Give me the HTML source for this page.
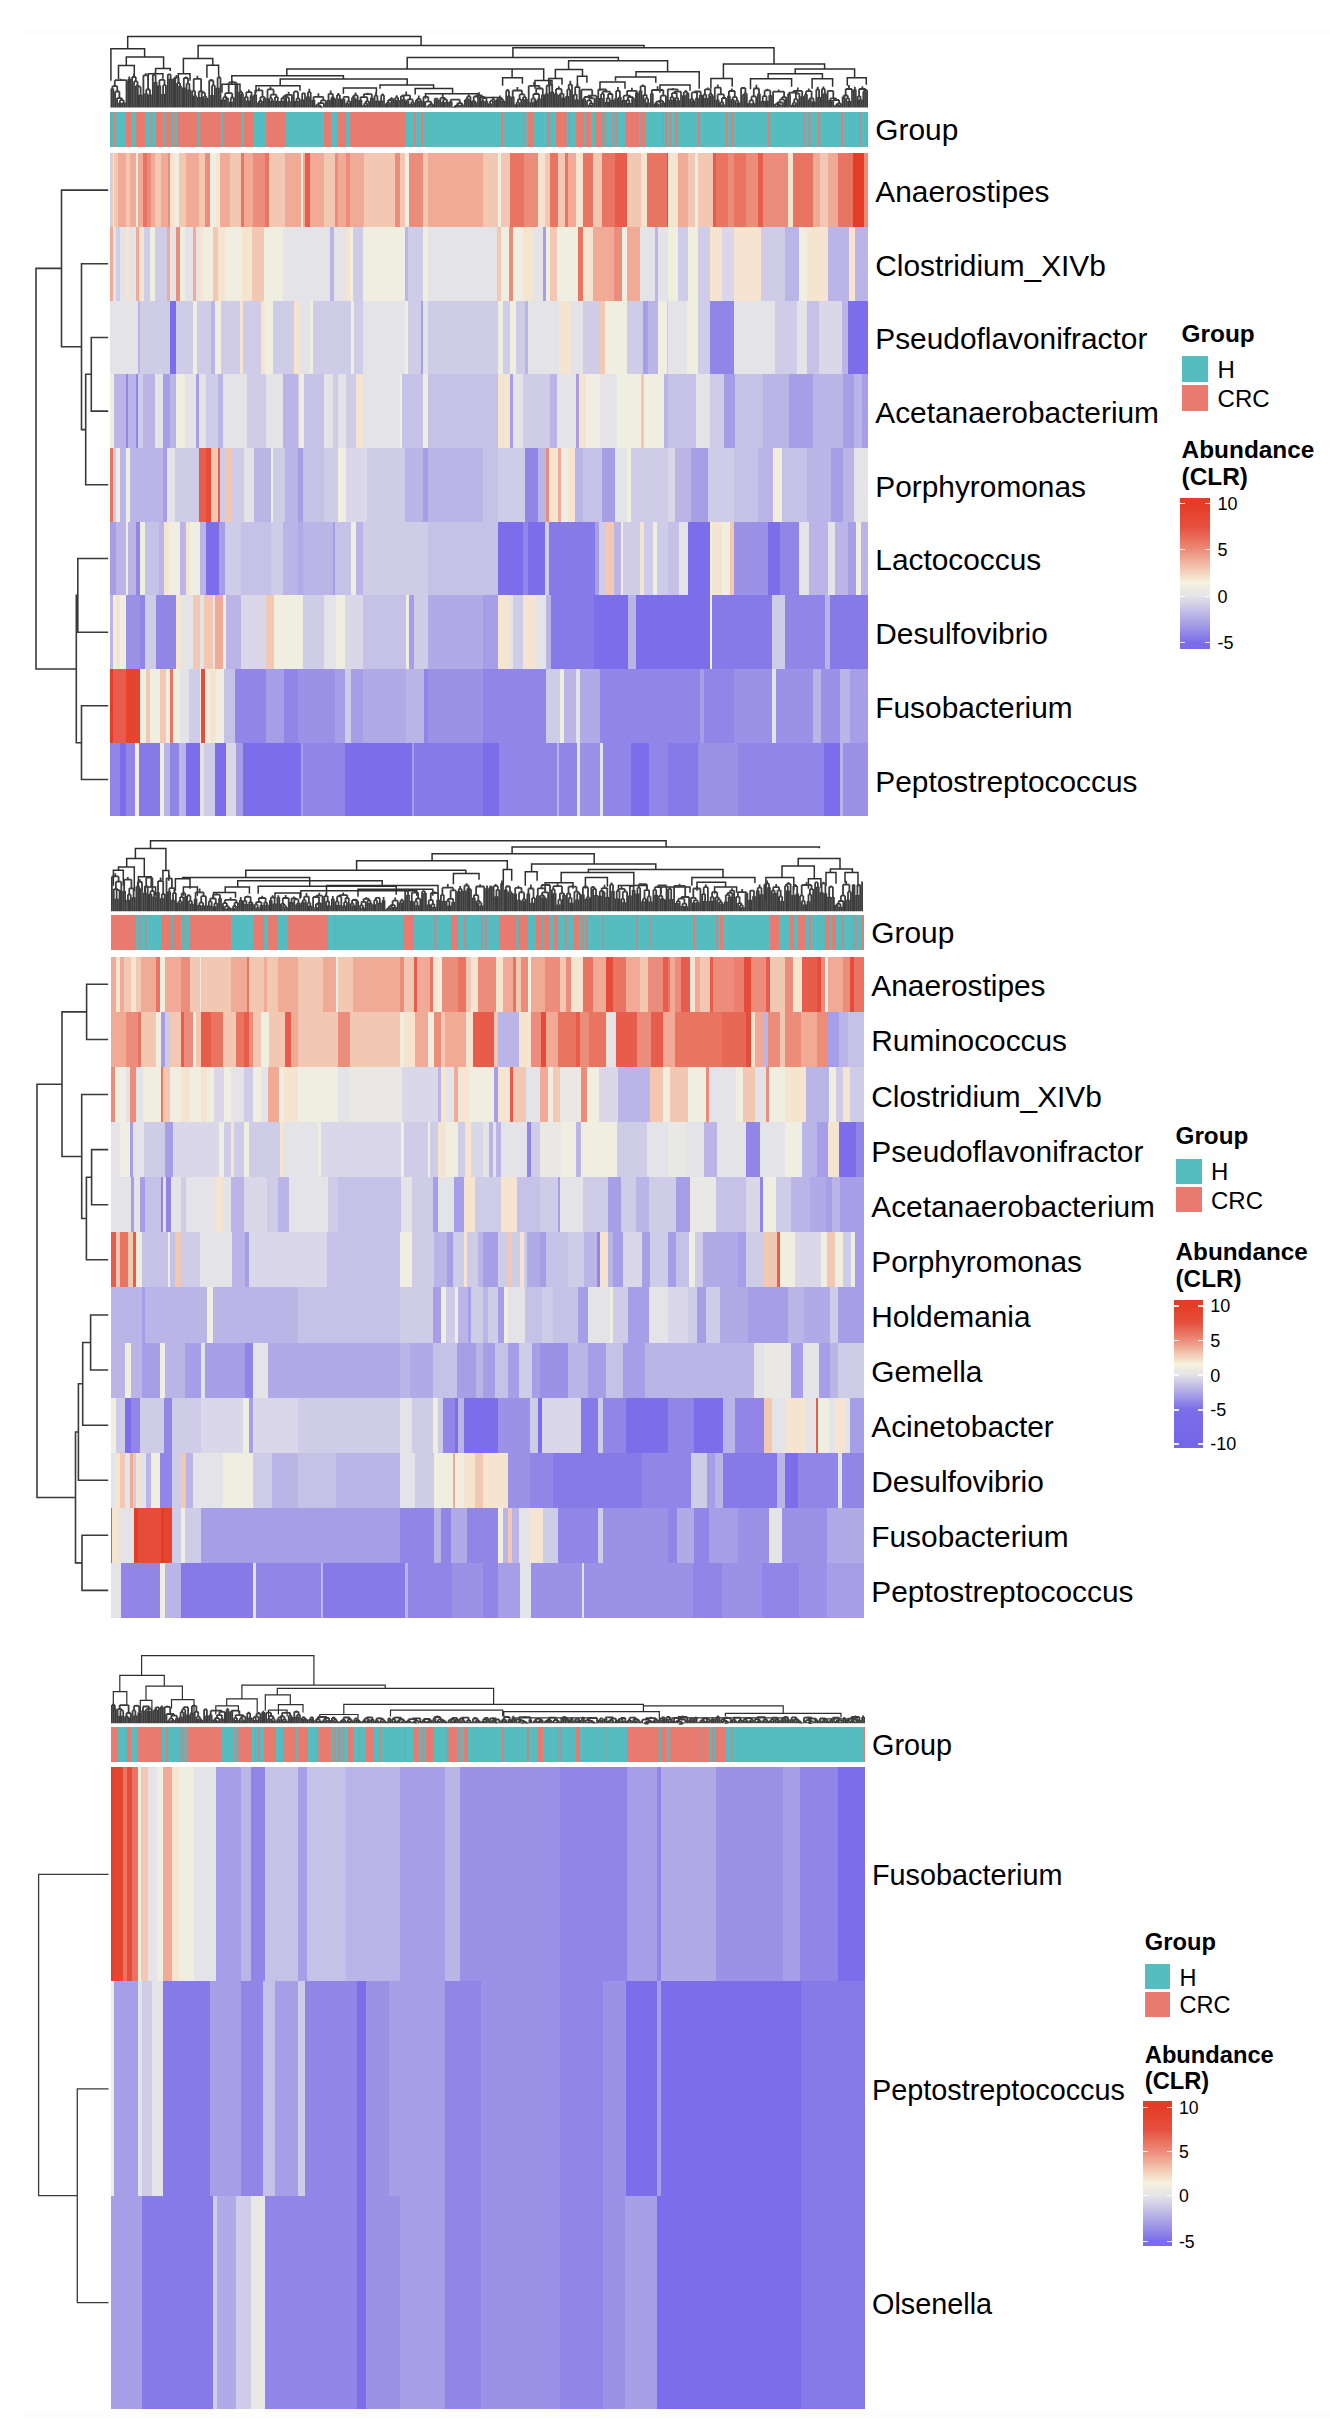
<!DOCTYPE html>
<html><head><meta charset="utf-8"><style>
html,body{margin:0;padding:0;background:#fff;width:1330px;height:2431px;overflow:hidden}
svg{display:block}
rect{shape-rendering:crispEdges}
text{font-family:"Liberation Sans",sans-serif}
</style></head><body>
<svg width="1330" height="2431" viewBox="0 0 1330 2431">
<defs><pattern id="mix" patternUnits="userSpaceOnUse" width="4.2" height="40"><rect x="0" y="0" width="1.6" height="40" fill="#55bcc0"/><rect x="1.6" y="0" width="0.6" height="40" fill="#9a9a9a"/><rect x="2.2" y="0" width="1.5" height="40" fill="#e87a70"/><rect x="3.7" y="0" width="0.5" height="40" fill="#9a9a9a"/></pattern></defs>
<rect x="23" y="28.5" width="1307" height="2390" fill="#fdfdfd"/>
<rect x="23" y="36" width="1307" height="2375" fill="#ffffff"/>
<rect x="110.00" y="112.00" width="2.06" height="35.00" fill="url(#mix)"/><rect x="111.71" y="112.00" width="2.92" height="35.00" fill="#55bcc0"/><rect x="114.29" y="112.00" width="1.55" height="35.00" fill="#e87a70"/><rect x="115.49" y="112.00" width="11.15" height="35.00" fill="#55bcc0"/><rect x="126.29" y="112.00" width="4.64" height="35.00" fill="#e87a70"/><rect x="130.58" y="112.00" width="5.49" height="35.00" fill="#55bcc0"/><rect x="135.72" y="112.00" width="9.78" height="35.00" fill="#e87a70"/><rect x="145.15" y="112.00" width="5.49" height="35.00" fill="#55bcc0"/><rect x="150.30" y="112.00" width="1.55" height="35.00" fill="url(#mix)"/><rect x="151.50" y="112.00" width="4.81" height="35.00" fill="#55bcc0"/><rect x="155.96" y="112.00" width="7.55" height="35.00" fill="#e87a70"/><rect x="163.16" y="112.00" width="2.92" height="35.00" fill="url(#mix)"/><rect x="165.73" y="112.00" width="4.64" height="35.00" fill="#e87a70"/><rect x="170.02" y="112.00" width="2.92" height="35.00" fill="url(#mix)"/><rect x="172.59" y="112.00" width="2.92" height="35.00" fill="#e87a70"/><rect x="175.16" y="112.00" width="2.41" height="35.00" fill="#55bcc0"/><rect x="177.22" y="112.00" width="20.93" height="35.00" fill="#e87a70"/><rect x="197.80" y="112.00" width="2.58" height="35.00" fill="#55bcc0"/><rect x="200.03" y="112.00" width="20.93" height="35.00" fill="#e87a70"/><rect x="220.60" y="112.00" width="2.92" height="35.00" fill="#55bcc0"/><rect x="223.18" y="112.00" width="18.36" height="35.00" fill="#e87a70"/><rect x="241.18" y="112.00" width="2.92" height="35.00" fill="#55bcc0"/><rect x="243.75" y="112.00" width="9.78" height="35.00" fill="#e87a70"/><rect x="253.19" y="112.00" width="13.21" height="35.00" fill="#55bcc0"/><rect x="266.05" y="112.00" width="19.21" height="35.00" fill="#e87a70"/><rect x="284.91" y="112.00" width="39.93" height="35.00" fill="#55bcc0"/><rect x="324.49" y="112.00" width="6.52" height="35.00" fill="#e87a70"/><rect x="330.67" y="112.00" width="7.90" height="35.00" fill="#55bcc0"/><rect x="338.21" y="112.00" width="8.24" height="35.00" fill="#e87a70"/><rect x="346.10" y="112.00" width="4.12" height="35.00" fill="#55bcc0"/><rect x="349.87" y="112.00" width="55.22" height="35.00" fill="#e87a70"/><rect x="404.75" y="112.00" width="8.92" height="35.00" fill="#55bcc0"/><rect x="413.32" y="112.00" width="2.92" height="35.00" fill="url(#mix)"/><rect x="415.89" y="112.00" width="4.98" height="35.00" fill="#55bcc0"/><rect x="420.52" y="112.00" width="3.09" height="35.00" fill="#e87a70"/><rect x="423.27" y="112.00" width="77.66" height="35.00" fill="#55bcc0"/><rect x="500.58" y="112.00" width="2.92" height="35.00" fill="#e87a70"/><rect x="503.15" y="112.00" width="20.93" height="35.00" fill="#55bcc0"/><rect x="523.73" y="112.00" width="2.58" height="35.00" fill="url(#mix)"/><rect x="525.96" y="112.00" width="2.41" height="35.00" fill="#55bcc0"/><rect x="528.01" y="112.00" width="5.49" height="35.00" fill="#e87a70"/><rect x="533.16" y="112.00" width="14.07" height="35.00" fill="#55bcc0"/><rect x="546.88" y="112.00" width="3.78" height="35.00" fill="#e87a70"/><rect x="550.31" y="112.00" width="6.35" height="35.00" fill="#55bcc0"/><rect x="556.31" y="112.00" width="8.92" height="35.00" fill="#e87a70"/><rect x="564.88" y="112.00" width="5.49" height="35.00" fill="url(#mix)"/><rect x="570.03" y="112.00" width="6.35" height="35.00" fill="#55bcc0"/><rect x="576.03" y="112.00" width="8.07" height="35.00" fill="#e87a70"/><rect x="583.75" y="112.00" width="2.92" height="35.00" fill="url(#mix)"/><rect x="586.32" y="112.00" width="4.64" height="35.00" fill="#e87a70"/><rect x="590.60" y="112.00" width="4.64" height="35.00" fill="#55bcc0"/><rect x="594.89" y="112.00" width="6.35" height="35.00" fill="#e87a70"/><rect x="600.89" y="112.00" width="6.35" height="35.00" fill="url(#mix)"/><rect x="606.90" y="112.00" width="5.49" height="35.00" fill="#55bcc0"/><rect x="612.04" y="112.00" width="5.49" height="35.00" fill="url(#mix)"/><rect x="617.18" y="112.00" width="8.07" height="35.00" fill="#55bcc0"/><rect x="624.90" y="112.00" width="14.07" height="35.00" fill="#e87a70"/><rect x="638.62" y="112.00" width="2.92" height="35.00" fill="url(#mix)"/><rect x="641.19" y="112.00" width="4.64" height="35.00" fill="#e87a70"/><rect x="645.48" y="112.00" width="18.36" height="35.00" fill="#55bcc0"/><rect x="663.48" y="112.00" width="4.37" height="35.00" fill="url(#mix)"/><rect x="667.50" y="112.00" width="1.28" height="35.00" fill="#55bcc0"/><rect x="668.43" y="112.00" width="2.92" height="35.00" fill="url(#mix)"/><rect x="671.00" y="112.00" width="4.64" height="35.00" fill="#55bcc0"/><rect x="675.29" y="112.00" width="2.92" height="35.00" fill="#e87a70"/><rect x="677.87" y="112.00" width="19.22" height="35.00" fill="#55bcc0"/><rect x="696.74" y="112.00" width="3.78" height="35.00" fill="#e87a70"/><rect x="700.17" y="112.00" width="26.09" height="35.00" fill="#55bcc0"/><rect x="725.91" y="112.00" width="2.07" height="35.00" fill="#e87a70"/><rect x="727.62" y="112.00" width="3.78" height="35.00" fill="#55bcc0"/><rect x="731.05" y="112.00" width="2.07" height="35.00" fill="#e87a70"/><rect x="732.77" y="112.00" width="35.52" height="35.00" fill="#55bcc0"/><rect x="767.94" y="112.00" width="2.07" height="35.00" fill="#e87a70"/><rect x="769.66" y="112.00" width="32.95" height="35.00" fill="#55bcc0"/><rect x="802.25" y="112.00" width="2.92" height="35.00" fill="url(#mix)"/><rect x="804.83" y="112.00" width="3.78" height="35.00" fill="#55bcc0"/><rect x="808.26" y="112.00" width="2.92" height="35.00" fill="url(#mix)"/><rect x="810.83" y="112.00" width="7.21" height="35.00" fill="#55bcc0"/><rect x="817.70" y="112.00" width="2.92" height="35.00" fill="#e87a70"/><rect x="820.27" y="112.00" width="20.94" height="35.00" fill="#55bcc0"/><rect x="840.86" y="112.00" width="2.41" height="35.00" fill="#e87a70"/><rect x="842.92" y="112.00" width="16.31" height="35.00" fill="#55bcc0"/><rect x="858.87" y="112.00" width="2.92" height="35.00" fill="url(#mix)"/><rect x="861.45" y="112.00" width="5.50" height="35.00" fill="#55bcc0"/><rect x="866.59" y="112.00" width="1.41" height="35.00" fill="#e87a70"/>
<rect x="110.00" y="153.30" width="1.72" height="73.67" fill="#cfcce7"/><rect x="111.37" y="153.30" width="2.06" height="73.67" fill="#f3c8b2"/><rect x="113.09" y="153.30" width="1.55" height="73.67" fill="#f0ede1"/><rect x="114.29" y="153.30" width="3.78" height="73.67" fill="#f3c8b2"/><rect x="117.72" y="153.30" width="8.92" height="73.67" fill="#f0aa96"/><rect x="126.29" y="153.30" width="3.78" height="73.67" fill="#f3c8b2"/><rect x="129.72" y="153.30" width="6.35" height="73.67" fill="#f0aa96"/><rect x="135.72" y="153.30" width="2.58" height="73.67" fill="#f0ede1"/><rect x="137.95" y="153.30" width="4.98" height="73.67" fill="#f0aa96"/><rect x="142.58" y="153.30" width="4.64" height="73.67" fill="#ea7462"/><rect x="146.87" y="153.30" width="4.64" height="73.67" fill="#ec8c7a"/><rect x="151.16" y="153.30" width="4.64" height="73.67" fill="#f0aa96"/><rect x="155.44" y="153.30" width="6.35" height="73.67" fill="#f3c8b2"/><rect x="161.44" y="153.30" width="7.21" height="73.67" fill="#f0aa96"/><rect x="168.30" y="153.30" width="2.06" height="73.67" fill="#ec8c7a"/><rect x="170.02" y="153.30" width="5.49" height="73.67" fill="#f5e4cf"/><rect x="175.16" y="153.30" width="3.78" height="73.67" fill="#f0ede1"/><rect x="178.59" y="153.30" width="8.07" height="73.67" fill="#f3c8b2"/><rect x="186.31" y="153.30" width="13.21" height="73.67" fill="#f0aa96"/><rect x="199.17" y="153.30" width="6.35" height="73.67" fill="#f3c8b2"/><rect x="205.17" y="153.30" width="5.49" height="73.67" fill="#ec8c7a"/><rect x="210.32" y="153.30" width="6.35" height="73.67" fill="#f0ede1"/><rect x="216.32" y="153.30" width="3.78" height="73.67" fill="#f5e4cf"/><rect x="219.75" y="153.30" width="10.64" height="73.67" fill="#f0aa96"/><rect x="230.04" y="153.30" width="11.50" height="73.67" fill="#f3c8b2"/><rect x="241.18" y="153.30" width="2.92" height="73.67" fill="#ea7462"/><rect x="243.75" y="153.30" width="9.78" height="73.67" fill="#f0aa96"/><rect x="253.19" y="153.30" width="12.35" height="73.67" fill="#ec8c7a"/><rect x="265.19" y="153.30" width="3.78" height="73.67" fill="#ea7462"/><rect x="268.62" y="153.30" width="16.64" height="73.67" fill="#f3c8b2"/><rect x="284.91" y="153.30" width="12.94" height="73.67" fill="#f0aa96"/><rect x="297.50" y="153.30" width="0.94" height="73.67" fill="#f3c8b2"/><rect x="298.09" y="153.30" width="3.27" height="73.67" fill="#f0aa96"/><rect x="301.00" y="153.30" width="2.58" height="73.67" fill="#f0ede1"/><rect x="303.23" y="153.30" width="2.41" height="73.67" fill="#f0aa96"/><rect x="305.29" y="153.30" width="4.64" height="73.67" fill="#e75c4a"/><rect x="309.58" y="153.30" width="14.93" height="73.67" fill="#f0aa96"/><rect x="324.15" y="153.30" width="11.50" height="73.67" fill="#f3c8b2"/><rect x="335.30" y="153.30" width="2.92" height="73.67" fill="#ec8c7a"/><rect x="337.87" y="153.30" width="8.92" height="73.67" fill="#f0aa96"/><rect x="346.44" y="153.30" width="3.78" height="73.67" fill="#ec8c7a"/><rect x="349.87" y="153.30" width="14.07" height="73.67" fill="#f0aa96"/><rect x="363.59" y="153.30" width="32.07" height="73.67" fill="#f3c8b2"/><rect x="395.32" y="153.30" width="4.64" height="73.67" fill="#ec8c7a"/><rect x="399.60" y="153.30" width="5.49" height="73.67" fill="#f3c8b2"/><rect x="404.75" y="153.30" width="4.64" height="73.67" fill="#f0ede1"/><rect x="409.03" y="153.30" width="14.07" height="73.67" fill="#ec8c7a"/><rect x="422.75" y="153.30" width="5.49" height="73.67" fill="#f3c8b2"/><rect x="427.90" y="153.30" width="54.95" height="73.67" fill="#f0aa96"/><rect x="482.50" y="153.30" width="15.86" height="73.67" fill="#f3c8b2"/><rect x="498.01" y="153.30" width="2.92" height="73.67" fill="#f0ede1"/><rect x="500.58" y="153.30" width="9.78" height="73.67" fill="#f3c8b2"/><rect x="510.01" y="153.30" width="14.07" height="73.67" fill="#ea7462"/><rect x="523.73" y="153.30" width="14.93" height="73.67" fill="#ec8c7a"/><rect x="538.30" y="153.30" width="7.21" height="73.67" fill="#f5e4cf"/><rect x="545.16" y="153.30" width="5.49" height="73.67" fill="#f3c8b2"/><rect x="550.31" y="153.30" width="8.07" height="73.67" fill="#ea7462"/><rect x="558.02" y="153.30" width="7.21" height="73.67" fill="#f3c8b2"/><rect x="564.88" y="153.30" width="3.78" height="73.67" fill="#ea7462"/><rect x="568.31" y="153.30" width="8.07" height="73.67" fill="#f0aa96"/><rect x="576.03" y="153.30" width="7.21" height="73.67" fill="#f5e4cf"/><rect x="582.89" y="153.30" width="10.64" height="73.67" fill="#ea7462"/><rect x="593.18" y="153.30" width="8.92" height="73.67" fill="#f3c8b2"/><rect x="601.75" y="153.30" width="14.07" height="73.67" fill="#ea7462"/><rect x="615.47" y="153.30" width="12.35" height="73.67" fill="#e75c4a"/><rect x="627.47" y="153.30" width="14.07" height="73.67" fill="#f3c8b2"/><rect x="641.19" y="153.30" width="6.35" height="73.67" fill="#f5e4cf"/><rect x="647.19" y="153.30" width="20.07" height="73.67" fill="#ea7462"/><rect x="666.91" y="153.30" width="0.94" height="73.67" fill="#e64c39"/><rect x="667.50" y="153.30" width="1.28" height="73.67" fill="#e75c4a"/><rect x="668.43" y="153.30" width="9.79" height="73.67" fill="#f5e4cf"/><rect x="677.87" y="153.30" width="10.64" height="73.67" fill="#f0aa96"/><rect x="688.16" y="153.30" width="7.21" height="73.67" fill="#f3c8b2"/><rect x="695.02" y="153.30" width="2.92" height="73.67" fill="#f0ede1"/><rect x="697.60" y="153.30" width="15.79" height="73.67" fill="#f3c8b2"/><rect x="713.04" y="153.30" width="3.78" height="73.67" fill="#e75c4a"/><rect x="716.47" y="153.30" width="11.50" height="73.67" fill="#ea7462"/><rect x="727.62" y="153.30" width="7.21" height="73.67" fill="#ec8c7a"/><rect x="734.49" y="153.30" width="11.50" height="73.67" fill="#ea7462"/><rect x="745.64" y="153.30" width="12.36" height="73.67" fill="#ec8c7a"/><rect x="757.65" y="153.30" width="5.50" height="73.67" fill="#e75c4a"/><rect x="762.79" y="153.30" width="25.23" height="73.67" fill="#ec8c7a"/><rect x="787.67" y="153.30" width="5.50" height="73.67" fill="#f5e4cf"/><rect x="792.82" y="153.30" width="20.08" height="73.67" fill="#ea7462"/><rect x="812.55" y="153.30" width="8.07" height="73.67" fill="#f0aa96"/><rect x="820.27" y="153.30" width="8.07" height="73.67" fill="#f3c8b2"/><rect x="827.99" y="153.30" width="10.64" height="73.67" fill="#f0aa96"/><rect x="838.28" y="153.30" width="14.93" height="73.67" fill="#ea7462"/><rect x="852.87" y="153.30" width="11.50" height="73.67" fill="#e53c25"/><rect x="864.02" y="153.30" width="3.98" height="73.67" fill="#ec8c7a"/>
<rect x="110.00" y="226.97" width="2.92" height="73.67" fill="#f0aa96"/><rect x="112.57" y="226.97" width="3.78" height="73.67" fill="#e4e3e8"/><rect x="116.00" y="226.97" width="4.64" height="73.67" fill="#cfcce7"/><rect x="120.29" y="226.97" width="6.35" height="73.67" fill="#e4e3e8"/><rect x="126.29" y="226.97" width="2.92" height="73.67" fill="#f5e4cf"/><rect x="128.86" y="226.97" width="7.21" height="73.67" fill="#e4e3e8"/><rect x="135.72" y="226.97" width="3.78" height="73.67" fill="#f0aa96"/><rect x="139.15" y="226.97" width="5.49" height="73.67" fill="#f5e4cf"/><rect x="144.30" y="226.97" width="6.35" height="73.67" fill="#cfcce7"/><rect x="150.30" y="226.97" width="4.64" height="73.67" fill="#f0ede1"/><rect x="154.58" y="226.97" width="12.35" height="73.67" fill="#cfcce7"/><rect x="166.59" y="226.97" width="3.78" height="73.67" fill="#f0aa96"/><rect x="170.02" y="226.97" width="6.35" height="73.67" fill="#e4e3e8"/><rect x="176.02" y="226.97" width="4.64" height="73.67" fill="#ec8c7a"/><rect x="180.31" y="226.97" width="5.49" height="73.67" fill="#f0ede1"/><rect x="185.45" y="226.97" width="8.07" height="73.67" fill="#e4e3e8"/><rect x="193.17" y="226.97" width="2.92" height="73.67" fill="#f0aa96"/><rect x="195.74" y="226.97" width="3.78" height="73.67" fill="#e4e3e8"/><rect x="199.17" y="226.97" width="4.64" height="73.67" fill="#f5e4cf"/><rect x="203.46" y="226.97" width="9.78" height="73.67" fill="#f0ede1"/><rect x="212.89" y="226.97" width="5.49" height="73.67" fill="#f3c8b2"/><rect x="218.03" y="226.97" width="7.21" height="73.67" fill="#f5e4cf"/><rect x="224.89" y="226.97" width="17.50" height="73.67" fill="#f0ede1"/><rect x="242.04" y="226.97" width="10.64" height="73.67" fill="#f5e4cf"/><rect x="252.33" y="226.97" width="12.35" height="73.67" fill="#f3c8b2"/><rect x="264.33" y="226.97" width="19.21" height="73.67" fill="#f0ede1"/><rect x="283.19" y="226.97" width="47.31" height="73.67" fill="#e4e3e8"/><rect x="330.15" y="226.97" width="3.78" height="73.67" fill="#bab5e6"/><rect x="333.58" y="226.97" width="12.35" height="73.67" fill="#e4e3e8"/><rect x="345.59" y="226.97" width="4.64" height="73.67" fill="#f5e4cf"/><rect x="349.87" y="226.97" width="3.78" height="73.67" fill="#f0ede1"/><rect x="353.30" y="226.97" width="9.78" height="73.67" fill="#cfcce7"/><rect x="362.73" y="226.97" width="42.36" height="73.67" fill="#f0ede1"/><rect x="404.75" y="226.97" width="3.78" height="73.67" fill="#bab5e6"/><rect x="408.18" y="226.97" width="14.93" height="73.67" fill="#cfcce7"/><rect x="422.75" y="226.97" width="5.49" height="73.67" fill="#f0ede1"/><rect x="427.90" y="226.97" width="69.60" height="73.67" fill="#e4e3e8"/><rect x="497.15" y="226.97" width="3.78" height="73.67" fill="#f3c8b2"/><rect x="500.58" y="226.97" width="8.92" height="73.67" fill="#f0ede1"/><rect x="509.15" y="226.97" width="3.78" height="73.67" fill="#ec8c7a"/><rect x="512.58" y="226.97" width="10.64" height="73.67" fill="#f0ede1"/><rect x="522.87" y="226.97" width="10.64" height="73.67" fill="#f5e4cf"/><rect x="533.16" y="226.97" width="9.78" height="73.67" fill="#e4e3e8"/><rect x="542.59" y="226.97" width="3.78" height="73.67" fill="#a69ee7"/><rect x="546.02" y="226.97" width="4.64" height="73.67" fill="#f0ede1"/><rect x="550.31" y="226.97" width="7.21" height="73.67" fill="#f3c8b2"/><rect x="557.17" y="226.97" width="20.93" height="73.67" fill="#f0ede1"/><rect x="577.74" y="226.97" width="5.49" height="73.67" fill="#ea7462"/><rect x="582.89" y="226.97" width="10.64" height="73.67" fill="#f5e4cf"/><rect x="593.18" y="226.97" width="20.93" height="73.67" fill="#f0aa96"/><rect x="613.75" y="226.97" width="8.92" height="73.67" fill="#ec8c7a"/><rect x="622.33" y="226.97" width="5.49" height="73.67" fill="#f0ede1"/><rect x="627.47" y="226.97" width="13.21" height="73.67" fill="#f0aa96"/><rect x="640.33" y="226.97" width="14.93" height="73.67" fill="#e4e3e8"/><rect x="654.91" y="226.97" width="3.78" height="73.67" fill="#bab5e6"/><rect x="658.34" y="226.97" width="9.51" height="73.67" fill="#e4e3e8"/><rect x="667.50" y="226.97" width="10.72" height="73.67" fill="#f0ede1"/><rect x="677.87" y="226.97" width="10.64" height="73.67" fill="#cfcce7"/><rect x="688.16" y="226.97" width="9.79" height="73.67" fill="#f0ede1"/><rect x="697.60" y="226.97" width="12.36" height="73.67" fill="#cfcce7"/><rect x="709.61" y="226.97" width="12.36" height="73.67" fill="#f5e4cf"/><rect x="721.62" y="226.97" width="13.22" height="73.67" fill="#dad8e8"/><rect x="734.49" y="226.97" width="26.94" height="73.67" fill="#f5e4cf"/><rect x="761.08" y="226.97" width="24.37" height="73.67" fill="#cfcce7"/><rect x="785.10" y="226.97" width="14.08" height="73.67" fill="#bab5e6"/><rect x="798.82" y="226.97" width="8.93" height="73.67" fill="#f0ede1"/><rect x="807.40" y="226.97" width="20.94" height="73.67" fill="#f5e4cf"/><rect x="827.99" y="226.97" width="20.94" height="73.67" fill="#bab5e6"/><rect x="848.58" y="226.97" width="7.21" height="73.67" fill="#f5e4cf"/><rect x="855.44" y="226.97" width="12.56" height="73.67" fill="#bab5e6"/>
<rect x="110.00" y="300.64" width="28.64" height="73.67" fill="#e4e3e8"/><rect x="138.29" y="300.64" width="2.06" height="73.67" fill="#bab5e6"/><rect x="140.01" y="300.64" width="30.36" height="73.67" fill="#cfcce7"/><rect x="170.02" y="300.64" width="6.35" height="73.67" fill="#7c6eea"/><rect x="176.02" y="300.64" width="17.50" height="73.67" fill="#cfcce7"/><rect x="193.17" y="300.64" width="3.78" height="73.67" fill="#f0ede1"/><rect x="196.60" y="300.64" width="14.93" height="73.67" fill="#cfcce7"/><rect x="211.17" y="300.64" width="4.64" height="73.67" fill="#bab5e6"/><rect x="215.46" y="300.64" width="6.35" height="73.67" fill="#f0ede1"/><rect x="221.46" y="300.64" width="19.21" height="73.67" fill="#cfcce7"/><rect x="240.32" y="300.64" width="2.92" height="73.67" fill="#f5e4cf"/><rect x="242.90" y="300.64" width="18.36" height="73.67" fill="#cfcce7"/><rect x="260.90" y="300.64" width="4.64" height="73.67" fill="#f5e4cf"/><rect x="265.19" y="300.64" width="8.07" height="73.67" fill="#f0ede1"/><rect x="272.91" y="300.64" width="21.79" height="73.67" fill="#cfcce7"/><rect x="294.34" y="300.64" width="6.15" height="73.67" fill="#f5e4cf"/><rect x="300.14" y="300.64" width="9.78" height="73.67" fill="#e4e3e8"/><rect x="309.58" y="300.64" width="3.78" height="73.67" fill="#f0ede1"/><rect x="313.01" y="300.64" width="38.08" height="73.67" fill="#cfcce7"/><rect x="350.73" y="300.64" width="3.78" height="73.67" fill="#f0ede1"/><rect x="354.16" y="300.64" width="8.92" height="73.67" fill="#cfcce7"/><rect x="362.73" y="300.64" width="42.36" height="73.67" fill="#e4e3e8"/><rect x="404.75" y="300.64" width="3.78" height="73.67" fill="#f0ede1"/><rect x="408.18" y="300.64" width="13.21" height="73.67" fill="#cfcce7"/><rect x="421.04" y="300.64" width="2.06" height="73.67" fill="#a69ee7"/><rect x="422.75" y="300.64" width="5.49" height="73.67" fill="#e4e3e8"/><rect x="427.90" y="300.64" width="70.46" height="73.67" fill="#cfcce7"/><rect x="498.01" y="300.64" width="5.49" height="73.67" fill="#f0ede1"/><rect x="503.15" y="300.64" width="7.21" height="73.67" fill="#cfcce7"/><rect x="510.01" y="300.64" width="6.35" height="73.67" fill="#f0ede1"/><rect x="516.01" y="300.64" width="8.92" height="73.67" fill="#cfcce7"/><rect x="524.58" y="300.64" width="3.78" height="73.67" fill="#bab5e6"/><rect x="528.01" y="300.64" width="31.22" height="73.67" fill="#e4e3e8"/><rect x="558.88" y="300.64" width="12.35" height="73.67" fill="#f5e4cf"/><rect x="570.88" y="300.64" width="12.35" height="73.67" fill="#e4e3e8"/><rect x="582.89" y="300.64" width="17.50" height="73.67" fill="#cfcce7"/><rect x="600.04" y="300.64" width="5.49" height="73.67" fill="#f3c8b2"/><rect x="605.18" y="300.64" width="22.64" height="73.67" fill="#f0ede1"/><rect x="627.47" y="300.64" width="15.78" height="73.67" fill="#cfcce7"/><rect x="642.91" y="300.64" width="5.49" height="73.67" fill="#a69ee7"/><rect x="648.05" y="300.64" width="10.64" height="73.67" fill="#bab5e6"/><rect x="658.34" y="300.64" width="8.92" height="73.67" fill="#f0ede1"/><rect x="666.91" y="300.64" width="0.94" height="73.67" fill="#cfcce7"/><rect x="667.50" y="300.64" width="20.15" height="73.67" fill="#e4e3e8"/><rect x="687.30" y="300.64" width="11.50" height="73.67" fill="#f0ede1"/><rect x="698.46" y="300.64" width="11.50" height="73.67" fill="#cfcce7"/><rect x="709.61" y="300.64" width="25.23" height="73.67" fill="#9186e8"/><rect x="734.49" y="300.64" width="40.67" height="73.67" fill="#e4e3e8"/><rect x="774.80" y="300.64" width="22.65" height="73.67" fill="#cfcce7"/><rect x="797.11" y="300.64" width="10.64" height="73.67" fill="#e4e3e8"/><rect x="807.40" y="300.64" width="12.36" height="73.67" fill="#c5c1e7"/><rect x="819.41" y="300.64" width="22.65" height="73.67" fill="#dad8e8"/><rect x="841.72" y="300.64" width="6.35" height="73.67" fill="#bab5e6"/><rect x="847.72" y="300.64" width="20.28" height="73.67" fill="#7c6eea"/>
<rect x="110.00" y="374.31" width="4.64" height="73.67" fill="#f0ede1"/><rect x="114.29" y="374.31" width="12.35" height="73.67" fill="#bab5e6"/><rect x="126.29" y="374.31" width="2.06" height="73.67" fill="#9186e8"/><rect x="128.01" y="374.31" width="8.07" height="73.67" fill="#bab5e6"/><rect x="135.72" y="374.31" width="2.92" height="73.67" fill="#9186e8"/><rect x="138.29" y="374.31" width="4.64" height="73.67" fill="#cfcce7"/><rect x="142.58" y="374.31" width="13.21" height="73.67" fill="#bab5e6"/><rect x="155.44" y="374.31" width="8.07" height="73.67" fill="#e4e3e8"/><rect x="163.16" y="374.31" width="7.21" height="73.67" fill="#a69ee7"/><rect x="170.02" y="374.31" width="6.35" height="73.67" fill="#bab5e6"/><rect x="176.02" y="374.31" width="9.78" height="73.67" fill="#f0ede1"/><rect x="185.45" y="374.31" width="10.64" height="73.67" fill="#e4e3e8"/><rect x="195.74" y="374.31" width="3.78" height="73.67" fill="#a69ee7"/><rect x="199.17" y="374.31" width="7.21" height="73.67" fill="#e4e3e8"/><rect x="206.03" y="374.31" width="12.35" height="73.67" fill="#cfcce7"/><rect x="218.03" y="374.31" width="5.49" height="73.67" fill="#bab5e6"/><rect x="223.18" y="374.31" width="24.36" height="73.67" fill="#e4e3e8"/><rect x="247.18" y="374.31" width="19.21" height="73.67" fill="#cfcce7"/><rect x="266.05" y="374.31" width="17.50" height="73.67" fill="#e4e3e8"/><rect x="283.19" y="374.31" width="14.66" height="73.67" fill="#bab5e6"/><rect x="297.50" y="374.31" width="2.14" height="73.67" fill="#cfcce7"/><rect x="299.29" y="374.31" width="4.64" height="73.67" fill="#f0ede1"/><rect x="303.57" y="374.31" width="20.93" height="73.67" fill="#c5c1e7"/><rect x="324.15" y="374.31" width="8.92" height="73.67" fill="#e4e3e8"/><rect x="332.73" y="374.31" width="5.49" height="73.67" fill="#cfcce7"/><rect x="337.87" y="374.31" width="8.92" height="73.67" fill="#e4e3e8"/><rect x="346.44" y="374.31" width="9.78" height="73.67" fill="#cfcce7"/><rect x="355.88" y="374.31" width="7.21" height="73.67" fill="#f5e4cf"/><rect x="362.73" y="374.31" width="37.22" height="73.67" fill="#e4e3e8"/><rect x="399.60" y="374.31" width="2.92" height="73.67" fill="#f0ede1"/><rect x="402.18" y="374.31" width="20.93" height="73.67" fill="#c5c1e7"/><rect x="422.75" y="374.31" width="5.49" height="73.67" fill="#f0ede1"/><rect x="427.90" y="374.31" width="70.46" height="73.67" fill="#c5c1e7"/><rect x="498.01" y="374.31" width="12.35" height="73.67" fill="#f5e4cf"/><rect x="510.01" y="374.31" width="2.92" height="73.67" fill="#a69ee7"/><rect x="512.58" y="374.31" width="10.64" height="73.67" fill="#e4e3e8"/><rect x="522.87" y="374.31" width="27.79" height="73.67" fill="#cfcce7"/><rect x="550.31" y="374.31" width="7.21" height="73.67" fill="#bab5e6"/><rect x="557.17" y="374.31" width="19.21" height="73.67" fill="#e4e3e8"/><rect x="576.03" y="374.31" width="3.78" height="73.67" fill="#a69ee7"/><rect x="579.46" y="374.31" width="7.21" height="73.67" fill="#f5e4cf"/><rect x="586.32" y="374.31" width="14.07" height="73.67" fill="#f0ede1"/><rect x="600.04" y="374.31" width="17.50" height="73.67" fill="#e4e3e8"/><rect x="617.18" y="374.31" width="24.36" height="73.67" fill="#f0ede1"/><rect x="641.19" y="374.31" width="2.92" height="73.67" fill="#f3c8b2"/><rect x="643.76" y="374.31" width="20.93" height="73.67" fill="#f0ede1"/><rect x="664.34" y="374.31" width="3.51" height="73.67" fill="#bab5e6"/><rect x="667.50" y="374.31" width="28.73" height="73.67" fill="#c5c1e7"/><rect x="695.88" y="374.31" width="14.08" height="73.67" fill="#e4e3e8"/><rect x="709.61" y="374.31" width="14.93" height="73.67" fill="#cfcce7"/><rect x="724.19" y="374.31" width="11.50" height="73.67" fill="#a69ee7"/><rect x="735.34" y="374.31" width="27.80" height="73.67" fill="#c5c1e7"/><rect x="762.79" y="374.31" width="26.09" height="73.67" fill="#bab5e6"/><rect x="788.53" y="374.31" width="24.37" height="73.67" fill="#a69ee7"/><rect x="812.55" y="374.31" width="31.23" height="73.67" fill="#bab5e6"/><rect x="843.43" y="374.31" width="10.64" height="73.67" fill="#a69ee7"/><rect x="853.73" y="374.31" width="8.93" height="73.67" fill="#bab5e6"/><rect x="862.30" y="374.31" width="5.70" height="73.67" fill="#a69ee7"/>
<rect x="110.00" y="447.98" width="2.92" height="73.67" fill="#ea7462"/><rect x="112.57" y="447.98" width="3.78" height="73.67" fill="#cfcce7"/><rect x="116.00" y="447.98" width="4.64" height="73.67" fill="#f0ede1"/><rect x="120.29" y="447.98" width="6.35" height="73.67" fill="#bab5e6"/><rect x="126.29" y="447.98" width="3.78" height="73.67" fill="#f0ede1"/><rect x="129.72" y="447.98" width="33.79" height="73.67" fill="#bab5e6"/><rect x="163.16" y="447.98" width="3.78" height="73.67" fill="#a69ee7"/><rect x="166.59" y="447.98" width="8.92" height="73.67" fill="#e4e3e8"/><rect x="175.16" y="447.98" width="24.36" height="73.67" fill="#cfcce7"/><rect x="199.17" y="447.98" width="7.21" height="73.67" fill="#e75c4a"/><rect x="206.03" y="447.98" width="5.49" height="73.67" fill="#e64c39"/><rect x="211.17" y="447.98" width="7.21" height="73.67" fill="#f3c8b2"/><rect x="218.03" y="447.98" width="2.06" height="73.67" fill="#e75c4a"/><rect x="219.75" y="447.98" width="5.49" height="73.67" fill="#cfcce7"/><rect x="224.89" y="447.98" width="7.21" height="73.67" fill="#f3c8b2"/><rect x="231.75" y="447.98" width="12.35" height="73.67" fill="#cfcce7"/><rect x="243.75" y="447.98" width="10.64" height="73.67" fill="#e4e3e8"/><rect x="254.04" y="447.98" width="17.50" height="73.67" fill="#bab5e6"/><rect x="271.19" y="447.98" width="2.06" height="73.67" fill="#f0ede1"/><rect x="272.91" y="447.98" width="12.35" height="73.67" fill="#cfcce7"/><rect x="284.91" y="447.98" width="13.87" height="73.67" fill="#bab5e6"/><rect x="298.43" y="447.98" width="4.64" height="73.67" fill="#a69ee7"/><rect x="302.72" y="447.98" width="21.79" height="73.67" fill="#c5c1e7"/><rect x="324.15" y="447.98" width="14.07" height="73.67" fill="#cfcce7"/><rect x="337.87" y="447.98" width="8.92" height="73.67" fill="#f0ede1"/><rect x="346.44" y="447.98" width="20.93" height="73.67" fill="#dad8e8"/><rect x="367.02" y="447.98" width="38.08" height="73.67" fill="#cfcce7"/><rect x="404.75" y="447.98" width="18.36" height="73.67" fill="#bab5e6"/><rect x="422.75" y="447.98" width="5.49" height="73.67" fill="#a69ee7"/><rect x="427.90" y="447.98" width="54.95" height="73.67" fill="#bab5e6"/><rect x="482.50" y="447.98" width="15.86" height="73.67" fill="#c5c1e7"/><rect x="498.01" y="447.98" width="26.93" height="73.67" fill="#cfcce7"/><rect x="524.58" y="447.98" width="14.07" height="73.67" fill="#9186e8"/><rect x="538.30" y="447.98" width="8.07" height="73.67" fill="#bab5e6"/><rect x="546.02" y="447.98" width="3.78" height="73.67" fill="#ec8c7a"/><rect x="549.45" y="447.98" width="8.92" height="73.67" fill="#f5e4cf"/><rect x="558.02" y="447.98" width="3.78" height="73.67" fill="#f0aa96"/><rect x="561.45" y="447.98" width="7.21" height="73.67" fill="#f0ede1"/><rect x="568.31" y="447.98" width="7.21" height="73.67" fill="#f5e4cf"/><rect x="575.17" y="447.98" width="8.07" height="73.67" fill="#bab5e6"/><rect x="582.89" y="447.98" width="19.21" height="73.67" fill="#c5c1e7"/><rect x="601.75" y="447.98" width="14.07" height="73.67" fill="#a69ee7"/><rect x="615.47" y="447.98" width="12.35" height="73.67" fill="#e4e3e8"/><rect x="627.47" y="447.98" width="3.78" height="73.67" fill="#f0ede1"/><rect x="630.90" y="447.98" width="36.95" height="73.67" fill="#cfcce7"/><rect x="667.50" y="447.98" width="8.14" height="73.67" fill="#dad8e8"/><rect x="675.29" y="447.98" width="15.79" height="73.67" fill="#bab5e6"/><rect x="690.74" y="447.98" width="17.51" height="73.67" fill="#a69ee7"/><rect x="707.89" y="447.98" width="26.09" height="73.67" fill="#cfcce7"/><rect x="733.63" y="447.98" width="24.37" height="73.67" fill="#c5c1e7"/><rect x="757.65" y="447.98" width="15.79" height="73.67" fill="#bab5e6"/><rect x="773.09" y="447.98" width="8.93" height="73.67" fill="#f0ede1"/><rect x="781.67" y="447.98" width="26.09" height="73.67" fill="#c5c1e7"/><rect x="807.40" y="447.98" width="24.37" height="73.67" fill="#bab5e6"/><rect x="831.42" y="447.98" width="12.36" height="73.67" fill="#a69ee7"/><rect x="843.43" y="447.98" width="10.64" height="73.67" fill="#bab5e6"/><rect x="853.73" y="447.98" width="14.27" height="73.67" fill="#e4e3e8"/>
<rect x="110.00" y="521.65" width="6.06" height="73.67" fill="#a69ee7"/><rect x="115.71" y="521.65" width="10.35" height="73.67" fill="#bab5e6"/><rect x="125.71" y="521.65" width="2.49" height="73.67" fill="#f0ede1"/><rect x="127.86" y="521.65" width="8.21" height="73.67" fill="#bab5e6"/><rect x="135.71" y="521.65" width="4.64" height="73.67" fill="#9186e8"/><rect x="140.00" y="521.65" width="5.35" height="73.67" fill="#f0ede1"/><rect x="145.00" y="521.65" width="13.92" height="73.67" fill="#c5c1e7"/><rect x="158.57" y="521.65" width="6.06" height="73.67" fill="#bab5e6"/><rect x="164.29" y="521.65" width="4.64" height="73.67" fill="#f5e4cf"/><rect x="168.57" y="521.65" width="11.78" height="73.67" fill="#f0ede1"/><rect x="180.00" y="521.65" width="6.06" height="73.67" fill="#bab5e6"/><rect x="185.71" y="521.65" width="4.64" height="73.67" fill="#f5e4cf"/><rect x="190.00" y="521.65" width="10.35" height="73.67" fill="#f0ede1"/><rect x="200.00" y="521.65" width="6.06" height="73.67" fill="#bab5e6"/><rect x="205.71" y="521.65" width="13.21" height="73.67" fill="#7c6eea"/><rect x="218.57" y="521.65" width="6.78" height="73.67" fill="#a69ee7"/><rect x="225.00" y="521.65" width="16.78" height="73.67" fill="#cfcce7"/><rect x="241.43" y="521.65" width="30.35" height="73.67" fill="#c5c1e7"/><rect x="271.43" y="521.65" width="11.78" height="73.67" fill="#cfcce7"/><rect x="282.86" y="521.65" width="14.99" height="73.67" fill="#bab5e6"/><rect x="297.50" y="521.65" width="5.71" height="73.67" fill="#b0aae6"/><rect x="302.86" y="521.65" width="30.35" height="73.67" fill="#bab5e6"/><rect x="332.86" y="521.65" width="2.49" height="73.67" fill="#a69ee7"/><rect x="335.00" y="521.65" width="16.06" height="73.67" fill="#c5c1e7"/><rect x="350.71" y="521.65" width="5.35" height="73.67" fill="#f0ede1"/><rect x="355.71" y="521.65" width="7.49" height="73.67" fill="#bab5e6"/><rect x="362.86" y="521.65" width="65.35" height="73.67" fill="#cfcce7"/><rect x="427.86" y="521.65" width="70.35" height="73.67" fill="#c5c1e7"/><rect x="497.86" y="521.65" width="25.35" height="73.67" fill="#7c6eea"/><rect x="522.86" y="521.65" width="5.35" height="73.67" fill="#9186e8"/><rect x="527.86" y="521.65" width="17.49" height="73.67" fill="#7c6eea"/><rect x="545.00" y="521.65" width="4.64" height="73.67" fill="#cfcce7"/><rect x="549.29" y="521.65" width="46.06" height="73.67" fill="#867ae9"/><rect x="595.00" y="521.65" width="4.64" height="73.67" fill="#a69ee7"/><rect x="599.29" y="521.65" width="6.78" height="73.67" fill="#cfcce7"/><rect x="605.71" y="521.65" width="8.92" height="73.67" fill="#f3c8b2"/><rect x="614.29" y="521.65" width="6.78" height="73.67" fill="#bab5e6"/><rect x="620.71" y="521.65" width="2.49" height="73.67" fill="#f0ede1"/><rect x="622.86" y="521.65" width="17.49" height="73.67" fill="#cfcce7"/><rect x="640.00" y="521.65" width="3.92" height="73.67" fill="#f5e4cf"/><rect x="643.57" y="521.65" width="9.64" height="73.67" fill="#cfcce7"/><rect x="652.86" y="521.65" width="4.64" height="73.67" fill="#f0ede1"/><rect x="657.14" y="521.65" width="10.71" height="73.67" fill="#cfcce7"/><rect x="667.50" y="521.65" width="12.06" height="73.67" fill="#c5c1e7"/><rect x="679.21" y="521.65" width="9.03" height="73.67" fill="#e4e3e8"/><rect x="687.89" y="521.65" width="22.46" height="73.67" fill="#7c6eea"/><rect x="710.00" y="521.65" width="2.72" height="73.67" fill="#f0ede1"/><rect x="712.37" y="521.65" width="9.82" height="73.67" fill="#f5e4cf"/><rect x="721.84" y="521.65" width="8.24" height="73.67" fill="#f0ede1"/><rect x="729.74" y="521.65" width="5.09" height="73.67" fill="#f3c8b2"/><rect x="734.47" y="521.65" width="33.51" height="73.67" fill="#9b92e8"/><rect x="767.63" y="521.65" width="12.98" height="73.67" fill="#7c6eea"/><rect x="780.26" y="521.65" width="19.30" height="73.67" fill="#9186e8"/><rect x="799.21" y="521.65" width="10.61" height="73.67" fill="#e4e3e8"/><rect x="809.47" y="521.65" width="18.51" height="73.67" fill="#bab5e6"/><rect x="827.63" y="521.65" width="7.46" height="73.67" fill="#e4e3e8"/><rect x="834.74" y="521.65" width="13.77" height="73.67" fill="#bab5e6"/><rect x="848.16" y="521.65" width="8.24" height="73.67" fill="#a69ee7"/><rect x="856.05" y="521.65" width="5.09" height="73.67" fill="#f0ede1"/><rect x="860.79" y="521.65" width="7.21" height="73.67" fill="#bab5e6"/>
<rect x="110.00" y="595.32" width="3.21" height="73.67" fill="#bab5e6"/><rect x="112.86" y="595.32" width="3.21" height="73.67" fill="#f0ede1"/><rect x="115.71" y="595.32" width="4.64" height="73.67" fill="#f5e4cf"/><rect x="120.00" y="595.32" width="6.06" height="73.67" fill="#f0ede1"/><rect x="125.71" y="595.32" width="14.64" height="73.67" fill="#9b92e8"/><rect x="140.00" y="595.32" width="5.35" height="73.67" fill="#9186e8"/><rect x="145.00" y="595.32" width="11.06" height="73.67" fill="#cfcce7"/><rect x="155.71" y="595.32" width="20.35" height="73.67" fill="#9186e8"/><rect x="175.71" y="595.32" width="6.06" height="73.67" fill="#f5e4cf"/><rect x="181.43" y="595.32" width="11.78" height="73.67" fill="#e4e3e8"/><rect x="192.86" y="595.32" width="7.49" height="73.67" fill="#f3c8b2"/><rect x="200.00" y="595.32" width="4.64" height="73.67" fill="#e4e3e8"/><rect x="204.29" y="595.32" width="8.92" height="73.67" fill="#f3c8b2"/><rect x="212.86" y="595.32" width="2.49" height="73.67" fill="#e4e3e8"/><rect x="215.00" y="595.32" width="8.21" height="73.67" fill="#f0aa96"/><rect x="222.86" y="595.32" width="3.21" height="73.67" fill="#f0ede1"/><rect x="225.71" y="595.32" width="15.35" height="73.67" fill="#bab5e6"/><rect x="240.71" y="595.32" width="25.35" height="73.67" fill="#dad8e8"/><rect x="265.71" y="595.32" width="8.92" height="73.67" fill="#f3c8b2"/><rect x="274.29" y="595.32" width="28.92" height="73.67" fill="#f0ede1"/><rect x="302.86" y="595.32" width="21.78" height="73.67" fill="#cfcce7"/><rect x="324.29" y="595.32" width="12.49" height="73.67" fill="#e4e3e8"/><rect x="336.43" y="595.32" width="8.92" height="73.67" fill="#f0ede1"/><rect x="345.00" y="595.32" width="18.21" height="73.67" fill="#dad8e8"/><rect x="362.86" y="595.32" width="43.21" height="73.67" fill="#c5c1e7"/><rect x="405.71" y="595.32" width="3.92" height="73.67" fill="#f0ede1"/><rect x="409.29" y="595.32" width="4.64" height="73.67" fill="#a69ee7"/><rect x="413.57" y="595.32" width="14.64" height="73.67" fill="#cfcce7"/><rect x="427.86" y="595.32" width="54.99" height="73.67" fill="#b0aae6"/><rect x="482.50" y="595.32" width="15.71" height="73.67" fill="#a69ee7"/><rect x="497.86" y="595.32" width="11.06" height="73.67" fill="#f5e4cf"/><rect x="508.57" y="595.32" width="4.64" height="73.67" fill="#e4e3e8"/><rect x="512.86" y="595.32" width="10.35" height="73.67" fill="#cfcce7"/><rect x="522.86" y="595.32" width="13.21" height="73.67" fill="#f5e4cf"/><rect x="535.71" y="595.32" width="10.35" height="73.67" fill="#e4e3e8"/><rect x="545.71" y="595.32" width="5.35" height="73.67" fill="#bab5e6"/><rect x="550.71" y="595.32" width="43.92" height="73.67" fill="#867ae9"/><rect x="594.29" y="595.32" width="33.92" height="73.67" fill="#7c6eea"/><rect x="627.86" y="595.32" width="8.21" height="73.67" fill="#bab5e6"/><rect x="635.71" y="595.32" width="74.64" height="73.67" fill="#7c6eea"/><rect x="710.00" y="595.32" width="2.72" height="73.67" fill="#f0ede1"/><rect x="712.37" y="595.32" width="60.35" height="73.67" fill="#867ae9"/><rect x="772.37" y="595.32" width="12.98" height="73.67" fill="#cfcce7"/><rect x="785.00" y="595.32" width="40.61" height="73.67" fill="#9186e8"/><rect x="825.26" y="595.32" width="5.09" height="73.67" fill="#bab5e6"/><rect x="830.00" y="595.32" width="38.00" height="73.67" fill="#867ae9"/>
<rect x="110.00" y="668.99" width="3.21" height="73.67" fill="#e53c25"/><rect x="112.86" y="668.99" width="13.21" height="73.67" fill="#e75c4a"/><rect x="125.71" y="668.99" width="14.64" height="73.67" fill="#e5442f"/><rect x="140.00" y="668.99" width="6.06" height="73.67" fill="#f0ede1"/><rect x="145.71" y="668.99" width="4.64" height="73.67" fill="#f3c8b2"/><rect x="150.00" y="668.99" width="10.35" height="73.67" fill="#f0ede1"/><rect x="160.00" y="668.99" width="6.06" height="73.67" fill="#f3c8b2"/><rect x="165.71" y="668.99" width="4.64" height="73.67" fill="#f0ede1"/><rect x="170.00" y="668.99" width="3.21" height="73.67" fill="#ea7462"/><rect x="172.86" y="668.99" width="7.49" height="73.67" fill="#f0ede1"/><rect x="180.00" y="668.99" width="8.92" height="73.67" fill="#e4e3e8"/><rect x="188.57" y="668.99" width="11.78" height="73.67" fill="#cfcce7"/><rect x="200.00" y="668.99" width="1.78" height="73.67" fill="#f0ede1"/><rect x="201.43" y="668.99" width="3.92" height="73.67" fill="#e64c39"/><rect x="205.00" y="668.99" width="5.35" height="73.67" fill="#f0ede1"/><rect x="210.00" y="668.99" width="6.06" height="73.67" fill="#f5e4cf"/><rect x="215.71" y="668.99" width="8.92" height="73.67" fill="#f0ede1"/><rect x="224.29" y="668.99" width="11.06" height="73.67" fill="#c5c1e7"/><rect x="235.00" y="668.99" width="31.06" height="73.67" fill="#9186e8"/><rect x="265.71" y="668.99" width="18.21" height="73.67" fill="#a69ee7"/><rect x="283.57" y="668.99" width="14.28" height="73.67" fill="#9186e8"/><rect x="297.50" y="668.99" width="37.85" height="73.67" fill="#9b92e8"/><rect x="335.00" y="668.99" width="10.35" height="73.67" fill="#a69ee7"/><rect x="345.00" y="668.99" width="6.06" height="73.67" fill="#cfcce7"/><rect x="350.71" y="668.99" width="12.49" height="73.67" fill="#a69ee7"/><rect x="362.86" y="668.99" width="43.92" height="73.67" fill="#b0aae6"/><rect x="406.43" y="668.99" width="17.49" height="73.67" fill="#bab5e6"/><rect x="423.57" y="668.99" width="4.64" height="73.67" fill="#9186e8"/><rect x="427.86" y="668.99" width="54.99" height="73.67" fill="#9b92e8"/><rect x="482.50" y="668.99" width="63.56" height="73.67" fill="#9186e8"/><rect x="545.71" y="668.99" width="14.64" height="73.67" fill="#cfcce7"/><rect x="560.00" y="668.99" width="4.64" height="73.67" fill="#f0ede1"/><rect x="564.29" y="668.99" width="11.78" height="73.67" fill="#bab5e6"/><rect x="575.71" y="668.99" width="4.64" height="73.67" fill="#e4e3e8"/><rect x="580.00" y="668.99" width="20.35" height="73.67" fill="#b0aae6"/><rect x="600.00" y="668.99" width="100.09" height="73.67" fill="#9186e8"/><rect x="699.74" y="668.99" width="5.09" height="73.67" fill="#a69ee7"/><rect x="704.47" y="668.99" width="30.35" height="73.67" fill="#9186e8"/><rect x="734.47" y="668.99" width="38.24" height="73.67" fill="#9b92e8"/><rect x="772.37" y="668.99" width="3.51" height="73.67" fill="#e4e3e8"/><rect x="775.53" y="668.99" width="38.24" height="73.67" fill="#9b92e8"/><rect x="813.42" y="668.99" width="7.46" height="73.67" fill="#bab5e6"/><rect x="820.53" y="668.99" width="20.09" height="73.67" fill="#9b92e8"/><rect x="840.26" y="668.99" width="9.82" height="73.67" fill="#bab5e6"/><rect x="849.74" y="668.99" width="18.26" height="73.67" fill="#a69ee7"/>
<rect x="110.00" y="742.66" width="10.35" height="73.67" fill="#9186e8"/><rect x="120.00" y="742.66" width="6.06" height="73.67" fill="#7c6eea"/><rect x="125.71" y="742.66" width="9.64" height="73.67" fill="#9186e8"/><rect x="135.00" y="742.66" width="3.92" height="73.67" fill="#f0ede1"/><rect x="138.57" y="742.66" width="21.78" height="73.67" fill="#867ae9"/><rect x="160.00" y="742.66" width="3.92" height="73.67" fill="#f0ede1"/><rect x="163.57" y="742.66" width="6.78" height="73.67" fill="#bab5e6"/><rect x="170.00" y="742.66" width="8.92" height="73.67" fill="#9186e8"/><rect x="178.57" y="742.66" width="7.49" height="73.67" fill="#bab5e6"/><rect x="185.71" y="742.66" width="14.64" height="73.67" fill="#7c6eea"/><rect x="200.00" y="742.66" width="4.64" height="73.67" fill="#e4e3e8"/><rect x="204.29" y="742.66" width="11.06" height="73.67" fill="#cfcce7"/><rect x="215.00" y="742.66" width="11.06" height="73.67" fill="#7c6eea"/><rect x="225.71" y="742.66" width="10.35" height="73.67" fill="#dad8e8"/><rect x="235.71" y="742.66" width="7.49" height="73.67" fill="#a69ee7"/><rect x="242.86" y="742.66" width="58.21" height="73.67" fill="#7c6eea"/><rect x="300.71" y="742.66" width="2.49" height="73.67" fill="#a69ee7"/><rect x="302.86" y="742.66" width="42.49" height="73.67" fill="#9186e8"/><rect x="345.00" y="742.66" width="67.49" height="73.67" fill="#7c6eea"/><rect x="412.14" y="742.66" width="1.78" height="73.67" fill="#a69ee7"/><rect x="413.57" y="742.66" width="69.28" height="73.67" fill="#867ae9"/><rect x="482.50" y="742.66" width="16.42" height="73.67" fill="#7c6eea"/><rect x="498.57" y="742.66" width="58.92" height="73.67" fill="#9186e8"/><rect x="557.14" y="742.66" width="2.49" height="73.67" fill="#bab5e6"/><rect x="559.29" y="742.66" width="18.21" height="73.67" fill="#9186e8"/><rect x="577.14" y="742.66" width="3.21" height="73.67" fill="#e4e3e8"/><rect x="580.00" y="742.66" width="20.35" height="73.67" fill="#9b92e8"/><rect x="600.00" y="742.66" width="3.21" height="73.67" fill="#e4e3e8"/><rect x="602.86" y="742.66" width="28.92" height="73.67" fill="#9186e8"/><rect x="631.43" y="742.66" width="17.49" height="73.67" fill="#7c6eea"/><rect x="648.57" y="742.66" width="19.28" height="73.67" fill="#9186e8"/><rect x="667.50" y="742.66" width="31.01" height="73.67" fill="#867ae9"/><rect x="698.16" y="742.66" width="39.82" height="73.67" fill="#9b92e8"/><rect x="737.63" y="742.66" width="87.19" height="73.67" fill="#9186e8"/><rect x="824.47" y="742.66" width="16.14" height="73.67" fill="#7c6eea"/><rect x="840.26" y="742.66" width="3.51" height="73.67" fill="#bab5e6"/><rect x="843.42" y="742.66" width="24.58" height="73.67" fill="#9b92e8"/>
<text x="875.30" y="139.70" font-size="29.85" fill="#000">Group</text>
<text x="875.30" y="202.14" font-size="29.85" fill="#000">Anaerostipes</text>
<text x="875.30" y="275.81" font-size="29.85" fill="#000">Clostridium_XIVb</text>
<text x="875.30" y="349.48" font-size="29.85" fill="#000">Pseudoflavonifractor</text>
<text x="875.30" y="423.14" font-size="29.85" fill="#000">Acetanaerobacterium</text>
<text x="875.30" y="496.82" font-size="29.85" fill="#000">Porphyromonas</text>
<text x="875.30" y="570.49" font-size="29.85" fill="#000">Lactococcus</text>
<text x="875.30" y="644.15" font-size="29.85" fill="#000">Desulfovibrio</text>
<text x="875.30" y="717.83" font-size="29.85" fill="#000">Fusobacterium</text>
<text x="875.30" y="791.50" font-size="29.85" fill="#000">Peptostreptococcus</text>
<path d="M107.4 337.5H91.3V411.1H107.4M91.3 374.3H85.7V484.8H107.4M107.4 263.8H81.5V429.6H85.7M107.4 190.1H61.5V346.7H81.5M107.4 558.5H77.8V632.2H107.4M107.4 705.8H81.5V779.5H107.4M77.8 595.3H76.3V742.7H81.5M61.5 268.4H36.0V669.0H76.3" stroke="#3a3a3a" stroke-width="1.60" fill="none" stroke-linecap="square"/>
<path d="M127.7 36.6L421.1 36.6M127.7 36.6L127.7 48.8M421.1 36.6L421.1 45.4M198.1 45.5L644.1 45.5M198.1 45.5L198.1 58.6M644.1 45.5L644.1 47.8M512.9 47.8L774.0 47.8M512.9 47.8L512.9 57.5M774.0 47.8L774.0 64.0M407.2 57.5L618.4 57.5M407.2 57.5L407.2 68.9M618.4 57.5L618.4 60.8M568.6 60.8L667.6 60.8M568.6 60.8L568.6 69.6M667.6 60.8L667.6 71.8M286.8 68.9L543.7 68.9M286.8 68.9L286.8 75.7M543.7 68.9L543.7 80.6M512.1 68.9L512.1 77.7M231.8 75.7L343.4 75.7M231.8 75.7L231.8 84.3M343.4 75.7L343.4 79.1M280.2 79.1L407.2 79.1M280.2 79.1L280.2 85.7M407.2 79.1L407.2 85.0M380.0 85.0L433.6 85.0M380.0 85.0L380.0 87.9M433.6 85.0L433.6 88.6M343.4 87.9L376.4 87.9M343.4 87.9L343.4 93.0M376.4 87.9L376.4 93.0M415.2 88.6L452.6 88.6M415.2 88.6L415.2 93.8M452.6 88.6L452.6 93.8M425.5 93.8L478.3 93.8M425.5 93.8L425.5 98.0M478.3 93.8L478.3 97.4M480.5 97.4L500.0 97.4M480.5 97.4L480.5 100.0M500.0 97.4L500.0 100.0M206.9 65.2L218.6 65.2M206.9 65.2L206.9 77.0M218.6 65.2L218.6 75.0M183.4 58.6L212.8 58.6M183.4 58.6L183.4 73.7M212.8 58.6L212.8 65.2M178.3 73.7L190.0 73.7M178.3 73.7L178.3 82.0M190.0 73.7L190.0 80.0M110.9 48.8L144.6 48.8M110.9 48.8L110.9 80.0M144.6 48.8L144.6 57.1M126.3 57.1L163.6 57.1M126.3 57.1L126.3 65.5M163.6 57.1L163.6 68.4M118.5 65.5L134.3 65.5M118.5 65.5L118.5 78.4M134.3 65.5L134.3 75.5M155.6 68.4L170.2 68.4M155.6 68.4L155.6 73.7M170.2 68.4L170.2 70.3M148.3 73.7L162.9 73.7M148.3 73.7L148.3 80.0M162.9 73.7L162.9 78.0M555.4 69.6L582.5 69.6M555.4 69.6L555.4 78.4M582.5 69.6L582.5 76.2M502.6 77.7L522.4 77.7M502.6 77.7L502.6 85.0M522.4 77.7L522.4 83.0M548.8 78.4L562.0 78.4M548.8 78.4L548.8 86.0M562.0 78.4L562.0 84.0M577.4 76.2L586.9 76.2M577.4 76.2L577.4 85.0M586.9 76.2L586.9 82.0M636.0 71.8L699.2 71.8M636.0 71.8L636.0 76.9M699.2 71.8L699.2 87.9M615.5 76.9L655.8 76.9M615.5 76.9L615.5 80.0M655.8 76.9L655.8 82.0M723.4 64.0L824.6 64.0M723.4 64.0L723.4 78.4M824.6 64.0L824.6 68.9M710.9 78.4L732.2 78.4M710.9 78.4L710.9 88.0M732.2 78.4L732.2 86.0M795.2 68.9L854.6 68.9M795.2 68.9L795.2 73.7M854.6 68.9L854.6 77.7M768.1 73.7L822.4 73.7M768.1 73.7L768.1 78.7M822.4 73.7L822.4 78.7M750.5 78.7L791.6 78.7M750.5 78.7L750.5 88.6M791.6 78.7L791.6 86.0M812.1 78.7L832.6 78.7M812.1 78.7L812.1 88.0M832.6 78.7L832.6 86.0M847.3 77.7L866.3 77.7M847.3 77.7L847.3 85.0M866.3 77.7L866.3 84.0M222.0 84.3L240.0 84.3M222.0 84.3L222.0 92.0M240.0 84.3L240.0 92.0M256.0 85.7L300.0 85.7M256.0 85.7L256.0 92.0M300.0 85.7L300.0 90.0M535.0 80.6L552.0 80.6M535.0 80.6L535.0 88.0M552.0 80.6L552.0 86.0M600.0 82.0L625.0 82.0M600.0 82.0L600.0 90.0M625.0 82.0L625.0 88.0M660.0 85.0L690.0 85.0M660.0 85.0L660.0 92.0M690.0 85.0L690.0 90.0" stroke="#2e2e2e" stroke-width="1.50" fill="none" stroke-linecap="square"/>
<path d="M111.4 90.2L111.4 107.6M113.3 91.8L113.3 107.6M111.4 88.6L113.3 88.6M111.4 88.6L111.4 90.2M113.3 88.6L113.3 91.8M115.2 95.8L115.2 107.6M117.1 100.9L117.1 107.6M119.0 104.4L119.0 107.6M120.8 104.7L120.8 107.6M119.0 102.7L120.8 102.7M119.0 102.7L119.0 104.4M120.8 102.7L120.8 104.7M122.7 103.5L122.7 107.6M124.6 103.7L124.6 107.6M122.7 102.6L124.6 102.6M122.7 102.6L122.7 103.5M124.6 102.6L124.6 103.7M119.9 100.2L123.7 100.2M119.9 100.2L119.9 102.7M123.7 100.2L123.7 102.6M117.1 98.1L121.8 98.1M117.1 98.1L117.1 100.9M121.8 98.1L121.8 100.2M115.2 91.5L119.4 91.5M115.2 91.5L115.2 95.8M119.4 91.5L119.4 98.1M112.4 86.2L117.3 86.2M112.4 86.2L112.4 88.6M117.3 86.2L117.3 91.5M126.5 90.9L126.5 107.6M114.8 80.2L126.5 80.2M114.8 80.2L114.8 86.2M126.5 80.2L126.5 90.9M120.7 78.8L120.7 80.2M128.4 84.9L128.4 107.6M130.2 89.8L130.2 107.6M128.4 78.7L130.2 78.7M128.4 78.7L128.4 84.9M130.2 78.7L130.2 89.8M129.3 76.4L129.3 78.7M132.1 83.7L132.1 107.6M134.0 90.0L134.0 107.6M135.9 91.1L135.9 107.6M137.8 91.0L137.8 107.6M139.6 95.9L139.6 107.6M141.5 95.7L141.5 107.6M139.6 94.8L141.5 94.8M139.6 94.8L139.6 95.9M141.5 94.8L141.5 95.7M137.8 86.7L140.6 86.7M137.8 86.7L137.8 91.0M140.6 86.7L140.6 94.8M135.9 85.7L139.2 85.7M135.9 85.7L135.9 91.1M139.2 85.7L139.2 86.7M134.0 81.4L137.5 81.4M134.0 81.4L134.0 90.0M137.5 81.4L137.5 85.7M132.1 77.0L135.8 77.0M132.1 77.0L132.1 83.7M135.8 77.0L135.8 81.4M133.9 74.1L133.9 77.0M143.4 82.5L143.4 107.6M145.3 98.6L145.3 107.6M147.2 95.7L147.2 107.6M145.3 93.4L147.2 93.4M145.3 93.4L145.3 98.6M147.2 93.4L147.2 95.7M149.0 96.9L149.0 107.6M150.9 95.4L150.9 107.6M149.0 94.5L150.9 94.5M149.0 94.5L149.0 96.9M150.9 94.5L150.9 95.4M146.2 89.5L150.0 89.5M146.2 89.5L146.2 93.4M150.0 89.5L150.0 94.5M143.4 75.3L148.1 75.3M143.4 75.3L143.4 82.5M148.1 75.3L148.1 89.5M145.7 73.3L145.7 75.3M152.8 75.8L152.8 107.6M154.7 84.8L154.7 107.6M156.6 88.9L156.6 107.6M154.7 82.1L156.6 82.1M154.7 82.1L154.7 84.8M156.6 82.1L156.6 88.9M152.8 74.8L155.6 74.8M152.8 74.8L152.8 75.8M155.6 74.8L155.6 82.1M154.2 72.7L154.2 74.8M158.4 90.2L158.4 107.6M160.3 88.3L160.3 107.6M158.4 85.6L160.3 85.6M158.4 85.6L158.4 90.2M160.3 85.6L160.3 88.3M162.2 100.1L162.2 107.6M164.1 94.9L164.1 107.6M162.2 94.0L164.1 94.0M162.2 94.0L162.2 100.1M164.1 94.0L164.1 94.9M165.9 95.0L165.9 107.6M163.1 85.2L165.9 85.2M163.1 85.2L163.1 94.0M165.9 85.2L165.9 95.0M159.4 79.9L164.5 79.9M159.4 79.9L159.4 85.6M164.5 79.9L164.5 85.2M162.0 78.8L162.0 79.9M167.8 78.1L167.8 107.6M169.7 89.6L169.7 107.6M171.6 84.2L171.6 107.6M169.7 78.7L171.6 78.7M169.7 78.7L169.7 89.6M171.6 78.7L171.6 84.2M167.8 74.3L170.6 74.3M167.8 74.3L167.8 78.1M170.6 74.3L170.6 78.7M169.2 73.5L169.2 74.3M173.5 80.9L173.5 107.6M175.3 86.5L175.3 107.6M173.5 78.5L175.3 78.5M173.5 78.5L173.5 80.9M175.3 78.5L175.3 86.5M177.2 92.7L177.2 107.6M179.1 89.3L179.1 107.6M181.0 88.5L181.0 107.6M179.1 85.7L181.0 85.7M179.1 85.7L179.1 89.3M181.0 85.7L181.0 88.5M177.2 83.0L180.0 83.0M177.2 83.0L177.2 92.7M180.0 83.0L180.0 85.7M174.4 77.5L178.6 77.5M174.4 77.5L174.4 78.5M178.6 77.5L178.6 83.0M176.5 74.9L176.5 77.5M182.9 93.2L182.9 107.6M184.7 91.7L184.7 107.6M182.9 87.4L184.7 87.4M182.9 87.4L182.9 93.2M184.7 87.4L184.7 91.7M186.6 85.5L186.6 107.6M188.5 92.1L188.5 107.6M190.4 95.5L190.4 107.6M188.5 89.5L190.4 89.5M188.5 89.5L188.5 92.1M190.4 89.5L190.4 95.5M186.6 83.6L189.4 83.6M186.6 83.6L186.6 85.5M189.4 83.6L189.4 89.5M183.8 78.0L188.0 78.0M183.8 78.0L183.8 87.4M188.0 78.0L188.0 83.6M185.9 76.6L185.9 78.0M192.3 93.2L192.3 107.6M194.1 97.5L194.1 107.6M196.0 100.5L196.0 107.6M194.1 95.4L196.0 95.4M194.1 95.4L194.1 97.5M196.0 95.4L196.0 100.5M192.3 90.9L195.1 90.9M192.3 90.9L192.3 93.2M195.1 90.9L195.1 95.4M197.9 99.7L197.9 107.6M199.8 98.1L199.8 107.6M197.9 97.1L199.8 97.1M197.9 97.1L197.9 99.7M199.8 97.1L199.8 98.1M201.7 95.2L201.7 107.6M203.5 97.8L203.5 107.6M205.4 102.3L205.4 107.6M207.3 101.1L207.3 107.6M205.4 98.0L207.3 98.0M205.4 98.0L205.4 102.3M207.3 98.0L207.3 101.1M203.5 96.6L206.4 96.6M203.5 96.6L203.5 97.8M206.4 96.6L206.4 98.0M201.7 92.7L205.0 92.7M201.7 92.7L201.7 95.2M205.0 92.7L205.0 96.6M198.8 91.5L203.3 91.5M198.8 91.5L198.8 97.1M203.3 91.5L203.3 92.7M193.7 78.8L201.1 78.8M193.7 78.8L193.7 90.9M201.1 78.8L201.1 91.5M197.4 75.8L197.4 78.8M209.2 86.7L209.2 107.6M211.1 98.2L211.1 107.6M212.9 99.4L212.9 107.6M211.1 95.1L212.9 95.1M211.1 95.1L211.1 98.2M212.9 95.1L212.9 99.4M214.8 86.4L214.8 107.6M212.0 85.4L214.8 85.4M212.0 85.4L212.0 95.1M214.8 85.4L214.8 86.4M209.2 80.5L213.4 80.5M209.2 80.5L209.2 86.7M213.4 80.5L213.4 85.4M211.3 78.9L211.3 80.5M216.7 94.9L216.7 107.6M218.6 95.9L218.6 107.6M216.7 87.7L218.6 87.7M216.7 87.7L216.7 94.9M218.6 87.7L218.6 95.9M220.5 89.7L220.5 107.6M217.6 77.5L220.5 77.5M217.6 77.5L217.6 87.7M220.5 77.5L220.5 89.7M219.0 75.7L219.0 77.5M222.3 100.5L222.3 107.6M224.2 102.1L224.2 107.6M222.3 99.5L224.2 99.5M222.3 99.5L222.3 100.5M224.2 99.5L224.2 102.1M226.1 101.9L226.1 107.6M228.0 101.4L228.0 107.6M226.1 98.1L228.0 98.1M226.1 98.1L226.1 101.9M228.0 98.1L228.0 101.4M223.3 97.2L227.0 97.2M223.3 97.2L223.3 99.5M227.0 97.2L227.0 98.1M229.9 103.4L229.9 107.6M231.7 104.1L231.7 107.6M229.9 101.8L231.7 101.8M229.9 101.8L229.9 103.4M231.7 101.8L231.7 104.1M233.6 100.9L233.6 107.6M230.8 97.5L233.6 97.5M230.8 97.5L230.8 101.8M233.6 97.5L233.6 100.9M225.2 93.2L232.2 93.2M225.2 93.2L225.2 97.2M232.2 93.2L232.2 97.5M235.5 89.5L235.5 107.6M237.4 89.5L237.4 107.6M235.5 83.5L237.4 83.5M235.5 83.5L235.5 89.5M237.4 83.5L237.4 89.5M228.7 82.4L236.4 82.4M228.7 82.4L228.7 93.2M236.4 82.4L236.4 83.5M232.6 80.8L232.6 82.4M239.3 98.7L239.3 107.6M241.1 95.6L241.1 107.6M243.0 94.3L243.0 107.6M241.1 93.4L243.0 93.4M241.1 93.4L241.1 95.6M243.0 93.4L243.0 94.3M239.3 91.9L242.1 91.9M239.3 91.9L239.3 98.7M242.1 91.9L242.1 93.4M240.7 90.3L240.7 91.9M244.9 99.1L244.9 107.6M246.8 102.8L246.8 107.6M248.7 103.2L248.7 107.6M246.8 100.4L248.7 100.4M246.8 100.4L246.8 102.8M248.7 100.4L248.7 103.2M244.9 97.0L247.7 97.0M244.9 97.0L244.9 99.1M247.7 97.0L247.7 100.4M250.5 100.5L250.5 107.6M252.4 98.2L252.4 107.6M250.5 95.6L252.4 95.6M250.5 95.6L250.5 100.5M252.4 95.6L252.4 98.2M246.3 92.1L251.5 92.1M246.3 92.1L246.3 97.0M251.5 92.1L251.5 95.6M248.9 89.6L248.9 92.1M254.3 98.9L254.3 107.6M256.2 100.2L256.2 107.6M254.3 94.5L256.2 94.5M254.3 94.5L254.3 98.9M256.2 94.5L256.2 100.2M258.1 103.8L258.1 107.6M259.9 104.0L259.9 107.6M258.1 102.4L259.9 102.4M258.1 102.4L258.1 103.8M259.9 102.4L259.9 104.0M261.8 102.3L261.8 107.6M259.0 101.0L261.8 101.0M259.0 101.0L259.0 102.4M261.8 101.0L261.8 102.3M263.7 101.4L263.7 107.6M265.6 101.9L265.6 107.6M263.7 98.2L265.6 98.2M263.7 98.2L263.7 101.4M265.6 98.2L265.6 101.9M260.4 96.9L264.6 96.9M260.4 96.9L260.4 101.0M264.6 96.9L264.6 98.2M255.2 90.3L262.5 90.3M255.2 90.3L255.2 94.5M262.5 90.3L262.5 96.9M258.9 87.6L258.9 90.3M267.5 92.3L267.5 107.6M269.3 101.3L269.3 107.6M271.2 101.4L271.2 107.6M273.1 103.3L273.1 107.6M271.2 100.5L273.1 100.5M271.2 100.5L271.2 101.4M273.1 100.5L273.1 103.3M269.3 98.4L272.2 98.4M269.3 98.4L269.3 101.3M272.2 98.4L272.2 100.5M275.0 100.9L275.0 107.6M276.8 102.8L276.8 107.6M278.7 103.2L278.7 107.6M276.8 101.0L278.7 101.0M276.8 101.0L276.8 102.8M278.7 101.0L278.7 103.2M275.0 97.1L277.8 97.1M275.0 97.1L275.0 100.9M277.8 97.1L277.8 101.0M270.7 94.7L276.4 94.7M270.7 94.7L270.7 98.4M276.4 94.7L276.4 97.1M267.5 89.4L273.6 89.4M267.5 89.4L267.5 92.3M273.6 89.4L273.6 94.7M270.5 86.7L270.5 89.4M280.6 102.2L280.6 107.6M282.5 102.3L282.5 107.6M280.6 100.7L282.5 100.7M280.6 100.7L280.6 102.2M282.5 100.7L282.5 102.3M284.4 99.0L284.4 107.6M281.5 98.1L284.4 98.1M281.5 98.1L281.5 100.7M284.4 98.1L284.4 99.0M286.2 99.7L286.2 107.6M288.1 102.2L288.1 107.6M290.0 103.9L290.0 107.6M288.1 101.2L290.0 101.2M288.1 101.2L288.1 102.2M290.0 101.2L290.0 103.9M286.2 97.4L289.1 97.4M286.2 97.4L286.2 99.7M289.1 97.4L289.1 101.2M283.0 96.5L287.7 96.5M283.0 96.5L283.0 98.1M287.7 96.5L287.7 97.4M291.9 99.7L291.9 107.6M285.3 94.8L291.9 94.8M285.3 94.8L285.3 96.5M291.9 94.8L291.9 99.7M288.6 91.7L288.6 94.8M293.8 96.5L293.8 107.6M295.6 102.8L295.6 107.6M297.5 103.2L297.5 107.6M295.6 101.0L297.5 101.0M295.6 101.0L295.6 102.8M297.5 101.0L297.5 103.2M299.4 101.3L299.4 107.6M296.6 98.3L299.4 98.3M296.6 98.3L296.6 101.0M299.4 98.3L299.4 101.3M293.8 91.7L298.0 91.7M293.8 91.7L293.8 96.5M298.0 91.7L298.0 98.3M295.9 90.5L295.9 91.7M301.3 101.1L301.3 107.6M303.2 102.4L303.2 107.6M301.3 99.6L303.2 99.6M301.3 99.6L301.3 101.1M303.2 99.6L303.2 102.4M305.0 99.6L305.0 107.6M302.2 93.3L305.0 93.3M302.2 93.3L302.2 99.6M305.0 93.3L305.0 99.6M303.6 92.7L303.6 93.3M306.9 101.1L306.9 107.6M308.8 98.1L308.8 107.6M306.9 96.4L308.8 96.4M306.9 96.4L306.9 101.1M308.8 96.4L308.8 98.1M310.7 97.7L310.7 107.6M307.9 92.2L310.7 92.2M307.9 92.2L307.9 96.4M310.7 92.2L310.7 97.7M309.3 88.7L309.3 92.2M312.6 101.8L312.6 107.6M314.4 103.3L314.4 107.6M312.6 99.8L314.4 99.8M312.6 99.8L312.6 101.8M314.4 99.8L314.4 103.3M316.3 105.7L316.3 107.6M318.2 106.7L318.2 107.6M320.1 107.6L320.1 107.6M322.0 107.6L322.0 107.6M320.1 106.8L322.0 106.8M320.1 106.8L320.1 107.6M322.0 106.8L322.0 107.6M318.2 105.8L321.0 105.8M318.2 105.8L318.2 106.7M321.0 105.8L321.0 106.8M316.3 104.7L319.6 104.7M316.3 104.7L316.3 105.7M319.6 104.7L319.6 105.8M323.8 104.8L323.8 107.6M318.0 103.2L323.8 103.2M318.0 103.2L318.0 104.7M323.8 103.2L323.8 104.8M325.7 102.9L325.7 107.6M320.9 100.4L325.7 100.4M320.9 100.4L320.9 103.2M325.7 100.4L325.7 102.9M313.5 96.8L323.3 96.8M313.5 96.8L313.5 99.8M323.3 96.8L323.3 100.4M318.4 93.3L318.4 96.8M327.6 101.2L327.6 107.6M329.5 102.1L329.5 107.6M327.6 99.9L329.5 99.9M327.6 99.9L327.6 101.2M329.5 99.9L329.5 102.1M331.4 100.5L331.4 107.6M333.2 100.9L333.2 107.6M335.1 100.5L335.1 107.6M333.2 98.4L335.1 98.4M333.2 98.4L333.2 100.9M335.1 98.4L335.1 100.5M331.4 97.5L334.2 97.5M331.4 97.5L331.4 100.5M334.2 97.5L334.2 98.4M328.5 93.8L332.8 93.8M328.5 93.8L328.5 99.9M332.8 93.8L332.8 97.5M330.7 90.5L330.7 93.8M337.0 96.1L337.0 107.6M338.9 102.3L338.9 107.6M340.8 101.9L340.8 107.6M338.9 98.4L340.8 98.4M338.9 98.4L338.9 102.3M340.8 98.4L340.8 101.9M337.0 94.9L339.8 94.9M337.0 94.9L337.0 96.1M339.8 94.9L339.8 98.4M338.4 93.0L338.4 94.9M342.6 101.4L342.6 107.6M344.5 100.1L344.5 107.6M342.6 99.0L344.5 99.0M342.6 99.0L342.6 101.4M344.5 99.0L344.5 100.1M346.4 104.9L346.4 107.6M348.3 105.2L348.3 107.6M346.4 103.3L348.3 103.3M346.4 103.3L346.4 104.9M348.3 103.3L348.3 105.2M350.2 104.0L350.2 107.6M347.3 101.3L350.2 101.3M347.3 101.3L347.3 103.3M350.2 101.3L350.2 104.0M343.6 96.8L348.7 96.8M343.6 96.8L343.6 99.0M348.7 96.8L348.7 101.3M346.2 96.2L346.2 96.8M352.0 100.6L352.0 107.6M353.9 102.2L353.9 107.6M355.8 101.5L355.8 107.6M353.9 98.7L355.8 98.7M353.9 98.7L353.9 102.2M355.8 98.7L355.8 101.5M352.0 97.5L354.9 97.5M352.0 97.5L352.0 100.6M354.9 97.5L354.9 98.7M357.7 99.6L357.7 107.6M353.4 95.4L357.7 95.4M353.4 95.4L353.4 97.5M357.7 95.4L357.7 99.6M355.6 92.4L355.6 95.4M359.6 102.2L359.6 107.6M361.4 103.0L361.4 107.6M359.6 100.0L361.4 100.0M359.6 100.0L359.6 102.2M361.4 100.0L361.4 103.0M363.3 106.2L363.3 107.6M365.2 106.0L365.2 107.6M363.3 105.1L365.2 105.1M363.3 105.1L363.3 106.2M365.2 105.1L365.2 106.0M367.1 104.5L367.1 107.6M364.3 103.3L367.1 103.3M364.3 103.3L364.3 105.1M367.1 103.3L367.1 104.5M369.0 102.4L369.0 107.6M365.7 101.3L369.0 101.3M365.7 101.3L365.7 103.3M369.0 101.3L369.0 102.4M360.5 97.1L367.3 97.1M360.5 97.1L360.5 100.0M367.3 97.1L367.3 101.3M370.8 101.8L370.8 107.6M372.7 99.0L372.7 107.6M370.8 97.7L372.7 97.7M370.8 97.7L370.8 101.8M372.7 97.7L372.7 99.0M363.9 94.1L371.8 94.1M363.9 94.1L363.9 97.1M371.8 94.1L371.8 97.7M367.8 92.8L367.8 94.1M374.6 98.4L374.6 107.6M376.5 102.0L376.5 107.6M378.4 103.0L378.4 107.6M376.5 100.7L378.4 100.7M376.5 100.7L376.5 102.0M378.4 100.7L378.4 103.0M374.6 95.6L377.4 95.6M374.6 95.6L374.6 98.4M377.4 95.6L377.4 100.7M376.0 92.3L376.0 95.6M380.2 102.9L380.2 107.6M382.1 102.7L382.1 107.6M380.2 100.4L382.1 100.4M380.2 100.4L380.2 102.9M382.1 100.4L382.1 102.7M384.0 100.6L384.0 107.6M381.2 95.2L384.0 95.2M381.2 95.2L381.2 100.4M384.0 95.2L384.0 100.6M382.6 93.5L382.6 95.2M385.9 104.4L385.9 107.6M387.7 104.4L387.7 107.6M385.9 103.4L387.7 103.4M385.9 103.4L385.9 104.4M387.7 103.4L387.7 104.4M389.6 103.5L389.6 107.6M386.8 102.4L389.6 102.4M386.8 102.4L386.8 103.4M389.6 102.4L389.6 103.5M391.5 103.1L391.5 107.6M388.2 100.0L391.5 100.0M388.2 100.0L388.2 102.4M391.5 100.0L391.5 103.1M393.4 99.7L393.4 107.6M389.9 98.8L393.4 98.8M389.9 98.8L389.9 100.0M393.4 98.8L393.4 99.7M391.6 97.3L391.6 98.8M395.3 101.9L395.3 107.6M397.1 101.7L397.1 107.6M399.0 102.0L399.0 107.6M397.1 100.0L399.0 100.0M397.1 100.0L397.1 101.7M399.0 100.0L399.0 102.0M395.3 97.5L398.1 97.5M395.3 97.5L395.3 101.9M398.1 97.5L398.1 100.0M396.7 95.2L396.7 97.5M400.9 97.7L400.9 107.6M402.8 101.0L402.8 107.6M404.7 100.3L404.7 107.6M402.8 98.9L404.7 98.9M402.8 98.9L402.8 101.0M404.7 98.9L404.7 100.3M400.9 96.1L403.7 96.1M400.9 96.1L400.9 97.7M403.7 96.1L403.7 98.9M406.5 103.4L406.5 107.6M408.4 103.2L408.4 107.6M406.5 100.5L408.4 100.5M406.5 100.5L406.5 103.4M408.4 100.5L408.4 103.2M410.3 105.5L410.3 107.6M412.2 105.1L412.2 107.6M410.3 104.1L412.2 104.1M410.3 104.1L410.3 105.5M412.2 104.1L412.2 105.1M414.1 103.6L414.1 107.6M411.2 102.5L414.1 102.5M411.2 102.5L411.2 104.1M414.1 102.5L414.1 103.6M407.5 99.4L412.7 99.4M407.5 99.4L407.5 100.5M412.7 99.4L412.7 102.5M402.3 95.3L410.1 95.3M402.3 95.3L402.3 96.1M410.1 95.3L410.1 99.4M406.2 91.6L406.2 95.3M415.9 102.9L415.9 107.6M417.8 102.9L417.8 107.6M415.9 100.1L417.8 100.1M415.9 100.1L415.9 102.9M417.8 100.1L417.8 102.9M419.7 102.0L419.7 107.6M421.6 101.9L421.6 107.6M419.7 100.7L421.6 100.7M419.7 100.7L419.7 102.0M421.6 100.7L421.6 101.9M416.9 98.9L420.6 98.9M416.9 98.9L416.9 100.1M420.6 98.9L420.6 100.7M418.8 95.6L418.8 98.9M423.5 101.2L423.5 107.6M425.3 102.9L425.3 107.6M427.2 107.1L427.2 107.6M429.1 107.1L429.1 107.6M427.2 106.2L429.1 106.2M427.2 106.2L427.2 107.1M429.1 106.2L429.1 107.1M431.0 106.2L431.0 107.6M428.2 105.2L431.0 105.2M428.2 105.2L428.2 106.2M431.0 105.2L431.0 106.2M432.9 105.2L432.9 107.6M429.6 104.2L432.9 104.2M429.6 104.2L429.6 105.2M432.9 104.2L432.9 105.2M425.3 101.6L431.2 101.6M425.3 101.6L425.3 102.9M431.2 101.6L431.2 104.2M423.5 96.8L428.3 96.8M423.5 96.8L423.5 101.2M428.3 96.8L428.3 101.6M425.9 95.6L425.9 96.8M434.7 99.7L434.7 107.6M436.6 101.2L436.6 107.6M438.5 101.6L438.5 107.6M436.6 99.7L438.5 99.7M436.6 99.7L436.6 101.2M438.5 99.7L438.5 101.6M434.7 98.6L437.6 98.6M434.7 98.6L434.7 99.7M437.6 98.6L437.6 99.7M436.1 97.9L436.1 98.6M440.4 99.0L440.4 107.6M442.3 103.8L442.3 107.6M444.1 104.1L444.1 107.6M442.3 101.9L444.1 101.9M442.3 101.9L442.3 103.8M444.1 101.9L444.1 104.1M446.0 103.6L446.0 107.6M447.9 103.8L447.9 107.6M446.0 101.8L447.9 101.8M446.0 101.8L446.0 103.6M447.9 101.8L447.9 103.8M443.2 99.6L447.0 99.6M443.2 99.6L443.2 101.9M447.0 99.6L447.0 101.8M440.4 97.9L445.1 97.9M440.4 97.9L440.4 99.0M445.1 97.9L445.1 99.6M442.7 94.0L442.7 97.9M449.8 103.3L449.8 107.6M451.7 103.4L451.7 107.6M449.8 101.5L451.7 101.5M449.8 101.5L449.8 103.3M451.7 101.5L451.7 103.4M453.5 107.8L453.5 107.6M455.4 107.8L455.4 107.6M453.5 106.9L455.4 106.9M453.5 106.9L453.5 107.8M455.4 106.9L455.4 107.8M457.3 106.9L457.3 107.6M454.5 106.0L457.3 106.0M454.5 106.0L454.5 106.9M457.3 106.0L457.3 106.9M459.2 106.0L459.2 107.6M455.9 105.1L459.2 105.1M455.9 105.1L455.9 106.0M459.2 105.1L459.2 106.0M461.1 105.2L461.1 107.6M462.9 105.4L462.9 107.6M461.1 104.4L462.9 104.4M461.1 104.4L461.1 105.2M462.9 104.4L462.9 105.4M457.5 103.1L462.0 103.1M457.5 103.1L457.5 105.1M462.0 103.1L462.0 104.4M450.7 99.6L459.8 99.6M450.7 99.6L450.7 101.5M459.8 99.6L459.8 103.1M455.2 98.9L455.2 99.6M464.8 100.9L464.8 107.6M466.7 103.1L466.7 107.6M464.8 99.9L466.7 99.9M464.8 99.9L464.8 100.9M466.7 99.9L466.7 103.1M468.6 102.8L468.6 107.6M465.8 98.9L468.6 98.9M465.8 98.9L465.8 99.9M468.6 98.9L468.6 102.8M470.5 101.0L470.5 107.6M467.2 96.5L470.5 96.5M467.2 96.5L467.2 98.9M470.5 96.5L470.5 101.0M468.8 94.4L468.8 96.5M472.3 103.2L472.3 107.6M474.2 103.7L474.2 107.6M476.1 103.3L476.1 107.6M474.2 102.2L476.1 102.2M474.2 102.2L474.2 103.7M476.1 102.2L476.1 103.3M472.3 101.1L475.2 101.1M472.3 101.1L472.3 103.2M475.2 101.1L475.2 102.2M478.0 97.9L478.0 107.6M473.7 96.5L478.0 96.5M473.7 96.5L473.7 101.1M478.0 96.5L478.0 97.9M479.9 99.0L479.9 107.6M481.7 102.7L481.7 107.6M483.6 102.8L483.6 107.6M481.7 100.5L483.6 100.5M481.7 100.5L481.7 102.7M483.6 100.5L483.6 102.8M485.5 102.8L485.5 107.6M487.4 103.6L487.4 107.6M485.5 101.3L487.4 101.3M485.5 101.3L485.5 102.8M487.4 101.3L487.4 103.6M482.7 98.2L486.4 98.2M482.7 98.2L482.7 100.5M486.4 98.2L486.4 101.3M479.9 96.8L484.6 96.8M479.9 96.8L479.9 99.0M484.6 96.8L484.6 98.2M475.9 95.5L482.2 95.5M475.9 95.5L475.9 96.5M482.2 95.5L482.2 96.8M479.0 92.2L479.0 95.5M489.2 104.5L489.2 107.6M491.1 104.9L491.1 107.6M489.2 103.4L491.1 103.4M489.2 103.4L489.2 104.5M491.1 103.4L491.1 104.9M493.0 103.1L493.0 107.6M490.2 100.9L493.0 100.9M490.2 100.9L490.2 103.4M493.0 100.9L493.0 103.1M494.9 101.8L494.9 107.6M491.6 99.7L494.9 99.7M491.6 99.7L491.6 100.9M494.9 99.7L494.9 101.8M493.2 96.7L493.2 99.7M496.8 102.7L496.8 107.6M498.6 100.2L498.6 107.6M496.8 99.3L498.6 99.3M496.8 99.3L496.8 102.7M498.6 99.3L498.6 100.2M500.5 100.3L500.5 107.6M502.4 103.2L502.4 107.6M504.3 102.1L504.3 107.6M502.4 101.0L504.3 101.0M502.4 101.0L502.4 103.2M504.3 101.0L504.3 102.1M500.5 99.5L503.3 99.5M500.5 99.5L500.5 100.3M503.3 99.5L503.3 101.0M497.7 97.8L501.9 97.8M497.7 97.8L497.7 99.3M501.9 97.8L501.9 99.5M499.8 95.4L499.8 97.8M506.2 95.1L506.2 107.6M508.0 98.7L508.0 107.6M509.9 98.1L509.9 107.6M508.0 95.7L509.9 95.7M508.0 95.7L508.0 98.7M509.9 95.7L509.9 98.1M506.2 90.5L509.0 90.5M506.2 90.5L506.2 95.1M509.0 90.5L509.0 95.7M507.6 88.9L507.6 90.5M511.8 99.4L511.8 107.6M513.7 100.6L513.7 107.6M511.8 96.8L513.7 96.8M511.8 96.8L511.8 99.4M513.7 96.8L513.7 100.6M515.6 105.3L515.6 107.6M517.4 105.3L517.4 107.6M515.6 104.2L517.4 104.2M515.6 104.2L515.6 105.3M517.4 104.2L517.4 105.3M519.3 104.5L519.3 107.6M516.5 102.6L519.3 102.6M516.5 102.6L516.5 104.2M519.3 102.6L519.3 104.5M521.2 101.9L521.2 107.6M517.9 99.3L521.2 99.3M517.9 99.3L517.9 102.6M521.2 99.3L521.2 101.9M523.1 99.7L523.1 107.6M525.0 101.2L525.0 107.6M526.8 101.6L526.8 107.6M525.0 99.1L526.8 99.1M525.0 99.1L525.0 101.2M526.8 99.1L526.8 101.6M523.1 97.1L525.9 97.1M523.1 97.1L523.1 99.7M525.9 97.1L525.9 99.1M519.6 94.4L524.5 94.4M519.6 94.4L519.6 99.3M524.5 94.4L524.5 97.1M512.7 90.5L522.0 90.5M512.7 90.5L512.7 96.8M522.0 90.5L522.0 94.4M517.4 87.1L517.4 90.5M528.7 87.3L528.7 107.6M530.6 103.7L530.6 107.6M532.5 103.3L532.5 107.6M530.6 102.3L532.5 102.3M530.6 102.3L530.6 103.7M532.5 102.3L532.5 103.3M534.4 102.4L534.4 107.6M536.2 103.3L536.2 107.6M534.4 100.2L536.2 100.2M534.4 100.2L534.4 102.4M536.2 100.2L536.2 103.3M531.5 98.7L535.3 98.7M531.5 98.7L531.5 102.3M535.3 98.7L535.3 100.2M538.1 100.7L538.1 107.6M540.0 101.9L540.0 107.6M538.1 98.5L540.0 98.5M538.1 98.5L538.1 100.7M540.0 98.5L540.0 101.9M533.4 94.0L539.1 94.0M533.4 94.0L533.4 98.7M539.1 94.0L539.1 98.5M541.9 97.8L541.9 107.6M543.8 96.6L543.8 107.6M541.9 94.7L543.8 94.7M541.9 94.7L541.9 97.8M543.8 94.7L543.8 96.6M536.2 88.5L542.8 88.5M536.2 88.5L536.2 94.0M542.8 88.5L542.8 94.7M528.7 85.8L539.5 85.8M528.7 85.8L528.7 87.3M539.5 85.8L539.5 88.5M534.1 81.9L534.1 85.8M545.6 98.8L545.6 107.6M547.5 97.4L547.5 107.6M545.6 93.6L547.5 93.6M545.6 93.6L545.6 98.8M547.5 93.6L547.5 97.4M549.4 93.1L549.4 107.6M546.6 85.5L549.4 85.5M546.6 85.5L546.6 93.6M549.4 85.5L549.4 93.1M551.3 93.7L551.3 107.6M553.2 97.4L553.2 107.6M551.3 91.8L553.2 91.8M551.3 91.8L551.3 93.7M553.2 91.8L553.2 97.4M548.0 84.5L552.2 84.5M548.0 84.5L548.0 85.5M552.2 84.5L552.2 91.8M550.1 80.9L550.1 84.5M555.0 99.7L555.0 107.6M556.9 98.0L556.9 107.6M555.0 93.6L556.9 93.6M555.0 93.6L555.0 99.7M556.9 93.6L556.9 98.0M558.8 97.4L558.8 107.6M560.7 97.1L560.7 107.6M558.8 95.0L560.7 95.0M558.8 95.0L558.8 97.4M560.7 95.0L560.7 97.1M562.6 101.7L562.6 107.6M564.4 98.7L564.4 107.6M562.6 97.6L564.4 97.6M562.6 97.6L562.6 101.7M564.4 97.6L564.4 98.7M559.7 93.8L563.5 93.8M559.7 93.8L559.7 95.0M563.5 93.8L563.5 97.6M556.0 88.9L561.6 88.9M556.0 88.9L556.0 93.6M561.6 88.9L561.6 93.8M558.8 86.2L558.8 88.9M566.3 98.4L566.3 107.6M568.2 98.2L568.2 107.6M566.3 95.9L568.2 95.9M566.3 95.9L566.3 98.4M568.2 95.9L568.2 98.2M570.1 94.1L570.1 107.6M567.3 89.4L570.1 89.4M567.3 89.4L567.3 95.9M570.1 89.4L570.1 94.1M572.0 92.2L572.0 107.6M568.7 84.6L572.0 84.6M568.7 84.6L568.7 89.4M572.0 84.6L572.0 92.2M570.3 80.7L570.3 84.6M573.8 97.5L573.8 107.6M575.7 102.8L575.7 107.6M577.6 102.6L577.6 107.6M575.7 99.6L577.6 99.6M575.7 99.6L575.7 102.8M577.6 99.6L577.6 102.6M573.8 94.6L576.7 94.6M573.8 94.6L573.8 97.5M576.7 94.6L576.7 99.6M579.5 88.4L579.5 107.6M575.2 87.0L579.5 87.0M575.2 87.0L575.2 94.6M579.5 87.0L579.5 88.4M577.4 83.5L577.4 87.0M581.4 94.3L581.4 107.6M583.2 101.7L583.2 107.6M585.1 100.6L585.1 107.6M583.2 98.8L585.1 98.8M583.2 98.8L583.2 101.7M585.1 98.8L585.1 100.6M587.0 102.5L587.0 107.6M588.9 106.0L588.9 107.6M590.8 105.9L590.8 107.6M588.9 104.7L590.8 104.7M588.9 104.7L588.9 106.0M590.8 104.7L590.8 105.9M592.6 104.9L592.6 107.6M589.8 103.1L592.6 103.1M589.8 103.1L589.8 104.7M592.6 103.1L592.6 104.9M587.0 100.6L591.2 100.6M587.0 100.6L587.0 102.5M591.2 100.6L591.2 103.1M594.5 100.2L594.5 107.6M589.1 98.4L594.5 98.4M589.1 98.4L589.1 100.6M594.5 98.4L594.5 100.2M584.2 97.0L591.8 97.0M584.2 97.0L584.2 98.8M591.8 97.0L591.8 98.4M596.4 100.7L596.4 107.6M588.0 95.7L596.4 95.7M588.0 95.7L588.0 97.0M596.4 95.7L596.4 100.7M581.4 89.7L592.2 89.7M581.4 89.7L581.4 94.3M592.2 89.7L592.2 95.7M586.8 89.2L586.8 89.7M598.3 92.6L598.3 107.6M600.1 101.9L600.1 107.6M602.0 100.1L602.0 107.6M600.1 97.9L602.0 97.9M600.1 97.9L600.1 101.9M602.0 97.9L602.0 100.1M603.9 95.9L603.9 107.6M601.1 93.9L603.9 93.9M601.1 93.9L601.1 97.9M603.9 93.9L603.9 95.9M605.8 104.3L605.8 107.6M607.7 103.3L607.7 107.6M605.8 101.9L607.7 101.9M605.8 101.9L605.8 104.3M607.7 101.9L607.7 103.3M609.5 100.6L609.5 107.6M606.7 98.1L609.5 98.1M606.7 98.1L606.7 101.9M609.5 98.1L609.5 100.6M611.4 101.9L611.4 107.6M613.3 101.2L613.3 107.6M611.4 99.8L613.3 99.8M611.4 99.8L611.4 101.9M613.3 99.8L613.3 101.2M608.1 94.0L612.4 94.0M608.1 94.0L608.1 98.1M612.4 94.0L612.4 99.8M602.5 91.7L610.3 91.7M602.5 91.7L602.5 93.9M610.3 91.7L610.3 94.0M598.3 89.5L606.4 89.5M598.3 89.5L598.3 92.6M606.4 89.5L606.4 91.7M602.3 88.8L602.3 89.5M615.2 101.7L615.2 107.6M617.1 99.2L617.1 107.6M615.2 98.2L617.1 98.2M615.2 98.2L615.2 101.7M617.1 98.2L617.1 99.2M618.9 101.3L618.9 107.6M620.8 101.3L620.8 107.6M618.9 97.0L620.8 97.0M618.9 97.0L618.9 101.3M620.8 97.0L620.8 101.3M616.1 90.8L619.9 90.8M616.1 90.8L616.1 98.2M619.9 90.8L619.9 97.0M618.0 87.1L618.0 90.8M622.7 102.5L622.7 107.6M624.6 103.4L624.6 107.6M622.7 100.0L624.6 100.0M622.7 100.0L622.7 102.5M624.6 100.0L624.6 103.4M626.5 100.8L626.5 107.6M628.3 104.8L628.3 107.6M630.2 103.8L630.2 107.6M628.3 102.9L630.2 102.9M628.3 102.9L628.3 104.8M630.2 102.9L630.2 103.8M626.5 100.0L629.3 100.0M626.5 100.0L626.5 100.8M629.3 100.0L629.3 102.9M632.1 101.1L632.1 107.6M634.0 100.8L634.0 107.6M632.1 98.2L634.0 98.2M632.1 98.2L632.1 101.1M634.0 98.2L634.0 100.8M627.9 97.1L633.0 97.1M627.9 97.1L627.9 100.0M633.0 97.1L633.0 98.2M623.6 95.7L630.5 95.7M623.6 95.7L623.6 100.0M630.5 95.7L630.5 97.1M635.9 97.6L635.9 107.6M637.7 93.9L637.7 107.6M635.9 92.6L637.7 92.6M635.9 92.6L635.9 97.6M637.7 92.6L637.7 93.9M627.1 90.8L636.8 90.8M627.1 90.8L627.1 95.7M636.8 90.8L636.8 92.6M631.9 87.7L631.9 90.8M639.6 96.8L639.6 107.6M641.5 94.4L641.5 107.6M639.6 90.6L641.5 90.6M639.6 90.6L639.6 96.8M641.5 90.6L641.5 94.4M643.4 98.5L643.4 107.6M645.3 102.4L645.3 107.6M647.1 103.7L647.1 107.6M649.0 103.3L649.0 107.6M647.1 102.4L649.0 102.4M647.1 102.4L647.1 103.7M649.0 102.4L649.0 103.3M645.3 98.4L648.1 98.4M645.3 98.4L645.3 102.4M648.1 98.4L648.1 102.4M643.4 95.0L646.7 95.0M643.4 95.0L643.4 98.5M646.7 95.0L646.7 98.4M640.6 86.1L645.0 86.1M640.6 86.1L640.6 90.6M645.0 86.1L645.0 95.0M642.8 84.5L642.8 86.1M650.9 97.9L650.9 107.6M652.8 98.0L652.8 107.6M650.9 93.4L652.8 93.4M650.9 93.4L650.9 97.9M652.8 93.4L652.8 98.0M654.7 104.7L654.7 107.6M656.5 105.7L656.5 107.6M658.4 105.1L658.4 107.6M656.5 104.2L658.4 104.2M656.5 104.2L656.5 105.7M658.4 104.2L658.4 105.1M654.7 103.4L657.5 103.4M654.7 103.4L654.7 104.7M657.5 103.4L657.5 104.2M660.3 103.1L660.3 107.6M656.1 101.7L660.3 101.7M656.1 101.7L656.1 103.4M660.3 101.7L660.3 103.1M662.2 104.7L662.2 107.6M664.1 104.4L664.1 107.6M662.2 102.5L664.1 102.5M662.2 102.5L662.2 104.7M664.1 102.5L664.1 104.4M658.2 100.9L663.1 100.9M658.2 100.9L658.2 101.7M663.1 100.9L663.1 102.5M665.9 100.3L665.9 107.6M660.7 95.7L665.9 95.7M660.7 95.7L660.7 100.9M665.9 95.7L665.9 100.3M651.8 90.0L663.3 90.0M651.8 90.0L651.8 93.4M663.3 90.0L663.3 95.7M657.6 86.2L657.6 90.0M667.8 92.0L667.8 107.6M669.7 100.9L669.7 107.6M671.6 100.7L671.6 107.6M669.7 99.7L671.6 99.7M669.7 99.7L669.7 100.9M671.6 99.7L671.6 100.7M673.5 99.4L673.5 107.6M670.6 97.1L673.5 97.1M670.6 97.1L670.6 99.7M673.5 97.1L673.5 99.4M675.3 99.5L675.3 107.6M677.2 102.5L677.2 107.6M679.1 101.3L679.1 107.6M677.2 100.3L679.1 100.3M677.2 100.3L677.2 102.5M679.1 100.3L679.1 101.3M675.3 98.1L678.2 98.1M675.3 98.1L675.3 99.5M678.2 98.1L678.2 100.3M672.0 93.1L676.7 93.1M672.0 93.1L672.0 97.1M676.7 93.1L676.7 98.1M681.0 94.4L681.0 107.6M674.4 91.6L681.0 91.6M674.4 91.6L674.4 93.1M681.0 91.6L681.0 94.4M667.8 89.3L677.7 89.3M667.8 89.3L667.8 92.0M677.7 89.3L677.7 91.6M672.8 88.0L672.8 89.3M682.9 100.5L682.9 107.6M684.7 96.7L684.7 107.6M682.9 95.3L684.7 95.3M682.9 95.3L682.9 100.5M684.7 95.3L684.7 96.7M686.6 98.3L686.6 107.6M688.5 98.7L688.5 107.6M686.6 93.2L688.5 93.2M686.6 93.2L686.6 98.3M688.5 93.2L688.5 98.7M683.8 91.9L687.6 91.9M683.8 91.9L683.8 95.3M687.6 91.9L687.6 93.2M685.7 90.1L685.7 91.9M690.4 100.7L690.4 107.6M692.3 102.9L692.3 107.6M694.1 101.6L694.1 107.6M692.3 100.5L694.1 100.5M692.3 100.5L692.3 102.9M694.1 100.5L694.1 101.6M690.4 99.1L693.2 99.1M690.4 99.1L690.4 100.7M693.2 99.1L693.2 100.5M696.0 99.5L696.0 107.6M697.9 100.0L697.9 107.6M696.0 98.0L697.9 98.0M696.0 98.0L696.0 99.5M697.9 98.0L697.9 100.0M691.8 92.4L697.0 92.4M691.8 92.4L691.8 99.1M697.0 92.4L697.0 98.0M699.8 99.8L699.8 107.6M701.7 98.7L701.7 107.6M699.8 94.9L701.7 94.9M699.8 94.9L699.8 99.8M701.7 94.9L701.7 98.7M694.4 91.5L700.7 91.5M694.4 91.5L694.4 92.4M700.7 91.5L700.7 94.9M697.5 90.5L697.5 91.5M703.5 100.4L703.5 107.6M705.4 100.8L705.4 107.6M707.3 98.9L707.3 107.6M705.4 98.0L707.3 98.0M705.4 98.0L705.4 100.8M707.3 98.0L707.3 98.9M703.5 94.6L706.3 94.6M703.5 94.6L703.5 100.4M706.3 94.6L706.3 98.0M709.2 98.9L709.2 107.6M711.0 98.9L711.0 107.6M712.9 99.5L712.9 107.6M711.0 95.4L712.9 95.4M711.0 95.4L711.0 98.9M712.9 95.4L712.9 99.5M709.2 93.9L712.0 93.9M709.2 93.9L709.2 98.9M712.0 93.9L712.0 95.4M704.9 89.3L710.6 89.3M704.9 89.3L704.9 94.6M710.6 89.3L710.6 93.9M707.8 87.6L707.8 89.3M714.8 92.1L714.8 107.6M716.7 102.1L716.7 107.6M718.6 101.3L718.6 107.6M716.7 99.8L718.6 99.8M716.7 99.8L716.7 102.1M718.6 99.8L718.6 101.3M720.4 103.3L720.4 107.6M722.3 105.6L722.3 107.6M724.2 105.4L724.2 107.6M722.3 104.4L724.2 104.4M722.3 104.4L722.3 105.6M724.2 104.4L724.2 105.4M720.4 102.3L723.3 102.3M720.4 102.3L720.4 103.3M723.3 102.3L723.3 104.4M726.1 101.7L726.1 107.6M721.9 98.0L726.1 98.0M721.9 98.0L721.9 102.3M726.1 98.0L726.1 101.7M717.6 94.4L724.0 94.4M717.6 94.4L717.6 99.8M724.0 94.4L724.0 98.0M714.8 87.6L720.8 87.6M714.8 87.6L714.8 92.1M720.8 87.6L720.8 94.4M717.8 84.4L717.8 87.6M728.0 96.7L728.0 107.6M729.8 97.4L729.8 107.6M728.0 95.8L729.8 95.8M728.0 95.8L728.0 96.7M729.8 95.8L729.8 97.4M731.7 101.8L731.7 107.6M733.6 101.9L733.6 107.6M731.7 99.2L733.6 99.2M731.7 99.2L731.7 101.8M733.6 99.2L733.6 101.9M735.5 101.8L735.5 107.6M737.4 103.4L737.4 107.6M739.2 103.8L739.2 107.6M737.4 102.4L739.2 102.4M737.4 102.4L737.4 103.4M739.2 102.4L739.2 103.8M735.5 100.6L738.3 100.6M735.5 100.6L735.5 101.8M738.3 100.6L738.3 102.4M732.7 97.2L736.9 97.2M732.7 97.2L732.7 99.2M736.9 97.2L736.9 100.6M728.9 91.0L734.8 91.0M728.9 91.0L728.9 95.8M734.8 91.0L734.8 97.2M731.8 88.5L731.8 91.0M741.1 90.9L741.1 107.6M743.0 97.3L743.0 107.6M744.9 97.8L744.9 107.6M743.0 94.5L744.9 94.5M743.0 94.5L743.0 97.3M744.9 94.5L744.9 97.8M746.8 98.6L746.8 107.6M743.9 93.4L746.8 93.4M743.9 93.4L743.9 94.5M746.8 93.4L746.8 98.6M741.1 88.0L745.4 88.0M741.1 88.0L741.1 90.9M745.4 88.0L745.4 93.4M743.2 87.2L743.2 88.0M748.6 105.0L748.6 107.6M750.5 104.2L750.5 107.6M748.6 103.2L750.5 103.2M748.6 103.2L748.6 105.0M750.5 103.2L750.5 104.2M752.4 105.1L752.4 107.6M754.3 104.7L754.3 107.6M752.4 103.3L754.3 103.3M752.4 103.3L752.4 105.1M754.3 103.3L754.3 104.7M749.6 100.4L753.3 100.4M749.6 100.4L749.6 103.2M753.3 100.4L753.3 103.3M756.2 99.3L756.2 107.6M751.5 96.4L756.2 96.4M751.5 96.4L751.5 100.4M756.2 96.4L756.2 99.3M758.0 96.8L758.0 107.6M759.9 94.6L759.9 107.6M758.0 93.7L759.9 93.7M758.0 93.7L758.0 96.8M759.9 93.7L759.9 94.6M753.8 88.5L759.0 88.5M753.8 88.5L753.8 96.4M759.0 88.5L759.0 93.7M756.4 84.8L756.4 88.5M761.8 101.9L761.8 107.6M763.7 102.7L763.7 107.6M761.8 100.9L763.7 100.9M761.8 100.9L761.8 101.9M763.7 100.9L763.7 102.7M765.6 103.8L765.6 107.6M767.4 102.7L767.4 107.6M765.6 100.8L767.4 100.8M765.6 100.8L765.6 103.8M767.4 100.8L767.4 102.7M762.7 96.2L766.5 96.2M762.7 96.2L762.7 100.9M766.5 96.2L766.5 100.8M769.3 98.6L769.3 107.6M771.2 97.2L771.2 107.6M769.3 95.3L771.2 95.3M769.3 95.3L769.3 98.6M771.2 95.3L771.2 97.2M764.6 90.4L770.3 90.4M764.6 90.4L764.6 96.2M770.3 90.4L770.3 95.3M767.4 88.8L767.4 90.4M773.1 98.8L773.1 107.6M775.0 105.3L775.0 107.6M776.8 106.6L776.8 107.6M778.7 106.7L778.7 107.6M776.8 105.8L778.7 105.8M776.8 105.8L776.8 106.6M778.7 105.8L778.7 106.7M780.6 105.9L780.6 107.6M777.8 105.0L780.6 105.0M777.8 105.0L777.8 105.8M780.6 105.0L780.6 105.9M775.0 104.1L779.2 104.1M775.0 104.1L775.0 105.3M779.2 104.1L779.2 105.0M782.5 104.6L782.5 107.6M777.1 102.5L782.5 102.5M777.1 102.5L777.1 104.1M782.5 102.5L782.5 104.6M784.4 100.8L784.4 107.6M779.8 99.4L784.4 99.4M779.8 99.4L779.8 102.5M784.4 99.4L784.4 100.8M786.2 100.0L786.2 107.6M782.1 97.1L786.2 97.1M782.1 97.1L782.1 99.4M786.2 97.1L786.2 100.0M773.1 91.6L784.1 91.6M773.1 91.6L773.1 98.8M784.1 91.6L784.1 97.1M778.6 89.6L778.6 91.6M788.1 96.2L788.1 107.6M790.0 97.2L790.0 107.6M788.1 93.7L790.0 93.7M788.1 93.7L788.1 96.2M790.0 93.7L790.0 97.2M791.9 105.8L791.9 107.6M793.8 105.7L793.8 107.6M791.9 104.8L793.8 104.8M791.9 104.8L791.9 105.8M793.8 104.8L793.8 105.7M795.6 103.5L795.6 107.6M792.8 102.7L795.6 102.7M792.8 102.7L792.8 104.8M795.6 102.7L795.6 103.5M797.5 100.6L797.5 107.6M794.2 99.2L797.5 99.2M794.2 99.2L794.2 102.7M797.5 99.2L797.5 100.6M799.4 95.5L799.4 107.6M795.9 93.6L799.4 93.6M795.9 93.6L795.9 99.2M799.4 93.6L799.4 95.5M789.1 92.6L797.6 92.6M789.1 92.6L789.1 93.7M797.6 92.6L797.6 93.6M801.3 99.9L801.3 107.6M803.2 98.4L803.2 107.6M801.3 96.3L803.2 96.3M801.3 96.3L801.3 99.9M803.2 96.3L803.2 98.4M793.3 90.9L802.2 90.9M793.3 90.9L793.3 92.6M802.2 90.9L802.2 96.3M797.8 87.5L797.8 90.9M805.0 97.2L805.0 107.6M806.9 95.9L806.9 107.6M805.0 94.2L806.9 94.2M805.0 94.2L805.0 97.2M806.9 94.2L806.9 95.9M808.8 100.8L808.8 107.6M810.7 101.0L810.7 107.6M808.8 99.5L810.7 99.5M808.8 99.5L808.8 100.8M810.7 99.5L810.7 101.0M812.6 103.8L812.6 107.6M814.4 103.0L814.4 107.6M812.6 101.4L814.4 101.4M812.6 101.4L812.6 103.8M814.4 101.4L814.4 103.0M809.7 98.3L813.5 98.3M809.7 98.3L809.7 99.5M813.5 98.3L813.5 101.4M806.0 91.2L811.6 91.2M806.0 91.2L806.0 94.2M811.6 91.2L811.6 98.3M808.8 88.4L808.8 91.2M816.3 97.5L816.3 107.6M818.2 100.4L818.2 107.6M820.1 98.8L820.1 107.6M818.2 96.9L820.1 96.9M818.2 96.9L818.2 100.4M820.1 96.9L820.1 98.8M816.3 89.5L819.1 89.5M816.3 89.5L816.3 97.5M819.1 89.5L819.1 96.9M817.7 86.8L817.7 89.5M821.9 93.0L821.9 107.6M823.8 94.5L823.8 107.6M825.7 97.6L825.7 107.6M823.8 93.6L825.7 93.6M823.8 93.6L823.8 94.5M825.7 93.6L825.7 97.6M821.9 88.8L824.8 88.8M821.9 88.8L821.9 93.0M824.8 88.8L824.8 93.6M823.4 86.4L823.4 88.8M827.6 92.7L827.6 107.6M829.5 101.2L829.5 107.6M831.3 103.1L831.3 107.6M829.5 99.9L831.3 99.9M829.5 99.9L829.5 101.2M831.3 99.9L831.3 103.1M833.2 102.5L833.2 107.6M835.1 106.2L835.1 107.6M837.0 106.2L837.0 107.6M835.1 105.3L837.0 105.3M835.1 105.3L835.1 106.2M837.0 105.3L837.0 106.2M838.9 105.3L838.9 107.6M836.0 104.5L838.9 104.5M836.0 104.5L836.0 105.3M838.9 104.5L838.9 105.3M840.7 105.1L840.7 107.6M837.5 103.2L840.7 103.2M837.5 103.2L837.5 104.5M840.7 103.2L840.7 105.1M833.2 100.0L839.1 100.0M833.2 100.0L833.2 102.5M839.1 100.0L839.1 103.2M830.4 98.3L836.2 98.3M830.4 98.3L830.4 99.9M836.2 98.3L836.2 100.0M827.6 90.8L833.3 90.8M827.6 90.8L827.6 92.7M833.3 90.8L833.3 98.3M830.4 90.2L830.4 90.8M842.6 99.8L842.6 107.6M844.5 98.6L844.5 107.6M842.6 96.8L844.5 96.8M842.6 96.8L842.6 99.8M844.5 96.8L844.5 98.6M846.4 100.0L846.4 107.6M848.3 102.3L848.3 107.6M850.1 102.2L850.1 107.6M848.3 100.9L850.1 100.9M848.3 100.9L848.3 102.3M850.1 100.9L850.1 102.2M846.4 98.3L849.2 98.3M846.4 98.3L846.4 100.0M849.2 98.3L849.2 100.9M843.6 95.5L847.8 95.5M843.6 95.5L843.6 96.8M847.8 95.5L847.8 98.3M852.0 93.9L852.0 107.6M845.7 89.0L852.0 89.0M845.7 89.0L845.7 95.5M852.0 89.0L852.0 93.9M848.9 85.1L848.9 89.0M853.9 92.6L853.9 107.6M855.8 94.7L855.8 107.6M853.9 89.4L855.8 89.4M853.9 89.4L853.9 92.6M855.8 89.4L855.8 94.7M854.8 86.8L854.8 89.4M857.7 101.0L857.7 107.6M859.5 102.1L859.5 107.6M861.4 100.5L861.4 107.6M859.5 99.5L861.4 99.5M859.5 99.5L859.5 102.1M861.4 99.5L861.4 100.5M857.7 96.3L860.5 96.3M857.7 96.3L857.7 101.0M860.5 96.3L860.5 99.5M863.3 97.0L863.3 107.6M865.2 95.2L865.2 107.6M863.3 91.2L865.2 91.2M863.3 91.2L863.3 97.0M865.2 91.2L865.2 95.2M867.1 93.1L867.1 107.6M864.2 90.1L867.1 90.1M864.2 90.1L864.2 91.2M867.1 90.1L867.1 93.1M859.1 89.0L865.7 89.0M859.1 89.0L859.1 96.3M865.7 89.0L865.7 90.1M862.4 86.2L862.4 89.0" stroke="#3d3d3d" stroke-width="1.80" fill="none"/>
<text x="1181.60" y="341.70" font-size="24.40" font-weight="bold" fill="#000">Group</text>
<rect x="1181.60" y="355.80" width="26.60" height="26.20" fill="#55bcc0"/>
<rect x="1181.60" y="384.90" width="26.60" height="25.90" fill="#e87a70"/>
<text x="1217.60" y="377.70" font-size="24.00" fill="#000">H</text>
<text x="1217.60" y="407.20" font-size="24.00" fill="#000">CRC</text>
<text x="1181.60" y="458.30" font-size="24.40" font-weight="bold" fill="#000">Abundance</text>
<text x="1181.60" y="485.00" font-size="24.40" font-weight="bold" fill="#000">(CLR)</text>
<rect x="1180.00" y="497.90" width="30.00" height="1.05" fill="#e53c25"/><rect x="1180.00" y="498.90" width="30.00" height="1.05" fill="#e53c25"/><rect x="1180.00" y="499.90" width="30.00" height="1.05" fill="#e53c25"/><rect x="1180.00" y="500.90" width="30.00" height="1.05" fill="#e53c25"/><rect x="1180.00" y="501.90" width="30.00" height="1.05" fill="#e53c25"/><rect x="1180.00" y="502.90" width="30.00" height="1.05" fill="#e53c25"/><rect x="1180.00" y="503.90" width="30.00" height="1.05" fill="#e53d26"/><rect x="1180.00" y="504.90" width="30.00" height="1.05" fill="#e53e27"/><rect x="1180.00" y="505.90" width="30.00" height="1.05" fill="#e53e28"/><rect x="1180.00" y="506.90" width="30.00" height="1.05" fill="#e53f29"/><rect x="1180.00" y="507.90" width="30.00" height="1.05" fill="#e5402a"/><rect x="1180.00" y="508.90" width="30.00" height="1.05" fill="#e5412b"/><rect x="1180.00" y="509.90" width="30.00" height="1.05" fill="#e5422c"/><rect x="1180.00" y="510.90" width="30.00" height="1.05" fill="#e5432d"/><rect x="1180.00" y="511.90" width="30.00" height="1.05" fill="#e5442f"/><rect x="1180.00" y="512.90" width="30.00" height="1.05" fill="#e54430"/><rect x="1180.00" y="513.90" width="30.00" height="1.05" fill="#e54531"/><rect x="1180.00" y="514.90" width="30.00" height="1.05" fill="#e64632"/><rect x="1180.00" y="515.90" width="30.00" height="1.05" fill="#e64733"/><rect x="1180.00" y="516.90" width="30.00" height="1.05" fill="#e64834"/><rect x="1180.00" y="517.90" width="30.00" height="1.05" fill="#e64935"/><rect x="1180.00" y="518.90" width="30.00" height="1.05" fill="#e64a36"/><rect x="1180.00" y="519.90" width="30.00" height="1.05" fill="#e64b37"/><rect x="1180.00" y="520.90" width="30.00" height="1.05" fill="#e64b38"/><rect x="1180.00" y="521.90" width="30.00" height="1.05" fill="#e64c39"/><rect x="1180.00" y="522.90" width="30.00" height="1.05" fill="#e64d3a"/><rect x="1180.00" y="523.90" width="30.00" height="1.05" fill="#e64e3b"/><rect x="1180.00" y="524.90" width="30.00" height="1.05" fill="#e64f3d"/><rect x="1180.00" y="525.90" width="30.00" height="1.05" fill="#e6503e"/><rect x="1180.00" y="526.90" width="30.00" height="1.05" fill="#e65240"/><rect x="1180.00" y="527.90" width="30.00" height="1.05" fill="#e65442"/><rect x="1180.00" y="528.90" width="30.00" height="1.05" fill="#e75745"/><rect x="1180.00" y="529.90" width="30.00" height="1.05" fill="#e75947"/><rect x="1180.00" y="530.90" width="30.00" height="1.05" fill="#e75c4a"/><rect x="1180.00" y="531.90" width="30.00" height="1.05" fill="#e75f4d"/><rect x="1180.00" y="532.90" width="30.00" height="1.05" fill="#e8614f"/><rect x="1180.00" y="533.90" width="30.00" height="1.05" fill="#e86452"/><rect x="1180.00" y="534.90" width="30.00" height="1.05" fill="#e86654"/><rect x="1180.00" y="535.90" width="30.00" height="1.05" fill="#e96957"/><rect x="1180.00" y="536.90" width="30.00" height="1.05" fill="#e96c5a"/><rect x="1180.00" y="537.90" width="30.00" height="1.05" fill="#e96e5c"/><rect x="1180.00" y="538.90" width="30.00" height="1.05" fill="#e9715f"/><rect x="1180.00" y="539.90" width="30.00" height="1.05" fill="#ea7361"/><rect x="1180.00" y="540.90" width="30.00" height="1.05" fill="#ea7664"/><rect x="1180.00" y="541.90" width="30.00" height="1.05" fill="#ea7967"/><rect x="1180.00" y="542.90" width="30.00" height="1.05" fill="#ea7b69"/><rect x="1180.00" y="543.90" width="30.00" height="1.05" fill="#eb7e6c"/><rect x="1180.00" y="544.90" width="30.00" height="1.05" fill="#eb806e"/><rect x="1180.00" y="545.90" width="30.00" height="1.05" fill="#eb8371"/><rect x="1180.00" y="546.90" width="30.00" height="1.05" fill="#eb8674"/><rect x="1180.00" y="547.90" width="30.00" height="1.05" fill="#ec8876"/><rect x="1180.00" y="548.90" width="30.00" height="1.05" fill="#ec8b79"/><rect x="1180.00" y="549.90" width="30.00" height="1.05" fill="#ec8e7c"/><rect x="1180.00" y="550.90" width="30.00" height="1.05" fill="#ed917f"/><rect x="1180.00" y="551.90" width="30.00" height="1.05" fill="#ed9482"/><rect x="1180.00" y="552.90" width="30.00" height="1.05" fill="#ed9785"/><rect x="1180.00" y="553.90" width="30.00" height="1.05" fill="#ee9b88"/><rect x="1180.00" y="554.90" width="30.00" height="1.05" fill="#ee9e8b"/><rect x="1180.00" y="555.90" width="30.00" height="1.05" fill="#eea18e"/><rect x="1180.00" y="556.90" width="30.00" height="1.05" fill="#efa491"/><rect x="1180.00" y="557.90" width="30.00" height="1.05" fill="#efa894"/><rect x="1180.00" y="558.90" width="30.00" height="1.05" fill="#f0ab97"/><rect x="1180.00" y="559.90" width="30.00" height="1.05" fill="#f0ae9a"/><rect x="1180.00" y="560.90" width="30.00" height="1.05" fill="#f0b19d"/><rect x="1180.00" y="561.90" width="30.00" height="1.05" fill="#f1b4a0"/><rect x="1180.00" y="562.90" width="30.00" height="1.05" fill="#f1b8a3"/><rect x="1180.00" y="563.90" width="30.00" height="1.05" fill="#f1bba6"/><rect x="1180.00" y="564.90" width="30.00" height="1.05" fill="#f2bea9"/><rect x="1180.00" y="565.90" width="30.00" height="1.05" fill="#f2c1ac"/><rect x="1180.00" y="566.90" width="30.00" height="1.05" fill="#f3c5af"/><rect x="1180.00" y="567.90" width="30.00" height="1.05" fill="#f3c8b2"/><rect x="1180.00" y="568.90" width="30.00" height="1.05" fill="#f3cbb5"/><rect x="1180.00" y="569.90" width="30.00" height="1.05" fill="#f3ceb8"/><rect x="1180.00" y="570.90" width="30.00" height="1.05" fill="#f4d1bb"/><rect x="1180.00" y="571.90" width="30.00" height="1.05" fill="#f4d4bf"/><rect x="1180.00" y="572.90" width="30.00" height="1.05" fill="#f4d7c2"/><rect x="1180.00" y="573.90" width="30.00" height="1.05" fill="#f4dac5"/><rect x="1180.00" y="574.90" width="30.00" height="1.05" fill="#f5ddc8"/><rect x="1180.00" y="575.90" width="30.00" height="1.05" fill="#f5e0cb"/><rect x="1180.00" y="576.90" width="30.00" height="1.05" fill="#f5e3ce"/><rect x="1180.00" y="577.90" width="30.00" height="1.05" fill="#f5e6d2"/><rect x="1180.00" y="578.90" width="30.00" height="1.05" fill="#f5e9d5"/><rect x="1180.00" y="579.90" width="30.00" height="1.05" fill="#f6ecd8"/><rect x="1180.00" y="580.90" width="30.00" height="1.05" fill="#f6efdb"/><rect x="1180.00" y="581.90" width="30.00" height="1.05" fill="#f6f2de"/><rect x="1180.00" y="582.90" width="30.00" height="1.05" fill="#f5f1df"/><rect x="1180.00" y="583.90" width="30.00" height="1.05" fill="#f3f0e0"/><rect x="1180.00" y="584.90" width="30.00" height="1.05" fill="#f2efe0"/><rect x="1180.00" y="585.90" width="30.00" height="1.05" fill="#f1eee1"/><rect x="1180.00" y="586.90" width="30.00" height="1.05" fill="#efede2"/><rect x="1180.00" y="587.90" width="30.00" height="1.05" fill="#eeebe2"/><rect x="1180.00" y="588.90" width="30.00" height="1.05" fill="#edeae3"/><rect x="1180.00" y="589.90" width="30.00" height="1.05" fill="#ece9e4"/><rect x="1180.00" y="590.90" width="30.00" height="1.05" fill="#eae8e5"/><rect x="1180.00" y="591.90" width="30.00" height="1.05" fill="#e9e7e5"/><rect x="1180.00" y="592.90" width="30.00" height="1.05" fill="#e8e6e6"/><rect x="1180.00" y="593.90" width="30.00" height="1.05" fill="#e6e5e7"/><rect x="1180.00" y="594.90" width="30.00" height="1.05" fill="#e5e4e7"/><rect x="1180.00" y="595.90" width="30.00" height="1.05" fill="#e4e3e8"/><rect x="1180.00" y="596.90" width="30.00" height="1.05" fill="#e1e0e8"/><rect x="1180.00" y="597.90" width="30.00" height="1.05" fill="#dfdee8"/><rect x="1180.00" y="598.90" width="30.00" height="1.05" fill="#dddbe8"/><rect x="1180.00" y="599.90" width="30.00" height="1.05" fill="#dbd9e8"/><rect x="1180.00" y="600.90" width="30.00" height="1.05" fill="#d8d6e8"/><rect x="1180.00" y="601.90" width="30.00" height="1.05" fill="#d6d4e7"/><rect x="1180.00" y="602.90" width="30.00" height="1.05" fill="#d4d1e7"/><rect x="1180.00" y="603.90" width="30.00" height="1.05" fill="#d2cfe7"/><rect x="1180.00" y="604.90" width="30.00" height="1.05" fill="#cfcce7"/><rect x="1180.00" y="605.90" width="30.00" height="1.05" fill="#cdcae7"/><rect x="1180.00" y="606.90" width="30.00" height="1.05" fill="#cbc7e7"/><rect x="1180.00" y="607.90" width="30.00" height="1.05" fill="#c9c5e7"/><rect x="1180.00" y="608.90" width="30.00" height="1.05" fill="#c6c2e7"/><rect x="1180.00" y="609.90" width="30.00" height="1.05" fill="#c4c0e7"/><rect x="1180.00" y="610.90" width="30.00" height="1.05" fill="#c2bee7"/><rect x="1180.00" y="611.90" width="30.00" height="1.05" fill="#c0bbe7"/><rect x="1180.00" y="612.90" width="30.00" height="1.05" fill="#bdb9e7"/><rect x="1180.00" y="613.90" width="30.00" height="1.05" fill="#bbb6e6"/><rect x="1180.00" y="614.90" width="30.00" height="1.05" fill="#b9b4e6"/><rect x="1180.00" y="615.90" width="30.00" height="1.05" fill="#b7b1e6"/><rect x="1180.00" y="616.90" width="30.00" height="1.05" fill="#b4afe6"/><rect x="1180.00" y="617.90" width="30.00" height="1.05" fill="#b2ace6"/><rect x="1180.00" y="618.90" width="30.00" height="1.05" fill="#b0aae6"/><rect x="1180.00" y="619.90" width="30.00" height="1.05" fill="#aea7e6"/><rect x="1180.00" y="620.90" width="30.00" height="1.05" fill="#aba5e6"/><rect x="1180.00" y="621.90" width="30.00" height="1.05" fill="#a9a2e7"/><rect x="1180.00" y="622.90" width="30.00" height="1.05" fill="#a7a0e7"/><rect x="1180.00" y="623.90" width="30.00" height="1.05" fill="#a59de7"/><rect x="1180.00" y="624.90" width="30.00" height="1.05" fill="#a29ae7"/><rect x="1180.00" y="625.90" width="30.00" height="1.05" fill="#a098e7"/><rect x="1180.00" y="626.90" width="30.00" height="1.05" fill="#9e95e7"/><rect x="1180.00" y="627.90" width="30.00" height="1.05" fill="#9c93e8"/><rect x="1180.00" y="628.90" width="30.00" height="1.05" fill="#9990e8"/><rect x="1180.00" y="629.90" width="30.00" height="1.05" fill="#978de8"/><rect x="1180.00" y="630.90" width="30.00" height="1.05" fill="#958be8"/><rect x="1180.00" y="631.90" width="30.00" height="1.05" fill="#9388e8"/><rect x="1180.00" y="632.90" width="30.00" height="1.05" fill="#9086e8"/><rect x="1180.00" y="633.90" width="30.00" height="1.05" fill="#8e83e9"/><rect x="1180.00" y="634.90" width="30.00" height="1.05" fill="#8c80e9"/><rect x="1180.00" y="635.90" width="30.00" height="1.05" fill="#8a7ee9"/><rect x="1180.00" y="636.90" width="30.00" height="1.05" fill="#877be9"/><rect x="1180.00" y="637.90" width="30.00" height="1.05" fill="#8579e9"/><rect x="1180.00" y="638.90" width="30.00" height="1.05" fill="#8376e9"/><rect x="1180.00" y="639.90" width="30.00" height="1.05" fill="#8173ea"/><rect x="1180.00" y="640.90" width="30.00" height="1.05" fill="#7e71ea"/><rect x="1180.00" y="641.90" width="30.00" height="1.05" fill="#7c6eea"/><rect x="1180.00" y="642.90" width="30.00" height="1.05" fill="#7c6eea"/><rect x="1180.00" y="643.90" width="30.00" height="1.05" fill="#7c6eea"/><rect x="1180.00" y="644.90" width="30.00" height="1.05" fill="#7b6dea"/><rect x="1180.00" y="645.90" width="30.00" height="1.05" fill="#7b6dea"/><rect x="1180.00" y="646.90" width="30.00" height="1.05" fill="#7b6dea"/><rect x="1180.00" y="647.90" width="30.00" height="1.05" fill="#7b6dea"/>
<rect x="1180.00" y="502.90" width="5" height="1.4" fill="#fff" opacity="0.85"/>
<rect x="1205.00" y="502.90" width="5" height="1.4" fill="#fff" opacity="0.85"/>
<text x="1217.60" y="510.10" font-size="18.00" fill="#000">10</text>
<rect x="1180.00" y="549.00" width="5" height="1.4" fill="#fff" opacity="0.85"/>
<rect x="1205.00" y="549.00" width="5" height="1.4" fill="#fff" opacity="0.85"/>
<text x="1217.60" y="556.20" font-size="18.00" fill="#000">5</text>
<rect x="1180.00" y="595.80" width="5" height="1.4" fill="#fff" opacity="0.85"/>
<rect x="1205.00" y="595.80" width="5" height="1.4" fill="#fff" opacity="0.85"/>
<text x="1217.60" y="603.00" font-size="18.00" fill="#000">0</text>
<rect x="1180.00" y="641.80" width="5" height="1.4" fill="#fff" opacity="0.85"/>
<rect x="1205.00" y="641.80" width="5" height="1.4" fill="#fff" opacity="0.85"/>
<text x="1217.60" y="649.00" font-size="18.00" fill="#000">-5</text>
<rect x="110.80" y="915.30" width="25.26" height="34.50" fill="#e87a70"/><rect x="135.71" y="915.30" width="2.49" height="34.50" fill="#55bcc0"/><rect x="137.86" y="915.30" width="3.21" height="34.50" fill="url(#mix)"/><rect x="140.71" y="915.30" width="4.64" height="34.50" fill="#55bcc0"/><rect x="145.00" y="915.30" width="3.21" height="34.50" fill="url(#mix)"/><rect x="147.86" y="915.30" width="13.21" height="34.50" fill="#55bcc0"/><rect x="160.71" y="915.30" width="9.64" height="34.50" fill="#e87a70"/><rect x="170.00" y="915.30" width="3.21" height="34.50" fill="url(#mix)"/><rect x="172.86" y="915.30" width="8.21" height="34.50" fill="#e87a70"/><rect x="180.71" y="915.30" width="2.49" height="34.50" fill="#55bcc0"/><rect x="182.86" y="915.30" width="3.21" height="34.50" fill="url(#mix)"/><rect x="185.71" y="915.30" width="3.21" height="34.50" fill="#55bcc0"/><rect x="188.57" y="915.30" width="42.49" height="34.50" fill="#e87a70"/><rect x="230.71" y="915.30" width="22.49" height="34.50" fill="#55bcc0"/><rect x="252.86" y="915.30" width="11.06" height="34.50" fill="#e87a70"/><rect x="263.57" y="915.30" width="4.64" height="34.50" fill="#55bcc0"/><rect x="267.86" y="915.30" width="10.35" height="34.50" fill="#e87a70"/><rect x="277.86" y="915.30" width="10.35" height="34.50" fill="#55bcc0"/><rect x="287.86" y="915.30" width="40.35" height="34.50" fill="#e87a70"/><rect x="327.86" y="915.30" width="7.49" height="34.50" fill="#55bcc0"/><rect x="335.00" y="915.30" width="3.21" height="34.50" fill="url(#mix)"/><rect x="337.86" y="915.30" width="65.35" height="34.50" fill="#55bcc0"/><rect x="402.86" y="915.30" width="10.35" height="34.50" fill="#e87a70"/><rect x="412.86" y="915.30" width="21.78" height="34.50" fill="#55bcc0"/><rect x="434.29" y="915.30" width="3.92" height="34.50" fill="url(#mix)"/><rect x="437.86" y="915.30" width="13.92" height="34.50" fill="#55bcc0"/><rect x="451.43" y="915.30" width="6.78" height="34.50" fill="#e87a70"/><rect x="457.86" y="915.30" width="6.78" height="34.50" fill="#55bcc0"/><rect x="464.29" y="915.30" width="3.92" height="34.50" fill="url(#mix)"/><rect x="467.86" y="915.30" width="13.21" height="34.50" fill="#55bcc0"/><rect x="480.71" y="915.30" width="2.49" height="34.50" fill="url(#mix)"/><rect x="482.86" y="915.30" width="2.49" height="34.50" fill="#55bcc0"/><rect x="485.00" y="915.30" width="3.21" height="34.50" fill="url(#mix)"/><rect x="487.86" y="915.30" width="11.06" height="34.50" fill="#55bcc0"/><rect x="498.57" y="915.30" width="18.21" height="34.50" fill="#e87a70"/><rect x="516.43" y="915.30" width="3.92" height="34.50" fill="url(#mix)"/><rect x="520.00" y="915.30" width="8.21" height="34.50" fill="#e87a70"/><rect x="527.86" y="915.30" width="8.92" height="34.50" fill="#55bcc0"/><rect x="536.43" y="915.30" width="3.92" height="34.50" fill="#e87a70"/><rect x="540.00" y="915.30" width="3.21" height="34.50" fill="url(#mix)"/><rect x="542.86" y="915.30" width="6.06" height="34.50" fill="#e87a70"/><rect x="548.57" y="915.30" width="4.64" height="34.50" fill="#55bcc0"/><rect x="552.86" y="915.30" width="5.35" height="34.50" fill="#e87a70"/><rect x="557.86" y="915.30" width="5.35" height="34.50" fill="#55bcc0"/><rect x="562.86" y="915.30" width="6.78" height="34.50" fill="url(#mix)"/><rect x="569.29" y="915.30" width="4.64" height="34.50" fill="#55bcc0"/><rect x="573.57" y="915.30" width="5.35" height="34.50" fill="#e87a70"/><rect x="578.57" y="915.30" width="9.64" height="34.50" fill="url(#mix)"/><rect x="587.86" y="915.30" width="13.92" height="34.50" fill="#55bcc0"/><rect x="601.43" y="915.30" width="3.21" height="34.50" fill="url(#mix)"/><rect x="604.29" y="915.30" width="32.49" height="34.50" fill="#55bcc0"/><rect x="636.43" y="915.30" width="1.78" height="34.50" fill="url(#mix)"/><rect x="637.86" y="915.30" width="12.49" height="34.50" fill="#55bcc0"/><rect x="650.00" y="915.30" width="2.49" height="34.50" fill="url(#mix)"/><rect x="652.14" y="915.30" width="40.84" height="34.50" fill="#55bcc0"/><rect x="692.63" y="915.30" width="2.72" height="34.50" fill="#e87a70"/><rect x="695.00" y="915.30" width="20.88" height="34.50" fill="#55bcc0"/><rect x="715.53" y="915.30" width="2.72" height="34.50" fill="url(#mix)"/><rect x="717.89" y="915.30" width="2.72" height="34.50" fill="#55bcc0"/><rect x="720.26" y="915.30" width="2.72" height="34.50" fill="#e87a70"/><rect x="722.63" y="915.30" width="47.72" height="34.50" fill="#55bcc0"/><rect x="770.00" y="915.30" width="9.82" height="34.50" fill="#e87a70"/><rect x="779.47" y="915.30" width="10.61" height="34.50" fill="#55bcc0"/><rect x="789.74" y="915.30" width="3.51" height="34.50" fill="#e87a70"/><rect x="792.89" y="915.30" width="5.88" height="34.50" fill="#55bcc0"/><rect x="798.42" y="915.30" width="6.67" height="34.50" fill="#e87a70"/><rect x="804.74" y="915.30" width="5.09" height="34.50" fill="#55bcc0"/><rect x="809.47" y="915.30" width="1.93" height="34.50" fill="#e87a70"/><rect x="811.05" y="915.30" width="14.56" height="34.50" fill="#55bcc0"/><rect x="825.26" y="915.30" width="4.30" height="34.50" fill="#e87a70"/><rect x="829.21" y="915.30" width="3.51" height="34.50" fill="#55bcc0"/><rect x="832.37" y="915.30" width="4.30" height="34.50" fill="#e87a70"/><rect x="836.32" y="915.30" width="5.09" height="34.50" fill="#55bcc0"/><rect x="841.05" y="915.30" width="3.51" height="34.50" fill="url(#mix)"/><rect x="844.21" y="915.30" width="9.03" height="34.50" fill="#55bcc0"/><rect x="852.89" y="915.30" width="1.93" height="34.50" fill="#e87a70"/><rect x="854.47" y="915.30" width="2.72" height="34.50" fill="url(#mix)"/><rect x="856.84" y="915.30" width="4.30" height="34.50" fill="#55bcc0"/><rect x="860.79" y="915.30" width="2.71" height="34.50" fill="#e87a70"/>
<rect x="110.80" y="956.80" width="5.26" height="55.10" fill="#f0aa96"/><rect x="115.71" y="956.80" width="4.64" height="55.10" fill="#f5e4cf"/><rect x="120.00" y="956.80" width="4.64" height="55.10" fill="#f0aa96"/><rect x="124.29" y="956.80" width="6.78" height="55.10" fill="#f3c8b2"/><rect x="130.71" y="956.80" width="5.35" height="55.10" fill="#f5e4cf"/><rect x="135.71" y="956.80" width="5.35" height="55.10" fill="#f3c8b2"/><rect x="140.71" y="956.80" width="15.35" height="55.10" fill="#f0aa96"/><rect x="155.71" y="956.80" width="4.64" height="55.10" fill="#ea7462"/><rect x="160.00" y="956.80" width="5.35" height="55.10" fill="#f0ede1"/><rect x="165.00" y="956.80" width="16.78" height="55.10" fill="#f0aa96"/><rect x="181.43" y="956.80" width="8.92" height="55.10" fill="#ec8c7a"/><rect x="190.00" y="956.80" width="10.35" height="55.10" fill="#f3c8b2"/><rect x="200.00" y="956.80" width="1.78" height="55.10" fill="#f0ede1"/><rect x="201.43" y="956.80" width="30.35" height="55.10" fill="#f3c8b2"/><rect x="231.43" y="956.80" width="16.06" height="55.10" fill="#f0aa96"/><rect x="247.14" y="956.80" width="2.49" height="55.10" fill="#ea7462"/><rect x="249.29" y="956.80" width="14.64" height="55.10" fill="#f3c8b2"/><rect x="263.57" y="956.80" width="3.92" height="55.10" fill="#f0aa96"/><rect x="267.14" y="956.80" width="11.06" height="55.10" fill="#f3c8b2"/><rect x="277.86" y="956.80" width="19.99" height="55.10" fill="#f0aa96"/><rect x="297.50" y="956.80" width="25.71" height="55.10" fill="#f3c8b2"/><rect x="322.86" y="956.80" width="13.21" height="55.10" fill="#f0aa96"/><rect x="335.71" y="956.80" width="2.49" height="55.10" fill="#f0ede1"/><rect x="337.86" y="956.80" width="15.35" height="55.10" fill="#f3c8b2"/><rect x="352.86" y="956.80" width="47.49" height="55.10" fill="#f0aa96"/><rect x="400.00" y="956.80" width="3.92" height="55.10" fill="#ec8c7a"/><rect x="403.57" y="956.80" width="10.35" height="55.10" fill="#f3c8b2"/><rect x="413.57" y="956.80" width="3.92" height="55.10" fill="#e75c4a"/><rect x="417.14" y="956.80" width="13.21" height="55.10" fill="#f0aa96"/><rect x="430.00" y="956.80" width="3.21" height="55.10" fill="#ea7462"/><rect x="432.86" y="956.80" width="5.35" height="55.10" fill="#f5e4cf"/><rect x="437.86" y="956.80" width="4.64" height="55.10" fill="#f0ede1"/><rect x="442.14" y="956.80" width="16.06" height="55.10" fill="#ec8c7a"/><rect x="457.86" y="956.80" width="8.21" height="55.10" fill="#ea7462"/><rect x="465.71" y="956.80" width="5.35" height="55.10" fill="#f3c8b2"/><rect x="470.71" y="956.80" width="7.49" height="55.10" fill="#f5e4cf"/><rect x="477.86" y="956.80" width="18.21" height="55.10" fill="#ec8c7a"/><rect x="495.71" y="956.80" width="7.49" height="55.10" fill="#f5e4cf"/><rect x="502.86" y="956.80" width="10.35" height="55.10" fill="#f0aa96"/><rect x="512.86" y="956.80" width="3.92" height="55.10" fill="#ea7462"/><rect x="516.43" y="956.80" width="5.35" height="55.10" fill="#f3c8b2"/><rect x="521.43" y="956.80" width="6.78" height="55.10" fill="#ec8c7a"/><rect x="527.86" y="956.80" width="3.92" height="55.10" fill="#f0ede1"/><rect x="531.43" y="956.80" width="13.92" height="55.10" fill="#f0aa96"/><rect x="545.00" y="956.80" width="15.35" height="55.10" fill="#ec8c7a"/><rect x="560.00" y="956.80" width="6.06" height="55.10" fill="#f3c8b2"/><rect x="565.71" y="956.80" width="6.06" height="55.10" fill="#ec8c7a"/><rect x="571.43" y="956.80" width="11.78" height="55.10" fill="#f5e4cf"/><rect x="582.86" y="956.80" width="10.35" height="55.10" fill="#ea7462"/><rect x="592.86" y="956.80" width="13.21" height="55.10" fill="#f0aa96"/><rect x="605.71" y="956.80" width="7.49" height="55.10" fill="#e64c39"/><rect x="612.86" y="956.80" width="13.21" height="55.10" fill="#ea7462"/><rect x="625.71" y="956.80" width="14.64" height="55.10" fill="#f0aa96"/><rect x="640.00" y="956.80" width="8.21" height="55.10" fill="#f3c8b2"/><rect x="647.86" y="956.80" width="15.35" height="55.10" fill="#ec8c7a"/><rect x="662.86" y="956.80" width="4.99" height="55.10" fill="#e75c4a"/><rect x="667.50" y="956.80" width="2.59" height="55.10" fill="#ea7462"/><rect x="669.74" y="956.80" width="5.88" height="55.10" fill="#f0aa96"/><rect x="675.26" y="956.80" width="5.88" height="55.10" fill="#ec8c7a"/><rect x="680.79" y="956.80" width="9.82" height="55.10" fill="#e75c4a"/><rect x="690.26" y="956.80" width="5.09" height="55.10" fill="#f5e4cf"/><rect x="695.00" y="956.80" width="5.09" height="55.10" fill="#f0aa96"/><rect x="699.74" y="956.80" width="10.61" height="55.10" fill="#f3c8b2"/><rect x="710.00" y="956.80" width="3.51" height="55.10" fill="#e75c4a"/><rect x="713.16" y="956.80" width="21.67" height="55.10" fill="#ec8c7a"/><rect x="734.47" y="956.80" width="9.82" height="55.10" fill="#eb806e"/><rect x="743.95" y="956.80" width="7.46" height="55.10" fill="#e64c39"/><rect x="751.05" y="956.80" width="15.35" height="55.10" fill="#ec8c7a"/><rect x="766.05" y="956.80" width="4.30" height="55.10" fill="#e75c4a"/><rect x="770.00" y="956.80" width="15.35" height="55.10" fill="#f3c8b2"/><rect x="785.00" y="956.80" width="8.24" height="55.10" fill="#ec8c7a"/><rect x="792.89" y="956.80" width="9.82" height="55.10" fill="#f5e4cf"/><rect x="802.37" y="956.80" width="14.56" height="55.10" fill="#e75c4a"/><rect x="816.58" y="956.80" width="4.30" height="55.10" fill="#e64c39"/><rect x="820.53" y="956.80" width="5.09" height="55.10" fill="#ec8c7a"/><rect x="825.26" y="956.80" width="3.51" height="55.10" fill="#f0ede1"/><rect x="828.42" y="956.80" width="14.56" height="55.10" fill="#f0aa96"/><rect x="842.63" y="956.80" width="7.46" height="55.10" fill="#ec8c7a"/><rect x="849.74" y="956.80" width="4.30" height="55.10" fill="#e64c39"/><rect x="853.68" y="956.80" width="9.82" height="55.10" fill="#ea7462"/>
<rect x="110.80" y="1011.90" width="15.26" height="55.10" fill="#f0aa96"/><rect x="125.71" y="1011.90" width="12.49" height="55.10" fill="#ec8c7a"/><rect x="137.86" y="1011.90" width="3.21" height="55.10" fill="#ea7462"/><rect x="140.71" y="1011.90" width="15.35" height="55.10" fill="#f3c8b2"/><rect x="155.71" y="1011.90" width="5.35" height="55.10" fill="#f0ede1"/><rect x="160.71" y="1011.90" width="4.64" height="55.10" fill="#a69ee7"/><rect x="165.00" y="1011.90" width="5.35" height="55.10" fill="#cfcce7"/><rect x="170.00" y="1011.90" width="11.06" height="55.10" fill="#f3c8b2"/><rect x="180.71" y="1011.90" width="3.92" height="55.10" fill="#e75c4a"/><rect x="184.29" y="1011.90" width="8.92" height="55.10" fill="#ec8c7a"/><rect x="192.86" y="1011.90" width="3.21" height="55.10" fill="#f0ede1"/><rect x="195.71" y="1011.90" width="6.06" height="55.10" fill="#f3c8b2"/><rect x="201.43" y="1011.90" width="10.35" height="55.10" fill="#e75c4a"/><rect x="211.43" y="1011.90" width="11.78" height="55.10" fill="#ea7462"/><rect x="222.86" y="1011.90" width="13.21" height="55.10" fill="#f3c8b2"/><rect x="235.71" y="1011.90" width="8.92" height="55.10" fill="#ea7462"/><rect x="244.29" y="1011.90" width="4.64" height="55.10" fill="#e75c4a"/><rect x="248.57" y="1011.90" width="4.64" height="55.10" fill="#ec8c7a"/><rect x="252.86" y="1011.90" width="8.92" height="55.10" fill="#f3c8b2"/><rect x="261.43" y="1011.90" width="7.49" height="55.10" fill="#f0ede1"/><rect x="268.57" y="1011.90" width="16.78" height="55.10" fill="#f3c8b2"/><rect x="285.00" y="1011.90" width="6.06" height="55.10" fill="#e75c4a"/><rect x="290.71" y="1011.90" width="7.14" height="55.10" fill="#f0aa96"/><rect x="297.50" y="1011.90" width="40.71" height="55.10" fill="#f3c8b2"/><rect x="337.86" y="1011.90" width="12.49" height="55.10" fill="#ec8c7a"/><rect x="350.00" y="1011.90" width="50.35" height="55.10" fill="#f3c8b2"/><rect x="400.00" y="1011.90" width="3.92" height="55.10" fill="#f0ede1"/><rect x="403.57" y="1011.90" width="11.78" height="55.10" fill="#f5e4cf"/><rect x="415.00" y="1011.90" width="13.21" height="55.10" fill="#f0aa96"/><rect x="427.86" y="1011.90" width="6.78" height="55.10" fill="#f0ede1"/><rect x="434.29" y="1011.90" width="6.78" height="55.10" fill="#ec8c7a"/><rect x="440.71" y="1011.90" width="4.64" height="55.10" fill="#f3c8b2"/><rect x="445.00" y="1011.90" width="21.06" height="55.10" fill="#f0aa96"/><rect x="465.71" y="1011.90" width="7.49" height="55.10" fill="#f5e4cf"/><rect x="472.86" y="1011.90" width="21.06" height="55.10" fill="#e75c4a"/><rect x="493.57" y="1011.90" width="4.64" height="55.10" fill="#f3c8b2"/><rect x="497.86" y="1011.90" width="21.06" height="55.10" fill="#bab5e6"/><rect x="518.57" y="1011.90" width="13.21" height="55.10" fill="#f5e4cf"/><rect x="531.43" y="1011.90" width="10.35" height="55.10" fill="#ec8c7a"/><rect x="541.43" y="1011.90" width="4.64" height="55.10" fill="#e64c39"/><rect x="545.71" y="1011.90" width="12.49" height="55.10" fill="#f0aa96"/><rect x="557.86" y="1011.90" width="18.21" height="55.10" fill="#ea7462"/><rect x="575.71" y="1011.90" width="4.64" height="55.10" fill="#e75c4a"/><rect x="580.00" y="1011.90" width="8.92" height="55.10" fill="#ec8c7a"/><rect x="588.57" y="1011.90" width="17.49" height="55.10" fill="#ea7462"/><rect x="605.71" y="1011.90" width="2.49" height="55.10" fill="#f5e4cf"/><rect x="607.86" y="1011.90" width="8.21" height="55.10" fill="#e4e3e8"/><rect x="615.71" y="1011.90" width="21.78" height="55.10" fill="#e75c4a"/><rect x="637.14" y="1011.90" width="13.92" height="55.10" fill="#ec8c7a"/><rect x="650.71" y="1011.90" width="12.49" height="55.10" fill="#e75c4a"/><rect x="662.86" y="1011.90" width="12.76" height="55.10" fill="#f0aa96"/><rect x="675.26" y="1011.90" width="46.93" height="55.10" fill="#ea7462"/><rect x="721.84" y="1011.90" width="24.03" height="55.10" fill="#e86856"/><rect x="745.53" y="1011.90" width="5.88" height="55.10" fill="#e64c39"/><rect x="751.05" y="1011.90" width="4.30" height="55.10" fill="#f5e4cf"/><rect x="755.00" y="1011.90" width="9.82" height="55.10" fill="#f0aa96"/><rect x="764.47" y="1011.90" width="4.30" height="55.10" fill="#bab5e6"/><rect x="768.42" y="1011.90" width="12.19" height="55.10" fill="#ec8c7a"/><rect x="780.26" y="1011.90" width="5.09" height="55.10" fill="#f3c8b2"/><rect x="785.00" y="1011.90" width="16.14" height="55.10" fill="#ec8c7a"/><rect x="800.79" y="1011.90" width="16.14" height="55.10" fill="#f0aa96"/><rect x="816.58" y="1011.90" width="12.19" height="55.10" fill="#ec8c7a"/><rect x="828.42" y="1011.90" width="10.61" height="55.10" fill="#a69ee7"/><rect x="838.68" y="1011.90" width="9.82" height="55.10" fill="#bab5e6"/><rect x="848.16" y="1011.90" width="15.34" height="55.10" fill="#c5c1e7"/>
<rect x="110.80" y="1067.00" width="4.55" height="55.10" fill="#ec8c7a"/><rect x="115.00" y="1067.00" width="11.06" height="55.10" fill="#f0ede1"/><rect x="125.71" y="1067.00" width="4.64" height="55.10" fill="#e4e3e8"/><rect x="130.00" y="1067.00" width="6.78" height="55.10" fill="#ec8c7a"/><rect x="136.43" y="1067.00" width="6.78" height="55.10" fill="#e4e3e8"/><rect x="142.86" y="1067.00" width="18.21" height="55.10" fill="#f0ede1"/><rect x="160.71" y="1067.00" width="2.49" height="55.10" fill="#ea7462"/><rect x="162.86" y="1067.00" width="7.49" height="55.10" fill="#f3c8b2"/><rect x="170.00" y="1067.00" width="11.78" height="55.10" fill="#f0ede1"/><rect x="181.43" y="1067.00" width="8.92" height="55.10" fill="#f5e4cf"/><rect x="190.00" y="1067.00" width="11.78" height="55.10" fill="#f0ede1"/><rect x="201.43" y="1067.00" width="6.06" height="55.10" fill="#f5e4cf"/><rect x="207.14" y="1067.00" width="7.49" height="55.10" fill="#f0ede1"/><rect x="214.29" y="1067.00" width="10.35" height="55.10" fill="#dad8e8"/><rect x="224.29" y="1067.00" width="7.49" height="55.10" fill="#f0ede1"/><rect x="231.43" y="1067.00" width="12.49" height="55.10" fill="#e4e3e8"/><rect x="243.57" y="1067.00" width="9.64" height="55.10" fill="#cfcce7"/><rect x="252.86" y="1067.00" width="8.92" height="55.10" fill="#f0ede1"/><rect x="261.43" y="1067.00" width="6.78" height="55.10" fill="#e4e3e8"/><rect x="267.86" y="1067.00" width="11.78" height="55.10" fill="#f0aa96"/><rect x="279.29" y="1067.00" width="5.35" height="55.10" fill="#f0ede1"/><rect x="284.29" y="1067.00" width="13.56" height="55.10" fill="#f5e4cf"/><rect x="297.50" y="1067.00" width="40.71" height="55.10" fill="#f0ede1"/><rect x="337.86" y="1067.00" width="11.06" height="55.10" fill="#e4e3e8"/><rect x="348.57" y="1067.00" width="1.78" height="55.10" fill="#f5e4cf"/><rect x="350.00" y="1067.00" width="52.49" height="55.10" fill="#eae8e5"/><rect x="402.14" y="1067.00" width="36.06" height="55.10" fill="#dad8e8"/><rect x="437.86" y="1067.00" width="3.92" height="55.10" fill="#bab5e6"/><rect x="441.43" y="1067.00" width="5.35" height="55.10" fill="#f5e4cf"/><rect x="446.43" y="1067.00" width="7.49" height="55.10" fill="#e4e3e8"/><rect x="453.57" y="1067.00" width="4.64" height="55.10" fill="#f0aa96"/><rect x="457.86" y="1067.00" width="11.78" height="55.10" fill="#f5e4cf"/><rect x="469.29" y="1067.00" width="25.35" height="55.10" fill="#f0ede1"/><rect x="494.29" y="1067.00" width="3.92" height="55.10" fill="#a69ee7"/><rect x="497.86" y="1067.00" width="12.49" height="55.10" fill="#f5e4cf"/><rect x="510.00" y="1067.00" width="3.21" height="55.10" fill="#e75c4a"/><rect x="512.86" y="1067.00" width="13.21" height="55.10" fill="#f3c8b2"/><rect x="525.71" y="1067.00" width="14.64" height="55.10" fill="#e4e3e8"/><rect x="540.00" y="1067.00" width="8.21" height="55.10" fill="#f0aa96"/><rect x="547.86" y="1067.00" width="5.35" height="55.10" fill="#f0ede1"/><rect x="552.86" y="1067.00" width="7.49" height="55.10" fill="#f3c8b2"/><rect x="560.00" y="1067.00" width="21.78" height="55.10" fill="#eae8e5"/><rect x="581.43" y="1067.00" width="6.06" height="55.10" fill="#ec8c7a"/><rect x="587.14" y="1067.00" width="11.78" height="55.10" fill="#f0ede1"/><rect x="598.57" y="1067.00" width="19.64" height="55.10" fill="#dad8e8"/><rect x="617.86" y="1067.00" width="32.49" height="55.10" fill="#bab5e6"/><rect x="650.00" y="1067.00" width="13.21" height="55.10" fill="#f3c8b2"/><rect x="662.86" y="1067.00" width="7.23" height="55.10" fill="#f0ede1"/><rect x="669.74" y="1067.00" width="18.51" height="55.10" fill="#f3c8b2"/><rect x="687.89" y="1067.00" width="18.51" height="55.10" fill="#f0ede1"/><rect x="706.05" y="1067.00" width="3.51" height="55.10" fill="#ec8c7a"/><rect x="709.21" y="1067.00" width="27.19" height="55.10" fill="#e4e3e8"/><rect x="736.05" y="1067.00" width="7.46" height="55.10" fill="#f0ede1"/><rect x="743.16" y="1067.00" width="12.19" height="55.10" fill="#f3c8b2"/><rect x="755.00" y="1067.00" width="11.40" height="55.10" fill="#e4e3e8"/><rect x="766.05" y="1067.00" width="3.51" height="55.10" fill="#ec8c7a"/><rect x="769.21" y="1067.00" width="16.14" height="55.10" fill="#f0ede1"/><rect x="785.00" y="1067.00" width="20.88" height="55.10" fill="#f5e4cf"/><rect x="805.53" y="1067.00" width="24.03" height="55.10" fill="#bab5e6"/><rect x="829.21" y="1067.00" width="7.46" height="55.10" fill="#f0ede1"/><rect x="836.32" y="1067.00" width="7.46" height="55.10" fill="#cfcce7"/><rect x="843.42" y="1067.00" width="6.67" height="55.10" fill="#f5e4cf"/><rect x="849.74" y="1067.00" width="13.76" height="55.10" fill="#cfcce7"/>
<rect x="110.80" y="1122.10" width="9.55" height="55.10" fill="#e4e3e8"/><rect x="120.00" y="1122.10" width="10.35" height="55.10" fill="#f0ede1"/><rect x="130.00" y="1122.10" width="3.21" height="55.10" fill="#a69ee7"/><rect x="132.86" y="1122.10" width="11.78" height="55.10" fill="#e4e3e8"/><rect x="144.29" y="1122.10" width="21.06" height="55.10" fill="#cfcce7"/><rect x="165.00" y="1122.10" width="8.21" height="55.10" fill="#a69ee7"/><rect x="172.86" y="1122.10" width="46.06" height="55.10" fill="#dad8e8"/><rect x="218.57" y="1122.10" width="6.06" height="55.10" fill="#f0ede1"/><rect x="224.29" y="1122.10" width="7.49" height="55.10" fill="#cfcce7"/><rect x="231.43" y="1122.10" width="3.21" height="55.10" fill="#f5e4cf"/><rect x="234.29" y="1122.10" width="9.64" height="55.10" fill="#cfcce7"/><rect x="243.57" y="1122.10" width="5.35" height="55.10" fill="#f0ede1"/><rect x="248.57" y="1122.10" width="31.78" height="55.10" fill="#cfcce7"/><rect x="280.00" y="1122.10" width="3.21" height="55.10" fill="#f5e4cf"/><rect x="282.86" y="1122.10" width="35.35" height="55.10" fill="#e4e3e8"/><rect x="317.86" y="1122.10" width="3.21" height="55.10" fill="#f0ede1"/><rect x="320.71" y="1122.10" width="80.35" height="55.10" fill="#dad8e8"/><rect x="400.71" y="1122.10" width="3.21" height="55.10" fill="#f0ede1"/><rect x="403.57" y="1122.10" width="24.64" height="55.10" fill="#cfcce7"/><rect x="427.86" y="1122.10" width="2.49" height="55.10" fill="#f0ede1"/><rect x="430.00" y="1122.10" width="8.21" height="55.10" fill="#cfcce7"/><rect x="437.86" y="1122.10" width="8.92" height="55.10" fill="#f5e4cf"/><rect x="446.43" y="1122.10" width="11.78" height="55.10" fill="#f0ede1"/><rect x="457.86" y="1122.10" width="7.49" height="55.10" fill="#cfcce7"/><rect x="465.00" y="1122.10" width="6.06" height="55.10" fill="#f5e4cf"/><rect x="470.71" y="1122.10" width="12.14" height="55.10" fill="#dad8e8"/><rect x="482.50" y="1122.10" width="6.42" height="55.10" fill="#e4e3e8"/><rect x="488.57" y="1122.10" width="4.64" height="55.10" fill="#bab5e6"/><rect x="492.86" y="1122.10" width="3.92" height="55.10" fill="#e4e3e8"/><rect x="496.43" y="1122.10" width="5.35" height="55.10" fill="#bab5e6"/><rect x="501.43" y="1122.10" width="26.06" height="55.10" fill="#e4e3e8"/><rect x="527.14" y="1122.10" width="3.92" height="55.10" fill="#9186e8"/><rect x="530.71" y="1122.10" width="9.64" height="55.10" fill="#cfcce7"/><rect x="540.00" y="1122.10" width="21.78" height="55.10" fill="#eae8e5"/><rect x="561.43" y="1122.10" width="14.64" height="55.10" fill="#f0ede1"/><rect x="575.71" y="1122.10" width="5.35" height="55.10" fill="#bab5e6"/><rect x="580.71" y="1122.10" width="36.78" height="55.10" fill="#f0ede1"/><rect x="617.14" y="1122.10" width="30.35" height="55.10" fill="#cfcce7"/><rect x="647.14" y="1122.10" width="20.71" height="55.10" fill="#e4e3e8"/><rect x="667.50" y="1122.10" width="18.38" height="55.10" fill="#eae8e5"/><rect x="685.53" y="1122.10" width="19.30" height="55.10" fill="#e4e3e8"/><rect x="704.47" y="1122.10" width="12.98" height="55.10" fill="#bab5e6"/><rect x="717.11" y="1122.10" width="28.77" height="55.10" fill="#e4e3e8"/><rect x="745.53" y="1122.10" width="14.56" height="55.10" fill="#9186e8"/><rect x="759.74" y="1122.10" width="25.61" height="55.10" fill="#e4e3e8"/><rect x="785.00" y="1122.10" width="17.72" height="55.10" fill="#f0ede1"/><rect x="802.37" y="1122.10" width="14.56" height="55.10" fill="#bab5e6"/><rect x="816.58" y="1122.10" width="11.40" height="55.10" fill="#a69ee7"/><rect x="827.63" y="1122.10" width="12.19" height="55.10" fill="#f5e4cf"/><rect x="839.47" y="1122.10" width="16.93" height="55.10" fill="#7c6eea"/><rect x="856.05" y="1122.10" width="7.45" height="55.10" fill="#9186e8"/>
<rect x="110.80" y="1177.20" width="20.98" height="55.10" fill="#e4e3e8"/><rect x="131.43" y="1177.20" width="2.49" height="55.10" fill="#a69ee7"/><rect x="133.57" y="1177.20" width="6.78" height="55.10" fill="#e4e3e8"/><rect x="140.00" y="1177.20" width="5.35" height="55.10" fill="#a69ee7"/><rect x="145.00" y="1177.20" width="16.06" height="55.10" fill="#c5c1e7"/><rect x="160.71" y="1177.20" width="2.49" height="55.10" fill="#9186e8"/><rect x="162.86" y="1177.20" width="3.92" height="55.10" fill="#e4e3e8"/><rect x="166.43" y="1177.20" width="4.64" height="55.10" fill="#9186e8"/><rect x="170.71" y="1177.20" width="11.06" height="55.10" fill="#e4e3e8"/><rect x="181.43" y="1177.20" width="4.64" height="55.10" fill="#cfcce7"/><rect x="185.71" y="1177.20" width="30.35" height="55.10" fill="#e4e3e8"/><rect x="215.71" y="1177.20" width="7.49" height="55.10" fill="#f5e4cf"/><rect x="222.86" y="1177.20" width="8.21" height="55.10" fill="#e4e3e8"/><rect x="230.71" y="1177.20" width="13.92" height="55.10" fill="#bab5e6"/><rect x="244.29" y="1177.20" width="23.21" height="55.10" fill="#dad8e8"/><rect x="267.14" y="1177.20" width="11.06" height="55.10" fill="#cfcce7"/><rect x="277.86" y="1177.20" width="11.06" height="55.10" fill="#bab5e6"/><rect x="288.57" y="1177.20" width="39.64" height="55.10" fill="#e4e3e8"/><rect x="327.86" y="1177.20" width="10.35" height="55.10" fill="#cfcce7"/><rect x="337.86" y="1177.20" width="63.21" height="55.10" fill="#c5c1e7"/><rect x="400.71" y="1177.20" width="11.78" height="55.10" fill="#e4e3e8"/><rect x="412.14" y="1177.20" width="21.06" height="55.10" fill="#cfcce7"/><rect x="432.86" y="1177.20" width="5.35" height="55.10" fill="#a69ee7"/><rect x="437.86" y="1177.20" width="16.06" height="55.10" fill="#e4e3e8"/><rect x="453.57" y="1177.20" width="11.06" height="55.10" fill="#a69ee7"/><rect x="464.29" y="1177.20" width="11.06" height="55.10" fill="#f5e4cf"/><rect x="475.00" y="1177.20" width="26.78" height="55.10" fill="#cfcce7"/><rect x="501.43" y="1177.20" width="16.06" height="55.10" fill="#f5e4cf"/><rect x="517.14" y="1177.20" width="23.21" height="55.10" fill="#c5c1e7"/><rect x="540.00" y="1177.20" width="18.21" height="55.10" fill="#cfcce7"/><rect x="557.86" y="1177.20" width="2.49" height="55.10" fill="#a69ee7"/><rect x="560.00" y="1177.20" width="23.21" height="55.10" fill="#e4e3e8"/><rect x="582.86" y="1177.20" width="25.35" height="55.10" fill="#cfcce7"/><rect x="607.86" y="1177.20" width="13.92" height="55.10" fill="#a69ee7"/><rect x="621.43" y="1177.20" width="14.64" height="55.10" fill="#cfcce7"/><rect x="635.71" y="1177.20" width="13.21" height="55.10" fill="#bab5e6"/><rect x="648.57" y="1177.20" width="27.83" height="55.10" fill="#cfcce7"/><rect x="676.05" y="1177.20" width="14.56" height="55.10" fill="#a69ee7"/><rect x="690.26" y="1177.20" width="25.61" height="55.10" fill="#eae8e5"/><rect x="715.53" y="1177.20" width="30.35" height="55.10" fill="#c5c1e7"/><rect x="745.53" y="1177.20" width="14.56" height="55.10" fill="#dad8e8"/><rect x="759.74" y="1177.20" width="3.51" height="55.10" fill="#9186e8"/><rect x="762.89" y="1177.20" width="12.98" height="55.10" fill="#f0ede1"/><rect x="775.53" y="1177.20" width="16.14" height="55.10" fill="#cfcce7"/><rect x="791.32" y="1177.20" width="19.30" height="55.10" fill="#bab5e6"/><rect x="810.26" y="1177.20" width="16.14" height="55.10" fill="#b0aae6"/><rect x="826.05" y="1177.20" width="6.67" height="55.10" fill="#a69ee7"/><rect x="832.37" y="1177.20" width="8.24" height="55.10" fill="#bab5e6"/><rect x="840.26" y="1177.20" width="23.24" height="55.10" fill="#a69ee7"/>
<rect x="110.80" y="1232.30" width="5.22" height="55.10" fill="#e75c4a"/><rect x="115.67" y="1232.30" width="4.40" height="55.10" fill="#f3c8b2"/><rect x="119.73" y="1232.30" width="8.46" height="55.10" fill="#ea7462"/><rect x="127.83" y="1232.30" width="5.21" height="55.10" fill="#f3c8b2"/><rect x="132.70" y="1232.30" width="3.59" height="55.10" fill="#e75c4a"/><rect x="135.94" y="1232.30" width="6.83" height="55.10" fill="#f0ede1"/><rect x="142.42" y="1232.30" width="25.48" height="55.10" fill="#c5c1e7"/><rect x="167.55" y="1232.30" width="2.78" height="55.10" fill="#f0ede1"/><rect x="169.98" y="1232.30" width="5.21" height="55.10" fill="#c5c1e7"/><rect x="174.85" y="1232.30" width="6.02" height="55.10" fill="#f3c8b2"/><rect x="180.52" y="1232.30" width="19.80" height="55.10" fill="#cfcce7"/><rect x="199.97" y="1232.30" width="31.96" height="55.10" fill="#e4e3e8"/><rect x="231.59" y="1232.30" width="14.13" height="55.10" fill="#bab5e6"/><rect x="245.37" y="1232.30" width="4.40" height="55.10" fill="#a69ee7"/><rect x="249.42" y="1232.30" width="78.35" height="55.10" fill="#dad8e8"/><rect x="327.42" y="1232.30" width="73.30" height="55.10" fill="#c5c1e7"/><rect x="400.38" y="1232.30" width="11.70" height="55.10" fill="#f0ede1"/><rect x="411.72" y="1232.30" width="23.05" height="55.10" fill="#cfcce7"/><rect x="434.42" y="1232.30" width="13.32" height="55.10" fill="#bab5e6"/><rect x="447.39" y="1232.30" width="6.02" height="55.10" fill="#a69ee7"/><rect x="453.06" y="1232.30" width="11.70" height="55.10" fill="#cfcce7"/><rect x="464.41" y="1232.30" width="2.78" height="55.10" fill="#f5e4cf"/><rect x="466.84" y="1232.30" width="11.70" height="55.10" fill="#cfcce7"/><rect x="478.19" y="1232.30" width="4.66" height="55.10" fill="#bab5e6"/><rect x="482.50" y="1232.30" width="1.09" height="55.10" fill="#cfcce7"/><rect x="483.24" y="1232.30" width="14.94" height="55.10" fill="#a69ee7"/><rect x="497.83" y="1232.30" width="10.89" height="55.10" fill="#cfcce7"/><rect x="508.37" y="1232.30" width="2.78" height="55.10" fill="#f3c8b2"/><rect x="510.80" y="1232.30" width="9.27" height="55.10" fill="#cfcce7"/><rect x="519.72" y="1232.30" width="4.40" height="55.10" fill="#f5e4cf"/><rect x="523.77" y="1232.30" width="3.59" height="55.10" fill="#cfcce7"/><rect x="527.01" y="1232.30" width="13.32" height="55.10" fill="#b0aae6"/><rect x="539.98" y="1232.30" width="6.83" height="55.10" fill="#a69ee7"/><rect x="546.47" y="1232.30" width="22.24" height="55.10" fill="#c5c1e7"/><rect x="568.35" y="1232.30" width="15.75" height="55.10" fill="#cfcce7"/><rect x="583.75" y="1232.30" width="13.32" height="55.10" fill="#bab5e6"/><rect x="596.72" y="1232.30" width="3.59" height="55.10" fill="#9186e8"/><rect x="599.97" y="1232.30" width="8.46" height="55.10" fill="#f5e4cf"/><rect x="608.07" y="1232.30" width="5.21" height="55.10" fill="#bab5e6"/><rect x="612.94" y="1232.30" width="10.08" height="55.10" fill="#a69ee7"/><rect x="622.66" y="1232.30" width="19.80" height="55.10" fill="#dad8e8"/><rect x="642.12" y="1232.30" width="8.46" height="55.10" fill="#a69ee7"/><rect x="650.22" y="1232.30" width="18.37" height="55.10" fill="#cfcce7"/><rect x="668.24" y="1232.30" width="8.45" height="55.10" fill="#a69ee7"/><rect x="676.34" y="1232.30" width="13.31" height="55.10" fill="#c5c1e7"/><rect x="689.31" y="1232.30" width="6.02" height="55.10" fill="#f0ede1"/><rect x="694.98" y="1232.30" width="8.45" height="55.10" fill="#cfcce7"/><rect x="703.08" y="1232.30" width="35.19" height="55.10" fill="#b0aae6"/><rect x="737.92" y="1232.30" width="8.45" height="55.10" fill="#a69ee7"/><rect x="746.02" y="1232.30" width="18.17" height="55.10" fill="#cfcce7"/><rect x="763.84" y="1232.30" width="13.31" height="55.10" fill="#f3c8b2"/><rect x="776.81" y="1232.30" width="3.59" height="55.10" fill="#e75c4a"/><rect x="780.05" y="1232.30" width="14.93" height="55.10" fill="#f0ede1"/><rect x="794.63" y="1232.30" width="26.28" height="55.10" fill="#dad8e8"/><rect x="820.56" y="1232.30" width="6.83" height="55.10" fill="#f0ede1"/><rect x="827.04" y="1232.30" width="8.45" height="55.10" fill="#f3c8b2"/><rect x="835.14" y="1232.30" width="8.45" height="55.10" fill="#f0ede1"/><rect x="843.24" y="1232.30" width="8.45" height="55.10" fill="#cfcce7"/><rect x="851.34" y="1232.30" width="4.40" height="55.10" fill="#f0ede1"/><rect x="855.39" y="1232.30" width="8.11" height="55.10" fill="#a69ee7"/>
<rect x="110.80" y="1287.40" width="31.97" height="55.10" fill="#bab5e6"/><rect x="142.42" y="1287.40" width="2.78" height="55.10" fill="#a69ee7"/><rect x="144.85" y="1287.40" width="62.76" height="55.10" fill="#bab5e6"/><rect x="207.27" y="1287.40" width="6.02" height="55.10" fill="#f0ede1"/><rect x="212.94" y="1287.40" width="84.91" height="55.10" fill="#bab5e6"/><rect x="297.50" y="1287.40" width="103.23" height="55.10" fill="#c5c1e7"/><rect x="400.38" y="1287.40" width="32.77" height="55.10" fill="#cfcce7"/><rect x="432.80" y="1287.40" width="8.46" height="55.10" fill="#a69ee7"/><rect x="440.90" y="1287.40" width="5.21" height="55.10" fill="#f0ede1"/><rect x="445.77" y="1287.40" width="9.27" height="55.10" fill="#cfcce7"/><rect x="454.68" y="1287.40" width="3.59" height="55.10" fill="#f0ede1"/><rect x="457.93" y="1287.40" width="10.08" height="55.10" fill="#bab5e6"/><rect x="467.65" y="1287.40" width="3.59" height="55.10" fill="#a69ee7"/><rect x="470.90" y="1287.40" width="11.95" height="55.10" fill="#cfcce7"/><rect x="482.50" y="1287.40" width="5.96" height="55.10" fill="#bab5e6"/><rect x="488.11" y="1287.40" width="10.08" height="55.10" fill="#cfcce7"/><rect x="497.83" y="1287.40" width="6.02" height="55.10" fill="#a69ee7"/><rect x="503.51" y="1287.40" width="4.40" height="55.10" fill="#f0ede1"/><rect x="507.56" y="1287.40" width="18.18" height="55.10" fill="#e4e3e8"/><rect x="525.39" y="1287.40" width="16.56" height="55.10" fill="#c5c1e7"/><rect x="541.60" y="1287.40" width="11.70" height="55.10" fill="#cfcce7"/><rect x="552.95" y="1287.40" width="25.48" height="55.10" fill="#c5c1e7"/><rect x="578.08" y="1287.40" width="10.08" height="55.10" fill="#a69ee7"/><rect x="587.81" y="1287.40" width="22.24" height="55.10" fill="#e4e3e8"/><rect x="609.69" y="1287.40" width="3.59" height="55.10" fill="#f0ede1"/><rect x="612.94" y="1287.40" width="14.94" height="55.10" fill="#cfcce7"/><rect x="627.53" y="1287.40" width="22.24" height="55.10" fill="#a69ee7"/><rect x="649.41" y="1287.40" width="18.44" height="55.10" fill="#e4e3e8"/><rect x="667.50" y="1287.40" width="20.54" height="55.10" fill="#dad8e8"/><rect x="687.69" y="1287.40" width="10.07" height="55.10" fill="#cfcce7"/><rect x="697.41" y="1287.40" width="8.45" height="55.10" fill="#a69ee7"/><rect x="705.51" y="1287.40" width="14.93" height="55.10" fill="#cfcce7"/><rect x="720.09" y="1287.40" width="27.90" height="55.10" fill="#b0aae6"/><rect x="747.64" y="1287.40" width="40.86" height="55.10" fill="#a69ee7"/><rect x="788.15" y="1287.40" width="16.55" height="55.10" fill="#bab5e6"/><rect x="804.35" y="1287.40" width="26.28" height="55.10" fill="#b0aae6"/><rect x="830.28" y="1287.40" width="8.45" height="55.10" fill="#cfcce7"/><rect x="838.38" y="1287.40" width="25.12" height="55.10" fill="#a69ee7"/>
<rect x="110.80" y="1342.50" width="14.14" height="55.10" fill="#bab5e6"/><rect x="124.59" y="1342.50" width="6.83" height="55.10" fill="#f0ede1"/><rect x="131.08" y="1342.50" width="11.70" height="55.10" fill="#bab5e6"/><rect x="142.42" y="1342.50" width="18.18" height="55.10" fill="#a69ee7"/><rect x="160.26" y="1342.50" width="5.21" height="55.10" fill="#f0ede1"/><rect x="165.12" y="1342.50" width="20.61" height="55.10" fill="#bab5e6"/><rect x="185.38" y="1342.50" width="15.75" height="55.10" fill="#a69ee7"/><rect x="200.78" y="1342.50" width="4.40" height="55.10" fill="#e4e3e8"/><rect x="204.84" y="1342.50" width="40.07" height="55.10" fill="#a69ee7"/><rect x="244.56" y="1342.50" width="8.46" height="55.10" fill="#9186e8"/><rect x="252.66" y="1342.50" width="15.75" height="55.10" fill="#e4e3e8"/><rect x="268.06" y="1342.50" width="132.66" height="55.10" fill="#b0aae6"/><rect x="400.38" y="1342.50" width="10.08" height="55.10" fill="#bab5e6"/><rect x="410.10" y="1342.50" width="23.05" height="55.10" fill="#b0aae6"/><rect x="432.80" y="1342.50" width="24.67" height="55.10" fill="#c5c1e7"/><rect x="457.12" y="1342.50" width="18.99" height="55.10" fill="#a69ee7"/><rect x="475.76" y="1342.50" width="7.09" height="55.10" fill="#bab5e6"/><rect x="482.50" y="1342.50" width="12.44" height="55.10" fill="#a69ee7"/><rect x="494.59" y="1342.50" width="13.32" height="55.10" fill="#c5c1e7"/><rect x="507.56" y="1342.50" width="11.70" height="55.10" fill="#a69ee7"/><rect x="518.91" y="1342.50" width="13.32" height="55.10" fill="#cfcce7"/><rect x="531.88" y="1342.50" width="8.46" height="55.10" fill="#a69ee7"/><rect x="539.98" y="1342.50" width="28.72" height="55.10" fill="#9b92e8"/><rect x="568.35" y="1342.50" width="19.80" height="55.10" fill="#bab5e6"/><rect x="587.81" y="1342.50" width="18.99" height="55.10" fill="#a69ee7"/><rect x="606.45" y="1342.50" width="16.56" height="55.10" fill="#c5c1e7"/><rect x="622.66" y="1342.50" width="23.05" height="55.10" fill="#a69ee7"/><rect x="645.36" y="1342.50" width="109.11" height="55.10" fill="#bab5e6"/><rect x="754.12" y="1342.50" width="10.07" height="55.10" fill="#e4e3e8"/><rect x="763.84" y="1342.50" width="27.90" height="55.10" fill="#eae8e5"/><rect x="791.39" y="1342.50" width="11.69" height="55.10" fill="#a69ee7"/><rect x="802.73" y="1342.50" width="16.55" height="55.10" fill="#e4e3e8"/><rect x="818.94" y="1342.50" width="11.69" height="55.10" fill="#a69ee7"/><rect x="830.28" y="1342.50" width="8.45" height="55.10" fill="#bab5e6"/><rect x="838.38" y="1342.50" width="25.12" height="55.10" fill="#cfcce7"/>
<rect x="110.80" y="1397.60" width="6.03" height="55.10" fill="#f0ede1"/><rect x="116.48" y="1397.60" width="8.46" height="55.10" fill="#cfcce7"/><rect x="124.59" y="1397.60" width="6.83" height="55.10" fill="#7c6eea"/><rect x="131.08" y="1397.60" width="9.27" height="55.10" fill="#9186e8"/><rect x="139.99" y="1397.60" width="23.86" height="55.10" fill="#cfcce7"/><rect x="163.50" y="1397.60" width="8.46" height="55.10" fill="#9186e8"/><rect x="171.60" y="1397.60" width="29.53" height="55.10" fill="#cfcce7"/><rect x="200.78" y="1397.60" width="42.50" height="55.10" fill="#dad8e8"/><rect x="242.94" y="1397.60" width="6.83" height="55.10" fill="#f0ede1"/><rect x="249.42" y="1397.60" width="3.59" height="55.10" fill="#a69ee7"/><rect x="252.66" y="1397.60" width="45.19" height="55.10" fill="#dad8e8"/><rect x="297.50" y="1397.60" width="103.23" height="55.10" fill="#cfcce7"/><rect x="400.38" y="1397.60" width="11.70" height="55.10" fill="#e4e3e8"/><rect x="411.72" y="1397.60" width="21.43" height="55.10" fill="#cfcce7"/><rect x="432.80" y="1397.60" width="5.21" height="55.10" fill="#f0ede1"/><rect x="437.66" y="1397.60" width="6.02" height="55.10" fill="#cfcce7"/><rect x="443.34" y="1397.60" width="11.70" height="55.10" fill="#9186e8"/><rect x="454.68" y="1397.60" width="3.59" height="55.10" fill="#7c6eea"/><rect x="457.93" y="1397.60" width="6.83" height="55.10" fill="#bab5e6"/><rect x="464.41" y="1397.60" width="33.77" height="55.10" fill="#7c6eea"/><rect x="497.83" y="1397.60" width="32.77" height="55.10" fill="#9b92e8"/><rect x="530.26" y="1397.60" width="8.46" height="55.10" fill="#cfcce7"/><rect x="538.36" y="1397.60" width="3.59" height="55.10" fill="#7c6eea"/><rect x="541.60" y="1397.60" width="40.07" height="55.10" fill="#dad8e8"/><rect x="581.32" y="1397.60" width="17.37" height="55.10" fill="#867ae9"/><rect x="598.34" y="1397.60" width="5.21" height="55.10" fill="#cfcce7"/><rect x="603.21" y="1397.60" width="23.05" height="55.10" fill="#9186e8"/><rect x="625.90" y="1397.60" width="41.95" height="55.10" fill="#7c6eea"/><rect x="667.50" y="1397.60" width="27.02" height="55.10" fill="#9186e8"/><rect x="694.17" y="1397.60" width="29.52" height="55.10" fill="#7c6eea"/><rect x="723.33" y="1397.60" width="11.69" height="55.10" fill="#bab5e6"/><rect x="734.68" y="1397.60" width="29.52" height="55.10" fill="#9186e8"/><rect x="763.84" y="1397.60" width="8.45" height="55.10" fill="#f3c8b2"/><rect x="771.94" y="1397.60" width="13.31" height="55.10" fill="#e4e3e8"/><rect x="784.91" y="1397.60" width="21.41" height="55.10" fill="#f5e4cf"/><rect x="805.97" y="1397.60" width="10.07" height="55.10" fill="#e4e3e8"/><rect x="815.69" y="1397.60" width="2.78" height="55.10" fill="#e75c4a"/><rect x="818.12" y="1397.60" width="10.88" height="55.10" fill="#f0ede1"/><rect x="828.66" y="1397.60" width="6.83" height="55.10" fill="#e4e3e8"/><rect x="835.14" y="1397.60" width="10.07" height="55.10" fill="#f5e4cf"/><rect x="844.86" y="1397.60" width="5.21" height="55.10" fill="#e4e3e8"/><rect x="849.72" y="1397.60" width="13.78" height="55.10" fill="#a69ee7"/>
<rect x="110.80" y="1452.70" width="4.41" height="55.10" fill="#e4e3e8"/><rect x="114.86" y="1452.70" width="5.21" height="55.10" fill="#f5e4cf"/><rect x="119.73" y="1452.70" width="6.02" height="55.10" fill="#f3c8b2"/><rect x="125.40" y="1452.70" width="5.21" height="55.10" fill="#e4e3e8"/><rect x="130.26" y="1452.70" width="2.78" height="55.10" fill="#f0aa96"/><rect x="132.70" y="1452.70" width="3.59" height="55.10" fill="#cfcce7"/><rect x="135.94" y="1452.70" width="4.40" height="55.10" fill="#f5e4cf"/><rect x="139.99" y="1452.70" width="6.02" height="55.10" fill="#e4e3e8"/><rect x="145.67" y="1452.70" width="6.02" height="55.10" fill="#bab5e6"/><rect x="151.34" y="1452.70" width="9.27" height="55.10" fill="#f0ede1"/><rect x="160.26" y="1452.70" width="12.51" height="55.10" fill="#9186e8"/><rect x="172.41" y="1452.70" width="8.46" height="55.10" fill="#cfcce7"/><rect x="180.52" y="1452.70" width="6.02" height="55.10" fill="#f3c8b2"/><rect x="186.19" y="1452.70" width="6.83" height="55.10" fill="#bab5e6"/><rect x="192.68" y="1452.70" width="31.15" height="55.10" fill="#e4e3e8"/><rect x="223.48" y="1452.70" width="29.53" height="55.10" fill="#f0ede1"/><rect x="252.66" y="1452.70" width="19.80" height="55.10" fill="#cfcce7"/><rect x="272.12" y="1452.70" width="25.73" height="55.10" fill="#bab5e6"/><rect x="297.50" y="1452.70" width="38.38" height="55.10" fill="#c5c1e7"/><rect x="335.53" y="1452.70" width="65.20" height="55.10" fill="#bab5e6"/><rect x="400.38" y="1452.70" width="14.94" height="55.10" fill="#e4e3e8"/><rect x="414.97" y="1452.70" width="19.80" height="55.10" fill="#cfcce7"/><rect x="434.42" y="1452.70" width="18.99" height="55.10" fill="#f0ede1"/><rect x="453.06" y="1452.70" width="1.97" height="55.10" fill="#f0aa96"/><rect x="454.68" y="1452.70" width="10.08" height="55.10" fill="#f0ede1"/><rect x="464.41" y="1452.70" width="10.89" height="55.10" fill="#f5e4cf"/><rect x="474.95" y="1452.70" width="7.90" height="55.10" fill="#f3c8b2"/><rect x="482.50" y="1452.70" width="25.41" height="55.10" fill="#f5e4cf"/><rect x="507.56" y="1452.70" width="23.05" height="55.10" fill="#9b92e8"/><rect x="530.26" y="1452.70" width="23.05" height="55.10" fill="#9186e8"/><rect x="552.95" y="1452.70" width="89.51" height="55.10" fill="#867ae9"/><rect x="642.12" y="1452.70" width="49.16" height="55.10" fill="#9186e8"/><rect x="690.93" y="1452.70" width="16.55" height="55.10" fill="#cfcce7"/><rect x="707.13" y="1452.70" width="8.45" height="55.10" fill="#a69ee7"/><rect x="715.23" y="1452.70" width="8.45" height="55.10" fill="#bab5e6"/><rect x="723.33" y="1452.70" width="53.82" height="55.10" fill="#867ae9"/><rect x="776.81" y="1452.70" width="8.45" height="55.10" fill="#bab5e6"/><rect x="784.91" y="1452.70" width="13.31" height="55.10" fill="#7c6eea"/><rect x="797.87" y="1452.70" width="40.86" height="55.10" fill="#9186e8"/><rect x="838.38" y="1452.70" width="3.59" height="55.10" fill="#e4e3e8"/><rect x="841.62" y="1452.70" width="21.88" height="55.10" fill="#9186e8"/>
<rect x="110.80" y="1507.80" width="1.98" height="55.10" fill="#e75c4a"/><rect x="112.43" y="1507.80" width="6.83" height="55.10" fill="#f5e4cf"/><rect x="118.92" y="1507.80" width="15.75" height="55.10" fill="#e4e3e8"/><rect x="134.32" y="1507.80" width="3.59" height="55.10" fill="#e53c25"/><rect x="137.56" y="1507.80" width="23.86" height="55.10" fill="#e64c39"/><rect x="161.07" y="1507.80" width="2.78" height="55.10" fill="#e53c25"/><rect x="163.50" y="1507.80" width="8.46" height="55.10" fill="#e5442f"/><rect x="171.60" y="1507.80" width="10.08" height="55.10" fill="#cfcce7"/><rect x="181.33" y="1507.80" width="4.40" height="55.10" fill="#f0ede1"/><rect x="185.38" y="1507.80" width="15.75" height="55.10" fill="#cfcce7"/><rect x="200.78" y="1507.80" width="199.94" height="55.10" fill="#a69ee7"/><rect x="400.38" y="1507.80" width="34.39" height="55.10" fill="#9186e8"/><rect x="434.42" y="1507.80" width="6.83" height="55.10" fill="#bab5e6"/><rect x="440.90" y="1507.80" width="10.08" height="55.10" fill="#9186e8"/><rect x="450.63" y="1507.80" width="16.56" height="55.10" fill="#b0aae6"/><rect x="466.84" y="1507.80" width="31.34" height="55.10" fill="#9186e8"/><rect x="497.83" y="1507.80" width="5.21" height="55.10" fill="#f0ede1"/><rect x="502.70" y="1507.80" width="5.21" height="55.10" fill="#bab5e6"/><rect x="507.56" y="1507.80" width="4.40" height="55.10" fill="#f3c8b2"/><rect x="511.61" y="1507.80" width="7.65" height="55.10" fill="#bab5e6"/><rect x="518.91" y="1507.80" width="10.08" height="55.10" fill="#e4e3e8"/><rect x="528.63" y="1507.80" width="14.94" height="55.10" fill="#f5e4cf"/><rect x="543.23" y="1507.80" width="14.94" height="55.10" fill="#cfcce7"/><rect x="557.82" y="1507.80" width="40.88" height="55.10" fill="#9186e8"/><rect x="598.34" y="1507.80" width="5.21" height="55.10" fill="#cfcce7"/><rect x="603.21" y="1507.80" width="64.64" height="55.10" fill="#9b92e8"/><rect x="667.50" y="1507.80" width="10.00" height="55.10" fill="#9186e8"/><rect x="677.15" y="1507.80" width="17.36" height="55.10" fill="#b0aae6"/><rect x="694.17" y="1507.80" width="14.93" height="55.10" fill="#9186e8"/><rect x="708.75" y="1507.80" width="29.52" height="55.10" fill="#a69ee7"/><rect x="737.92" y="1507.80" width="31.14" height="55.10" fill="#9b92e8"/><rect x="768.70" y="1507.80" width="13.31" height="55.10" fill="#e4e3e8"/><rect x="781.67" y="1507.80" width="45.72" height="55.10" fill="#9b92e8"/><rect x="827.04" y="1507.80" width="36.46" height="55.10" fill="#b0aae6"/>
<rect x="110.80" y="1562.90" width="10.90" height="55.10" fill="#e4e3e8"/><rect x="121.35" y="1562.90" width="39.26" height="55.10" fill="#9186e8"/><rect x="160.26" y="1562.90" width="5.21" height="55.10" fill="#f0ede1"/><rect x="165.12" y="1562.90" width="16.56" height="55.10" fill="#bab5e6"/><rect x="181.33" y="1562.90" width="71.68" height="55.10" fill="#867ae9"/><rect x="252.66" y="1562.90" width="3.59" height="55.10" fill="#e4e3e8"/><rect x="255.90" y="1562.90" width="65.38" height="55.10" fill="#9186e8"/><rect x="320.94" y="1562.90" width="1.97" height="55.10" fill="#bab5e6"/><rect x="322.56" y="1562.90" width="83.03" height="55.10" fill="#867ae9"/><rect x="405.24" y="1562.90" width="2.78" height="55.10" fill="#bab5e6"/><rect x="407.67" y="1562.90" width="44.93" height="55.10" fill="#9186e8"/><rect x="452.25" y="1562.90" width="30.60" height="55.10" fill="#9b92e8"/><rect x="482.50" y="1562.90" width="15.68" height="55.10" fill="#9186e8"/><rect x="497.83" y="1562.90" width="22.24" height="55.10" fill="#a69ee7"/><rect x="519.72" y="1562.90" width="11.70" height="55.10" fill="#e4e3e8"/><rect x="531.07" y="1562.90" width="51.42" height="55.10" fill="#9b92e8"/><rect x="582.13" y="1562.90" width="1.97" height="55.10" fill="#e4e3e8"/><rect x="583.75" y="1562.90" width="109.14" height="55.10" fill="#9b92e8"/><rect x="692.55" y="1562.90" width="29.52" height="55.10" fill="#9186e8"/><rect x="721.71" y="1562.90" width="40.86" height="55.10" fill="#9b92e8"/><rect x="762.22" y="1562.90" width="37.62" height="55.10" fill="#9186e8"/><rect x="799.49" y="1562.90" width="27.90" height="55.10" fill="#9b92e8"/><rect x="827.04" y="1562.90" width="36.46" height="55.10" fill="#a69ee7"/>
<text x="871.30" y="943.00" font-size="29.85" fill="#000">Group</text>
<text x="871.30" y="996.35" font-size="29.85" fill="#000">Anaerostipes</text>
<text x="871.30" y="1051.45" font-size="29.85" fill="#000">Ruminococcus</text>
<text x="871.30" y="1106.55" font-size="29.85" fill="#000">Clostridium_XIVb</text>
<text x="871.30" y="1161.65" font-size="29.85" fill="#000">Pseudoflavonifractor</text>
<text x="871.30" y="1216.75" font-size="29.85" fill="#000">Acetanaerobacterium</text>
<text x="871.30" y="1271.85" font-size="29.85" fill="#000">Porphyromonas</text>
<text x="871.30" y="1326.95" font-size="29.85" fill="#000">Holdemania</text>
<text x="871.30" y="1382.05" font-size="29.85" fill="#000">Gemella</text>
<text x="871.30" y="1437.15" font-size="29.85" fill="#000">Acinetobacter</text>
<text x="871.30" y="1492.25" font-size="29.85" fill="#000">Desulfovibrio</text>
<text x="871.30" y="1547.35" font-size="29.85" fill="#000">Fusobacterium</text>
<text x="871.30" y="1602.45" font-size="29.85" fill="#000">Peptostreptococcus</text>
<path d="M107.4 984.3H86.6V1039.5H107.4M107.4 1149.6H91.6V1204.8H107.4M91.6 1177.2H86.4V1259.8H107.4M107.4 1094.5H81.7V1218.5H86.4M86.6 1011.9H62.0V1156.5H81.7M107.4 1315.0H90.6V1370.0H107.4M90.6 1342.5H82.7V1425.2H107.4M82.7 1383.8H78.4V1480.2H107.4M107.4 1535.3H82.0V1590.4H107.4M78.4 1432.0H75.5V1562.9H82.0M62.0 1084.2H37.0V1497.5H75.5" stroke="#3a3a3a" stroke-width="1.60" fill="none" stroke-linecap="square"/>
<path d="M150.5 840.8L666.1 840.8M150.5 840.8L150.5 848.5M666.1 840.8L666.1 847.0M135.4 848.5L165.9 848.5M135.4 848.5L135.4 858.5M165.9 848.5L165.9 870.5M126.7 858.5L144.3 858.5M126.7 858.5L126.7 867.0M144.3 858.5L144.3 876.8M118.5 867.0L134.3 867.0M118.5 867.0L118.5 870.2M134.3 867.0L134.3 890.7M113.4 870.2L123.3 870.2M113.4 870.2L113.4 885.0M123.3 870.2L123.3 885.0M138.4 876.8L151.2 876.8M138.4 876.8L138.4 888.0M151.2 876.8L151.2 887.0M145.3 887.0L155.6 887.0M145.3 887.0L145.3 895.0M155.6 887.0L155.6 895.0M162.9 870.5L168.8 870.5M162.9 870.5L162.9 880.0M168.8 870.5L168.8 880.0M512.1 847.0L819.4 847.0M512.1 847.0L512.1 853.8M819.4 847.0L819.4 847.5M432.1 853.8L594.2 853.8M432.1 853.8L432.1 854.1M594.2 853.8L594.2 864.0M432.1 854.1L432.1 860.7M356.6 860.7L507.3 860.7M356.6 860.7L356.6 870.2M507.3 860.7L507.3 869.5M245.8 870.2L465.8 870.2M245.8 870.2L245.8 877.5M465.8 870.2L465.8 873.4M453.4 873.4L479.0 873.4M453.4 873.4L453.4 883.4M479.0 873.4L479.0 879.0M182.7 877.5L309.7 877.5M182.7 877.5L182.7 878.7M309.7 877.5L309.7 885.0M175.4 878.7L190.0 878.7M175.4 878.7L175.4 890.0M190.0 878.7L190.0 888.0M237.7 880.7L382.2 880.7M237.7 880.7L237.7 887.1M382.2 880.7L382.2 885.6M326.5 885.6L438.0 885.6M326.5 885.6L326.5 894.0M438.0 885.6L438.0 893.7M258.2 886.3L396.2 886.3M258.2 886.3L258.2 893.0M396.2 886.3L396.2 894.0M358.0 889.3L432.8 889.3M358.0 889.3L358.0 896.0M432.8 889.3L432.8 895.0M300.9 890.7L416.7 890.7M300.9 890.7L300.9 897.0M416.7 890.7L416.7 895.1M225.2 887.1L249.4 887.1M225.2 887.1L225.2 892.5M249.4 887.1L249.4 893.0M213.5 892.5L235.5 892.5M213.5 892.5L213.5 898.0M235.5 892.5L235.5 897.0M275.0 893.0L300.0 893.0M275.0 893.0L275.0 898.0M300.0 893.0L300.0 898.0M183.4 887.0L197.4 887.0M183.4 887.0L183.4 895.0M197.4 887.0L197.4 895.0M503.3 869.5L511.7 869.5M503.3 869.5L503.3 885.0M511.7 869.5L511.7 880.0M531.6 864.0L655.8 864.0M531.6 864.0L531.6 871.7M655.8 864.0L655.8 869.5M525.3 871.7L537.1 871.7M525.3 871.7L525.3 885.0M537.1 871.7L537.1 880.0M588.4 869.5L723.0 869.5M588.4 869.5L588.4 872.4M723.0 869.5L723.0 877.5M561.2 872.4L633.8 872.4M561.2 872.4L561.2 882.7M633.8 872.4L633.8 885.6M545.1 882.7L573.0 882.7M545.1 882.7L545.1 890.0M573.0 882.7L573.0 888.0M618.4 885.6L647.0 885.6M618.4 885.6L618.4 890.0M647.0 885.6L647.0 889.0M585.4 877.5L607.4 877.5M585.4 877.5L585.4 888.0M607.4 877.5L607.4 886.0M691.9 877.5L754.9 877.5M691.9 877.5L691.9 885.0M754.9 877.5L754.9 882.2M697.0 882.2L725.6 882.2M697.0 882.2L697.0 890.0M725.6 882.2L725.6 887.0M714.6 887.0L736.6 887.0M714.6 887.0L714.6 893.0M736.6 887.0L736.6 892.0M798.2 858.5L840.0 858.5M798.2 858.5L798.2 866.1M840.0 858.5L840.0 869.0M782.0 866.1L814.3 866.1M782.0 866.1L782.0 877.5M814.3 866.1L814.3 878.7M765.9 877.5L793.8 877.5M765.9 877.5L765.9 900.0M793.8 877.5L793.8 889.3M808.4 878.7L820.9 878.7M808.4 878.7L808.4 888.0M820.9 878.7L820.9 887.0M830.4 869.0L852.4 869.0M830.4 869.0L830.4 872.4M852.4 869.0L852.4 872.4M826.0 872.4L836.0 872.4M826.0 872.4L826.0 885.0M836.0 872.4L836.0 883.0M845.0 872.4L858.0 872.4M845.0 872.4L845.0 882.0M858.0 872.4L858.0 886.0M661.0 887.0L690.0 887.0M661.0 887.0L661.0 893.0M690.0 887.0L690.0 892.0" stroke="#2e2e2e" stroke-width="1.50" fill="none" stroke-linecap="square"/>
<path d="M111.9 877.4L111.9 911.2M113.8 892.4L113.8 911.2M115.7 901.5L115.7 911.2M117.6 902.0L117.6 911.2M115.7 898.7L117.6 898.7M115.7 898.7L115.7 901.5M117.6 898.7L117.6 902.0M119.5 891.8L119.5 911.2M116.6 890.1L119.5 890.1M116.6 890.1L116.6 898.7M119.5 890.1L119.5 891.8M113.8 889.1L118.0 889.1M113.8 889.1L113.8 892.4M118.0 889.1L118.0 890.1M121.3 884.1L121.3 911.2M115.9 881.7L121.3 881.7M115.9 881.7L115.9 889.1M121.3 881.7L121.3 884.1M111.9 876.4L118.6 876.4M111.9 876.4L111.9 877.4M118.6 876.4L118.6 881.7M115.3 873.3L115.3 876.4M123.2 896.9L123.2 911.2M125.1 899.8L125.1 911.2M123.2 890.9L125.1 890.9M123.2 890.9L123.2 896.9M125.1 890.9L125.1 899.8M127.0 904.1L127.0 911.2M128.9 901.3L128.9 911.2M127.0 899.7L128.9 899.7M127.0 899.7L127.0 904.1M128.9 899.7L128.9 901.3M130.7 897.4L130.7 911.2M127.9 894.5L130.7 894.5M127.9 894.5L127.9 899.7M130.7 894.5L130.7 897.4M132.6 901.3L132.6 911.2M134.5 900.5L134.5 911.2M132.6 897.3L134.5 897.3M132.6 897.3L132.6 901.3M134.5 897.3L134.5 900.5M129.3 888.3L133.6 888.3M129.3 888.3L129.3 894.5M133.6 888.3L133.6 897.3M124.2 879.6L131.4 879.6M124.2 879.6L124.2 890.9M131.4 879.6L131.4 888.3M127.8 876.9L127.8 879.6M136.4 893.4L136.4 911.2M138.3 889.4L138.3 911.2M140.1 891.7L140.1 911.2M138.3 888.3L140.1 888.3M138.3 888.3L138.3 889.4M140.1 888.3L140.1 891.7M136.4 886.6L139.2 886.6M136.4 886.6L136.4 893.4M139.2 886.6L139.2 888.3M142.0 892.7L142.0 911.2M137.8 881.8L142.0 881.8M137.8 881.8L137.8 886.6M142.0 881.8L142.0 892.7M139.9 879.3L139.9 881.8M143.9 898.2L143.9 911.2M145.8 894.4L145.8 911.2M143.9 892.7L145.8 892.7M143.9 892.7L143.9 898.2M145.8 892.7L145.8 894.4M147.7 889.7L147.7 911.2M144.8 886.2L147.7 886.2M144.8 886.2L144.8 892.7M147.7 886.2L147.7 889.7M149.5 901.4L149.5 911.2M151.4 896.0L151.4 911.2M149.5 894.0L151.4 894.0M149.5 894.0L149.5 901.4M151.4 894.0L151.4 896.0M153.3 897.6L153.3 911.2M155.2 899.7L155.2 911.2M153.3 896.5L155.2 896.5M153.3 896.5L153.3 897.6M155.2 896.5L155.2 899.7M150.5 891.2L154.2 891.2M150.5 891.2L150.5 894.0M154.2 891.2L154.2 896.5M146.2 877.7L152.4 877.7M146.2 877.7L146.2 886.2M152.4 877.7L152.4 891.2M149.3 877.1L149.3 877.7M157.1 898.8L157.1 911.2M158.9 895.7L158.9 911.2M157.1 892.2L158.9 892.2M157.1 892.2L157.1 898.8M158.9 892.2L158.9 895.7M160.8 901.4L160.8 911.2M162.7 900.0L162.7 911.2M160.8 898.2L162.7 898.2M160.8 898.2L160.8 901.4M162.7 898.2L162.7 900.0M164.6 895.1L164.6 911.2M161.8 894.0L164.6 894.0M161.8 894.0L161.8 898.2M164.6 894.0L164.6 895.1M158.0 881.1L163.2 881.1M158.0 881.1L158.0 892.2M163.2 881.1L163.2 894.0M160.6 877.4L160.6 881.1M166.5 886.9L166.5 911.2M168.3 895.8L168.3 911.2M170.2 895.0L170.2 911.2M168.3 891.4L170.2 891.4M168.3 891.4L168.3 895.8M170.2 891.4L170.2 895.0M172.1 900.9L172.1 911.2M174.0 904.8L174.0 911.2M172.1 899.8L174.0 899.8M172.1 899.8L172.1 900.9M174.0 899.8L174.0 904.8M175.9 900.4L175.9 911.2M173.0 893.0L175.9 893.0M173.0 893.0L173.0 899.8M175.9 893.0L175.9 900.4M169.3 888.2L174.4 888.2M169.3 888.2L169.3 891.4M174.4 888.2L174.4 893.0M166.5 878.3L171.9 878.3M166.5 878.3L166.5 886.9M171.9 878.3L171.9 888.2M169.2 874.7L169.2 878.3M177.7 906.3L177.7 911.2M179.6 905.5L179.6 911.2M177.7 902.4L179.6 902.4M177.7 902.4L177.7 906.3M179.6 902.4L179.6 905.5M181.5 904.4L181.5 911.2M178.7 901.2L181.5 901.2M178.7 901.2L178.7 902.4M181.5 901.2L181.5 904.4M183.4 898.1L183.4 911.2M180.1 897.1L183.4 897.1M180.1 897.1L180.1 901.2M183.4 897.1L183.4 898.1M185.3 899.7L185.3 911.2M181.7 893.3L185.3 893.3M181.7 893.3L181.7 897.1M185.3 893.3L185.3 899.7M183.5 891.3L183.5 893.3M187.1 898.6L187.1 911.2M189.0 902.5L189.0 911.2M190.9 906.6L190.9 911.2M192.8 907.1L192.8 911.2M190.9 903.7L192.8 903.7M190.9 903.7L190.9 906.6M192.8 903.7L192.8 907.1M189.0 900.8L191.8 900.8M189.0 900.8L189.0 902.5M191.8 900.8L191.8 903.7M187.1 895.7L190.4 895.7M187.1 895.7L187.1 898.6M190.4 895.7L190.4 900.8M188.8 894.3L188.8 895.7M194.7 900.5L194.7 911.2M196.5 901.8L196.5 911.2M194.7 898.8L196.5 898.8M194.7 898.8L194.7 900.5M196.5 898.8L196.5 901.8M198.4 906.8L198.4 911.2M200.3 906.3L200.3 911.2M198.4 904.9L200.3 904.9M198.4 904.9L198.4 906.8M200.3 904.9L200.3 906.3M202.2 906.8L202.2 911.2M204.1 906.5L204.1 911.2M202.2 905.6L204.1 905.6M202.2 905.6L202.2 906.8M204.1 905.6L204.1 906.5M199.4 902.7L203.1 902.7M199.4 902.7L199.4 904.9M203.1 902.7L203.1 905.6M205.9 899.5L205.9 911.2M201.2 896.2L205.9 896.2M201.2 896.2L201.2 902.7M205.9 896.2L205.9 899.5M195.6 892.3L203.6 892.3M195.6 892.3L195.6 898.8M203.6 892.3L203.6 896.2M199.6 888.6L199.6 892.3M207.8 906.5L207.8 911.2M209.7 907.9L209.7 911.2M207.8 905.6L209.7 905.6M207.8 905.6L207.8 906.5M209.7 905.6L209.7 907.9M211.6 903.3L211.6 911.2M208.8 901.3L211.6 901.3M208.8 901.3L208.8 905.6M211.6 901.3L211.6 903.3M213.5 908.0L213.5 911.2M215.3 907.5L215.3 911.2M213.5 906.2L215.3 906.2M213.5 906.2L213.5 908.0M215.3 906.2L215.3 907.5M217.2 906.5L217.2 911.2M214.4 903.3L217.2 903.3M214.4 903.3L214.4 906.2M217.2 903.3L217.2 906.5M210.2 898.5L215.8 898.5M210.2 898.5L210.2 901.3M215.8 898.5L215.8 903.3M219.1 904.0L219.1 911.2M221.0 899.7L221.0 911.2M219.1 898.2L221.0 898.2M219.1 898.2L219.1 904.0M221.0 898.2L221.0 899.7M213.0 894.7L220.0 894.7M213.0 894.7L213.0 898.5M220.0 894.7L220.0 898.2M216.5 892.9L216.5 894.7M222.9 904.7L222.9 911.2M224.7 908.2L224.7 911.2M226.6 909.6L226.6 911.2M228.5 909.7L228.5 911.2M226.6 908.8L228.5 908.8M226.6 908.8L226.6 909.6M228.5 908.8L228.5 909.7M230.4 909.3L230.4 911.2M227.6 907.9L230.4 907.9M227.6 907.9L227.6 908.8M230.4 907.9L230.4 909.3M224.7 906.4L229.0 906.4M224.7 906.4L224.7 908.2M229.0 906.4L229.0 907.9M222.9 903.2L226.9 903.2M222.9 903.2L222.9 904.7M226.9 903.2L226.9 906.4M232.3 909.0L232.3 911.2M234.1 909.1L234.1 911.2M232.3 907.7L234.1 907.7M232.3 907.7L232.3 909.0M234.1 907.7L234.1 909.1M236.0 907.3L236.0 911.2M233.2 906.0L236.0 906.0M233.2 906.0L233.2 907.7M236.0 906.0L236.0 907.3M237.9 903.7L237.9 911.2M234.6 902.6L237.9 902.6M234.6 902.6L234.6 906.0M237.9 902.6L237.9 903.7M224.9 899.9L236.3 899.9M224.9 899.9L224.9 903.2M236.3 899.9L236.3 902.6M230.6 897.3L230.6 899.9M239.8 904.9L239.8 911.2M241.7 901.2L241.7 911.2M239.8 899.9L241.7 899.9M239.8 899.9L239.8 904.9M241.7 899.9L241.7 901.2M240.7 897.0L240.7 899.9M243.5 904.0L243.5 911.2M245.4 904.8L245.4 911.2M247.3 905.6L247.3 911.2M245.4 903.9L247.3 903.9M245.4 903.9L245.4 904.8M247.3 903.9L247.3 905.6M243.5 900.8L246.4 900.8M243.5 900.8L243.5 904.0M246.4 900.8L246.4 903.9M249.2 905.7L249.2 911.2M251.1 906.9L251.1 911.2M252.9 906.3L252.9 911.2M251.1 903.5L252.9 903.5M251.1 903.5L251.1 906.9M252.9 903.5L252.9 906.3M249.2 902.0L252.0 902.0M249.2 902.0L249.2 905.7M252.0 902.0L252.0 903.5M244.9 896.8L250.6 896.8M244.9 896.8L244.9 900.8M250.6 896.8L250.6 902.0M247.8 895.5L247.8 896.8M254.8 906.0L254.8 911.2M256.7 909.0L256.7 911.2M258.6 908.3L258.6 911.2M256.7 907.4L258.6 907.4M256.7 907.4L256.7 909.0M258.6 907.4L258.6 908.3M254.8 904.4L257.6 904.4M254.8 904.4L254.8 906.0M257.6 904.4L257.6 907.4M260.5 906.6L260.5 911.2M262.3 906.3L262.3 911.2M260.5 905.1L262.3 905.1M260.5 905.1L260.5 906.6M262.3 905.1L262.3 906.3M256.2 902.1L261.4 902.1M256.2 902.1L256.2 904.4M261.4 902.1L261.4 905.1M264.2 904.1L264.2 911.2M266.1 905.5L266.1 911.2M268.0 907.0L268.0 911.2M266.1 904.7L268.0 904.7M266.1 904.7L266.1 905.5M268.0 904.7L268.0 907.0M264.2 902.6L267.0 902.6M264.2 902.6L264.2 904.1M267.0 902.6L267.0 904.7M258.8 898.0L265.6 898.0M258.8 898.0L258.8 902.1M265.6 898.0L265.6 902.6M262.2 895.8L262.2 898.0M269.9 903.9L269.9 911.2M271.7 902.9L271.7 911.2M269.9 900.3L271.7 900.3M269.9 900.3L269.9 903.9M271.7 900.3L271.7 902.9M273.6 905.3L273.6 911.2M275.5 905.2L275.5 911.2M273.6 903.4L275.5 903.4M273.6 903.4L273.6 905.3M275.5 903.4L275.5 905.2M270.8 897.5L274.6 897.5M270.8 897.5L270.8 900.3M274.6 897.5L274.6 903.4M272.7 895.3L272.7 897.5M277.4 902.5L277.4 911.2M279.3 899.0L279.3 911.2M277.4 897.2L279.3 897.2M277.4 897.2L277.4 902.5M279.3 897.2L279.3 899.0M278.3 895.2L278.3 897.2M281.1 905.6L281.1 911.2M283.0 907.7L283.0 911.2M284.9 908.9L284.9 911.2M286.8 908.7L286.8 911.2M284.9 907.1L286.8 907.1M284.9 907.1L284.9 908.9M286.8 907.1L286.8 908.7M283.0 905.6L285.8 905.6M283.0 905.6L283.0 907.7M285.8 905.6L285.8 907.1M281.1 903.8L284.4 903.8M281.1 903.8L281.1 905.6M284.4 903.8L284.4 905.6M288.7 901.1L288.7 911.2M282.8 898.0L288.7 898.0M282.8 898.0L282.8 903.8M288.7 898.0L288.7 901.1M285.7 895.0L285.7 898.0M290.5 904.7L290.5 911.2M292.4 903.3L292.4 911.2M290.5 902.1L292.4 902.1M290.5 902.1L290.5 904.7M292.4 902.1L292.4 903.3M294.3 902.1L294.3 911.2M296.2 906.4L296.2 911.2M298.1 905.7L298.1 911.2M296.2 904.4L298.1 904.4M296.2 904.4L296.2 906.4M298.1 904.4L298.1 905.7M299.9 904.2L299.9 911.2M297.1 903.3L299.9 903.3M297.1 903.3L297.1 904.4M299.9 903.3L299.9 904.2M294.3 899.4L298.5 899.4M294.3 899.4L294.3 902.1M298.5 899.4L298.5 903.3M291.5 898.3L296.4 898.3M291.5 898.3L291.5 902.1M296.4 898.3L296.4 899.4M293.9 896.6L293.9 898.3M301.8 905.5L301.8 911.2M303.7 904.8L303.7 911.2M301.8 902.1L303.7 902.1M301.8 902.1L301.8 905.5M303.7 902.1L303.7 904.8M305.6 903.9L305.6 911.2M302.8 899.9L305.6 899.9M302.8 899.9L302.8 902.1M305.6 899.9L305.6 903.9M307.5 903.7L307.5 911.2M309.3 907.7L309.3 911.2M311.2 906.8L311.2 911.2M309.3 905.8L311.2 905.8M309.3 905.8L309.3 907.7M311.2 905.8L311.2 906.8M307.5 902.7L310.3 902.7M307.5 902.7L307.5 903.7M310.3 902.7L310.3 905.8M304.2 896.6L308.9 896.6M304.2 896.6L304.2 899.9M308.9 896.6L308.9 902.7M306.5 892.9L306.5 896.6M313.1 901.8L313.1 911.2M315.0 908.9L315.0 911.2M316.9 908.7L316.9 911.2M315.0 907.2L316.9 907.2M315.0 907.2L315.0 908.9M316.9 907.2L316.9 908.7M318.7 906.4L318.7 911.2M315.9 904.0L318.7 904.0M315.9 904.0L315.9 907.2M318.7 904.0L318.7 906.4M320.6 904.7L320.6 911.2M317.3 903.1L320.6 903.1M317.3 903.1L317.3 904.0M320.6 903.1L320.6 904.7M313.1 897.0L319.0 897.0M313.1 897.0L313.1 901.8M319.0 897.0L319.0 903.1M322.5 897.0L322.5 911.2M316.0 895.7L322.5 895.7M316.0 895.7L316.0 897.0M322.5 895.7L322.5 897.0M319.3 892.8L319.3 895.7M324.4 899.8L324.4 911.2M326.3 903.0L326.3 911.2M328.1 907.6L328.1 911.2M330.0 907.3L330.0 911.2M328.1 905.5L330.0 905.5M328.1 905.5L328.1 907.6M330.0 905.5L330.0 907.3M326.3 901.3L329.1 901.3M326.3 901.3L326.3 903.0M329.1 901.3L329.1 905.5M324.4 896.1L327.7 896.1M324.4 896.1L324.4 899.8M327.7 896.1L327.7 901.3M326.0 893.6L326.0 896.1M331.9 900.3L331.9 911.2M333.8 899.7L333.8 911.2M331.9 898.8L333.8 898.8M331.9 898.8L331.9 900.3M333.8 898.8L333.8 899.7M332.8 896.1L332.8 898.8M335.7 902.9L335.7 911.2M337.5 906.2L337.5 911.2M339.4 906.2L339.4 911.2M337.5 905.1L339.4 905.1M337.5 905.1L337.5 906.2M339.4 905.1L339.4 906.2M335.7 901.4L338.5 901.4M335.7 901.4L335.7 902.9M338.5 901.4L338.5 905.1M341.3 897.4L341.3 911.2M337.1 896.4L341.3 896.4M337.1 896.4L337.1 901.4M341.3 896.4L341.3 897.4M343.2 907.2L343.2 911.2M345.1 907.2L345.1 911.2M343.2 905.5L345.1 905.5M343.2 905.5L343.2 907.2M345.1 905.5L345.1 907.2M346.9 903.6L346.9 911.2M344.1 902.2L346.9 902.2M344.1 902.2L344.1 905.5M346.9 902.2L346.9 903.6M348.8 899.3L348.8 911.2M345.5 898.0L348.8 898.0M345.5 898.0L345.5 902.2M348.8 898.0L348.8 899.3M339.2 895.1L347.2 895.1M339.2 895.1L339.2 896.4M347.2 895.1L347.2 898.0M343.2 892.5L343.2 895.1M350.7 904.7L350.7 911.2M352.6 906.7L352.6 911.2M354.5 907.2L354.5 911.2M352.6 905.5L354.5 905.5M352.6 905.5L352.6 906.7M354.5 905.5L354.5 907.2M350.7 903.6L353.5 903.6M350.7 903.6L350.7 904.7M353.5 903.6L353.5 905.5M356.3 904.9L356.3 911.2M358.2 902.4L358.2 911.2M356.3 901.3L358.2 901.3M356.3 901.3L356.3 904.9M358.2 901.3L358.2 902.4M352.1 900.0L357.3 900.0M352.1 900.0L352.1 903.6M357.3 900.0L357.3 901.3M354.7 898.7L354.7 900.0M360.1 907.5L360.1 911.2M362.0 908.3L362.0 911.2M363.9 908.6L363.9 911.2M362.0 907.5L363.9 907.5M362.0 907.5L362.0 908.3M363.9 907.5L363.9 908.6M360.1 905.3L362.9 905.3M360.1 905.3L360.1 907.5M362.9 905.3L362.9 907.5M365.7 903.7L365.7 911.2M361.5 901.8L365.7 901.8M361.5 901.8L361.5 905.3M365.7 901.8L365.7 903.7M367.6 904.2L367.6 911.2M369.5 904.2L369.5 911.2M371.4 906.4L371.4 911.2M369.5 903.0L371.4 903.0M369.5 903.0L369.5 904.2M371.4 903.0L371.4 906.4M367.6 900.3L370.4 900.3M367.6 900.3L367.6 904.2M370.4 900.3L370.4 903.0M363.6 898.8L369.0 898.8M363.6 898.8L363.6 901.8M369.0 898.8L369.0 900.3M366.3 897.1L366.3 898.8M373.3 905.9L373.3 911.2M375.1 906.8L375.1 911.2M373.3 904.3L375.1 904.3M373.3 904.3L373.3 905.9M375.1 904.3L375.1 906.8M377.0 901.4L377.0 911.2M374.2 900.2L377.0 900.2M374.2 900.2L374.2 904.3M377.0 900.2L377.0 901.4M378.9 905.3L378.9 911.2M380.8 905.5L380.8 911.2M378.9 902.8L380.8 902.8M378.9 902.8L378.9 905.3M380.8 902.8L380.8 905.5M375.6 897.8L379.8 897.8M375.6 897.8L375.6 900.2M379.8 897.8L379.8 902.8M377.7 897.0L377.7 897.8M382.7 903.8L382.7 911.2M384.5 901.4L384.5 911.2M382.7 900.2L384.5 900.2M382.7 900.2L382.7 903.8M384.5 900.2L384.5 901.4M383.6 897.1L383.6 900.2M386.4 910.2L386.4 911.2M388.3 910.2L388.3 911.2M386.4 909.3L388.3 909.3M386.4 909.3L386.4 910.2M388.3 909.3L388.3 910.2M390.2 909.0L390.2 911.2M387.4 908.1L390.2 908.1M387.4 908.1L387.4 909.3M390.2 908.1L390.2 909.0M392.1 908.1L392.1 911.2M388.8 906.6L392.1 906.6M388.8 906.6L388.8 908.1M392.1 906.6L392.1 908.1M393.9 908.7L393.9 911.2M395.8 908.8L395.8 911.2M393.9 907.0L395.8 907.0M393.9 907.0L393.9 908.7M395.8 907.0L395.8 908.8M390.4 905.2L394.9 905.2M390.4 905.2L390.4 906.6M394.9 905.2L394.9 907.0M397.7 904.2L397.7 911.2M392.6 900.7L397.7 900.7M392.6 900.7L392.6 905.2M397.7 900.7L397.7 904.2M395.2 897.4L395.2 900.7M399.6 905.4L399.6 911.2M401.5 906.0L401.5 911.2M399.6 902.5L401.5 902.5M399.6 902.5L399.6 905.4M401.5 902.5L401.5 906.0M403.3 904.9L403.3 911.2M400.5 900.3L403.3 900.3M400.5 900.3L400.5 902.5M403.3 900.3L403.3 904.9M401.9 898.8L401.9 900.3M405.2 899.4L405.2 911.2M407.1 899.7L407.1 911.2M409.0 901.0L409.0 911.2M407.1 894.9L409.0 894.9M407.1 894.9L407.1 899.7M409.0 894.9L409.0 901.0M405.2 891.1L408.0 891.1M405.2 891.1L405.2 899.4M408.0 891.1L408.0 894.9M406.6 888.8L406.6 891.1M410.9 903.5L410.9 911.2M412.7 902.8L412.7 911.2M410.9 900.7L412.7 900.7M410.9 900.7L410.9 903.5M412.7 900.7L412.7 902.8M414.6 904.3L414.6 911.2M416.5 907.4L416.5 911.2M418.4 907.7L418.4 911.2M416.5 905.2L418.4 905.2M416.5 905.2L416.5 907.4M418.4 905.2L418.4 907.7M414.6 901.4L417.4 901.4M414.6 901.4L414.6 904.3M417.4 901.4L417.4 905.2M420.3 901.2L420.3 911.2M416.0 898.6L420.3 898.6M416.0 898.6L416.0 901.4M420.3 898.6L420.3 901.2M411.8 892.5L418.1 892.5M411.8 892.5L411.8 900.7M418.1 892.5L418.1 898.6M415.0 890.0L415.0 892.5M422.1 893.1L422.1 911.2M424.0 896.0L424.0 911.2M425.9 894.9L425.9 911.2M424.0 893.1L425.9 893.1M424.0 893.1L424.0 896.0M425.9 893.1L425.9 894.9M422.1 891.4L425.0 891.4M422.1 891.4L422.1 893.1M425.0 891.4L425.0 893.1M423.5 890.3L423.5 891.4M427.8 907.5L427.8 911.2M429.7 905.4L429.7 911.2M427.8 904.5L429.7 904.5M427.8 904.5L427.8 907.5M429.7 904.5L429.7 905.4M431.5 906.7L431.5 911.2M433.4 908.4L433.4 911.2M435.3 908.5L435.3 911.2M433.4 907.0L435.3 907.0M433.4 907.0L433.4 908.4M435.3 907.0L435.3 908.5M431.5 904.2L434.4 904.2M431.5 904.2L431.5 906.7M434.4 904.2L434.4 907.0M428.7 900.2L432.9 900.2M428.7 900.2L428.7 904.5M432.9 900.2L432.9 904.2M437.2 901.1L437.2 911.2M439.1 900.7L439.1 911.2M437.2 899.8L439.1 899.8M437.2 899.8L437.2 901.1M439.1 899.8L439.1 900.7M430.8 893.0L438.1 893.0M430.8 893.0L430.8 900.2M438.1 893.0L438.1 899.8M434.5 891.2L434.5 893.0M440.9 897.5L440.9 911.2M442.8 902.1L442.8 911.2M444.7 905.5L444.7 911.2M442.8 900.9L444.7 900.9M442.8 900.9L442.8 902.1M444.7 900.9L444.7 905.5M440.9 894.9L443.8 894.9M440.9 894.9L440.9 897.5M443.8 894.9L443.8 900.9M446.6 904.9L446.6 911.2M448.5 907.7L448.5 911.2M450.3 906.5L450.3 911.2M448.5 905.4L450.3 905.4M448.5 905.4L448.5 907.7M450.3 905.4L450.3 906.5M446.6 900.8L449.4 900.8M446.6 900.8L446.6 904.9M449.4 900.8L449.4 905.4M452.2 906.0L452.2 911.2M454.1 906.1L454.1 911.2M452.2 902.1L454.1 902.1M452.2 902.1L452.2 906.0M454.1 902.1L454.1 906.1M448.0 898.8L453.2 898.8M448.0 898.8L448.0 900.8M453.2 898.8L453.2 902.1M456.0 891.2L456.0 911.2M450.6 890.4L456.0 890.4M450.6 890.4L450.6 898.8M456.0 890.4L456.0 891.2M442.4 887.7L453.3 887.7M442.4 887.7L442.4 894.9M453.3 887.7L453.3 890.4M447.8 884.1L447.8 887.7M457.9 893.8L457.9 911.2M459.7 892.1L459.7 911.2M457.9 891.2L459.7 891.2M457.9 891.2L457.9 893.8M459.7 891.2L459.7 892.1M461.6 897.3L461.6 911.2M458.8 888.8L461.6 888.8M458.8 888.8L458.8 891.2M461.6 888.8L461.6 897.3M460.2 885.9L460.2 888.8M463.5 898.3L463.5 911.2M465.4 899.1L465.4 911.2M463.5 890.7L465.4 890.7M463.5 890.7L463.5 898.3M465.4 890.7L465.4 899.1M467.3 896.0L467.3 911.2M469.1 890.4L469.1 911.2M471.0 895.3L471.0 911.2M469.1 889.2L471.0 889.2M469.1 889.2L469.1 890.4M471.0 889.2L471.0 895.3M467.3 888.4L470.1 888.4M467.3 888.4L467.3 896.0M470.1 888.4L470.1 889.2M464.4 885.5L468.7 885.5M464.4 885.5L464.4 890.7M468.7 885.5L468.7 888.4M466.6 883.2L466.6 885.5M472.9 898.5L472.9 911.2M474.8 898.8L474.8 911.2M472.9 897.7L474.8 897.7M472.9 897.7L472.9 898.5M474.8 897.7L474.8 898.8M476.7 902.0L476.7 911.2M478.5 906.1L478.5 911.2M480.4 907.3L480.4 911.2M482.3 907.2L482.3 911.2M480.4 905.6L482.3 905.6M480.4 905.6L480.4 907.3M482.3 905.6L482.3 907.2M478.5 902.7L481.4 902.7M478.5 902.7L478.5 906.1M481.4 902.7L481.4 905.6M476.7 900.9L479.9 900.9M476.7 900.9L476.7 902.0M479.9 900.9L479.9 902.7M473.8 895.2L478.3 895.2M473.8 895.2L473.8 897.7M478.3 895.2L478.3 900.9M484.2 896.4L484.2 911.2M476.1 886.5L484.2 886.5M476.1 886.5L476.1 895.2M484.2 886.5L484.2 896.4M480.1 884.2L480.1 886.5M486.1 889.1L486.1 911.2M487.9 893.9L487.9 911.2M486.1 888.2L487.9 888.2M486.1 888.2L486.1 889.1M487.9 888.2L487.9 893.9M487.0 885.5L487.0 888.2M489.8 890.5L489.8 911.2M491.7 893.2L491.7 911.2M489.8 886.4L491.7 886.4M489.8 886.4L489.8 890.5M491.7 886.4L491.7 893.2M490.8 885.8L490.8 886.4M493.6 888.9L493.6 911.2M495.5 898.7L495.5 911.2M497.3 901.5L497.3 911.2M495.5 896.2L497.3 896.2M495.5 896.2L495.5 898.7M497.3 896.2L497.3 901.5M499.2 896.4L499.2 911.2M496.4 889.8L499.2 889.8M496.4 889.8L496.4 896.2M499.2 889.8L499.2 896.4M493.6 885.9L497.8 885.9M493.6 885.9L493.6 888.9M497.8 885.9L497.8 889.8M495.7 884.0L495.7 885.9M501.1 888.8L501.1 911.2M503.0 890.8L503.0 911.2M501.1 883.3L503.0 883.3M501.1 883.3L501.1 888.8M503.0 883.3L503.0 890.8M502.0 880.4L502.0 883.3M504.9 895.2L504.9 911.2M506.7 894.4L506.7 911.2M504.9 889.6L506.7 889.6M504.9 889.6L504.9 895.2M506.7 889.6L506.7 894.4M508.6 896.3L508.6 911.2M510.5 897.7L510.5 911.2M512.4 900.2L512.4 911.2M510.5 893.1L512.4 893.1M510.5 893.1L510.5 897.7M512.4 893.1L512.4 900.2M508.6 891.7L511.4 891.7M508.6 891.7L508.6 896.3M511.4 891.7L511.4 893.1M505.8 886.5L510.0 886.5M505.8 886.5L505.8 889.6M510.0 886.5L510.0 891.7M507.9 885.2L507.9 886.5M514.3 901.3L514.3 911.2M516.1 896.1L516.1 911.2M514.3 893.8L516.1 893.8M514.3 893.8L514.3 901.3M516.1 893.8L516.1 896.1M518.0 904.1L518.0 911.2M519.9 902.2L519.9 911.2M518.0 899.8L519.9 899.8M518.0 899.8L518.0 904.1M519.9 899.8L519.9 902.2M521.8 901.7L521.8 911.2M523.7 905.0L523.7 911.2M521.8 900.7L523.7 900.7M521.8 900.7L521.8 901.7M523.7 900.7L523.7 905.0M525.5 903.3L525.5 911.2M522.7 899.2L525.5 899.2M522.7 899.2L522.7 900.7M525.5 899.2L525.5 903.3M519.0 892.4L524.1 892.4M519.0 892.4L519.0 899.8M524.1 892.4L524.1 899.2M515.2 887.8L521.5 887.8M515.2 887.8L515.2 893.8M521.5 887.8L521.5 892.4M518.4 885.8L518.4 887.8M527.4 895.7L527.4 911.2M529.3 900.1L529.3 911.2M527.4 893.6L529.3 893.6M527.4 893.6L527.4 895.7M529.3 893.6L529.3 900.1M531.2 904.9L531.2 911.2M533.1 905.4L533.1 911.2M531.2 902.7L533.1 902.7M531.2 902.7L531.2 904.9M533.1 902.7L533.1 905.4M534.9 901.1L534.9 911.2M532.1 897.9L534.9 897.9M532.1 897.9L532.1 902.7M534.9 897.9L534.9 901.1M528.4 888.5L533.5 888.5M528.4 888.5L528.4 893.6M533.5 888.5L533.5 897.9M530.9 884.6L530.9 888.5M536.8 896.5L536.8 911.2M538.7 899.9L538.7 911.2M536.8 895.6L538.7 895.6M536.8 895.6L536.8 896.5M538.7 895.6L538.7 899.9M540.6 897.4L540.6 911.2M542.5 903.3L542.5 911.2M544.3 899.4L544.3 911.2M546.2 899.4L546.2 911.2M544.3 898.3L546.2 898.3M544.3 898.3L544.3 899.4M546.2 898.3L546.2 899.4M542.5 897.2L545.3 897.2M542.5 897.2L542.5 903.3M545.3 897.2L545.3 898.3M540.6 895.3L543.9 895.3M540.6 895.3L540.6 897.4M543.9 895.3L543.9 897.2M548.1 899.8L548.1 911.2M542.2 892.3L548.1 892.3M542.2 892.3L542.2 895.3M548.1 892.3L548.1 899.8M537.8 888.3L545.2 888.3M537.8 888.3L537.8 895.6M545.2 888.3L545.2 892.3M550.0 889.3L550.0 911.2M541.5 885.0L550.0 885.0M541.5 885.0L541.5 888.3M550.0 885.0L550.0 889.3M545.7 884.2L545.7 885.0M551.9 892.4L551.9 911.2M553.7 900.9L553.7 911.2M555.6 895.1L555.6 911.2M553.7 893.2L555.6 893.2M553.7 893.2L553.7 900.9M555.6 893.2L555.6 895.1M551.9 889.4L554.7 889.4M551.9 889.4L551.9 892.4M554.7 889.4L554.7 893.2M557.5 906.4L557.5 911.2M559.4 905.8L559.4 911.2M557.5 904.4L559.4 904.4M557.5 904.4L557.5 906.4M559.4 904.4L559.4 905.8M561.3 901.4L561.3 911.2M558.4 899.6L561.3 899.6M558.4 899.6L558.4 904.4M561.3 899.6L561.3 901.4M563.1 899.6L563.1 911.2M565.0 896.8L565.0 911.2M563.1 894.9L565.0 894.9M563.1 894.9L563.1 899.6M565.0 894.9L565.0 896.8M559.9 893.3L564.1 893.3M559.9 893.3L559.9 899.6M564.1 893.3L564.1 894.9M553.3 886.2L562.0 886.2M553.3 886.2L553.3 889.4M562.0 886.2L562.0 893.3M557.6 883.5L557.6 886.2M566.9 897.2L566.9 911.2M568.8 901.7L568.8 911.2M570.7 904.5L570.7 911.2M572.5 905.5L572.5 911.2M570.7 902.8L572.5 902.8M570.7 902.8L570.7 904.5M572.5 902.8L572.5 905.5M568.8 897.8L571.6 897.8M568.8 897.8L568.8 901.7M571.6 897.8L571.6 902.8M566.9 893.6L570.2 893.6M566.9 893.6L566.9 897.2M570.2 893.6L570.2 897.8M574.4 899.5L574.4 911.2M576.3 903.8L576.3 911.2M578.2 901.5L578.2 911.2M576.3 899.5L578.2 899.5M576.3 899.5L576.3 903.8M578.2 899.5L578.2 901.5M580.1 897.1L580.1 911.2M577.2 893.5L580.1 893.5M577.2 893.5L577.2 899.5M580.1 893.5L580.1 897.1M574.4 891.7L578.6 891.7M574.4 891.7L574.4 899.5M578.6 891.7L578.6 893.5M568.5 886.7L576.5 886.7M568.5 886.7L568.5 893.6M576.5 886.7L576.5 891.7M572.5 885.0L572.5 886.7M581.9 896.8L581.9 911.2M583.8 896.0L583.8 911.2M581.9 894.4L583.8 894.4M581.9 894.4L581.9 896.8M583.8 894.4L583.8 896.0M585.7 901.7L585.7 911.2M587.6 901.8L587.6 911.2M585.7 899.1L587.6 899.1M585.7 899.1L585.7 901.7M587.6 899.1L587.6 901.8M589.5 900.2L589.5 911.2M586.6 897.5L589.5 897.5M586.6 897.5L586.6 899.1M589.5 897.5L589.5 900.2M582.9 887.2L588.0 887.2M582.9 887.2L582.9 894.4M588.0 887.2L588.0 897.5M585.5 884.8L585.5 887.2M591.3 892.6L591.3 911.2M593.2 891.0L593.2 911.2M595.1 898.3L595.1 911.2M597.0 900.7L597.0 911.2M595.1 895.1L597.0 895.1M595.1 895.1L595.1 898.3M597.0 895.1L597.0 900.7M593.2 888.8L596.0 888.8M593.2 888.8L593.2 891.0M596.0 888.8L596.0 895.1M591.3 887.2L594.6 887.2M591.3 887.2L591.3 892.6M594.6 887.2L594.6 888.8M593.0 885.9L593.0 887.2M598.9 900.7L598.9 911.2M600.7 898.8L600.7 911.2M598.9 895.8L600.7 895.8M598.9 895.8L598.9 900.7M600.7 895.8L600.7 898.8M602.6 893.4L602.6 911.2M604.5 896.1L604.5 911.2M602.6 892.0L604.5 892.0M602.6 892.0L602.6 893.4M604.5 892.0L604.5 896.1M599.8 891.2L603.6 891.2M599.8 891.2L599.8 895.8M603.6 891.2L603.6 892.0M606.4 901.7L606.4 911.2M608.3 899.8L608.3 911.2M606.4 897.1L608.3 897.1M606.4 897.1L606.4 901.7M608.3 897.1L608.3 899.8M601.7 888.1L607.3 888.1M601.7 888.1L601.7 891.2M607.3 888.1L607.3 897.1M604.5 884.7L604.5 888.1M610.1 894.8L610.1 911.2M612.0 899.6L612.0 911.2M613.9 894.8L613.9 911.2M612.0 891.1L613.9 891.1M612.0 891.1L612.0 899.6M613.9 891.1L613.9 894.8M610.1 884.6L613.0 884.6M610.1 884.6L610.1 894.8M613.0 884.6L613.0 891.1M611.5 882.5L611.5 884.6M615.8 901.2L615.8 911.2M617.7 901.6L617.7 911.2M615.8 898.6L617.7 898.6M615.8 898.6L615.8 901.2M617.7 898.6L617.7 901.6M619.5 891.7L619.5 911.2M616.7 890.8L619.5 890.8M616.7 890.8L616.7 898.6M619.5 890.8L619.5 891.7M621.4 902.8L621.4 911.2M623.3 905.2L623.3 911.2M625.2 904.7L625.2 911.2M623.3 902.2L625.2 902.2M623.3 902.2L623.3 905.2M625.2 902.2L625.2 904.7M621.4 898.9L624.2 898.9M621.4 898.9L621.4 902.8M624.2 898.9L624.2 902.2M627.1 894.3L627.1 911.2M622.8 891.7L627.1 891.7M622.8 891.7L622.8 898.9M627.1 891.7L627.1 894.3M618.1 888.9L624.9 888.9M618.1 888.9L618.1 890.8M624.9 888.9L624.9 891.7M621.5 885.4L621.5 888.9M628.9 901.5L628.9 911.2M630.8 898.5L630.8 911.2M628.9 895.6L630.8 895.6M628.9 895.6L628.9 901.5M630.8 895.6L630.8 898.5M632.7 896.4L632.7 911.2M634.6 895.4L634.6 911.2M632.7 889.9L634.6 889.9M632.7 889.9L632.7 896.4M634.6 889.9L634.6 895.4M629.9 886.0L633.6 886.0M629.9 886.0L629.9 895.6M633.6 886.0L633.6 889.9M631.8 885.1L631.8 886.0M636.5 894.9L636.5 911.2M638.3 900.1L638.3 911.2M636.5 893.4L638.3 893.4M636.5 893.4L636.5 894.9M638.3 893.4L638.3 900.1M640.2 891.1L640.2 911.2M637.4 887.7L640.2 887.7M637.4 887.7L637.4 893.4M640.2 887.7L640.2 891.1M642.1 905.1L642.1 911.2M644.0 905.2L644.0 911.2M642.1 901.3L644.0 901.3M642.1 901.3L642.1 905.1M644.0 901.3L644.0 905.2M645.9 902.4L645.9 911.2M643.0 898.7L645.9 898.7M643.0 898.7L643.0 901.3M645.9 898.7L645.9 902.4M647.7 901.2L647.7 911.2M649.6 904.0L649.6 911.2M651.5 904.9L651.5 911.2M649.6 901.6L651.5 901.6M649.6 901.6L649.6 904.0M651.5 901.6L651.5 904.9M647.7 896.4L650.6 896.4M647.7 896.4L647.7 901.2M650.6 896.4L650.6 901.6M644.5 890.1L649.1 890.1M644.5 890.1L644.5 898.7M649.1 890.1L649.1 896.4M638.8 884.2L646.8 884.2M638.8 884.2L638.8 887.7M646.8 884.2L646.8 890.1M642.8 883.7L642.8 884.2M653.4 896.9L653.4 911.2M655.3 895.7L655.3 911.2M657.1 897.5L657.1 911.2M655.3 894.7L657.1 894.7M655.3 894.7L655.3 895.7M657.1 894.7L657.1 897.5M653.4 889.8L656.2 889.8M653.4 889.8L653.4 896.9M656.2 889.8L656.2 894.7M659.0 899.6L659.0 911.2M660.9 903.1L660.9 911.2M662.8 904.4L662.8 911.2M664.7 903.9L664.7 911.2M662.8 899.6L664.7 899.6M662.8 899.6L662.8 904.4M664.7 899.6L664.7 903.9M660.9 898.8L663.7 898.8M660.9 898.8L660.9 903.1M663.7 898.8L663.7 899.6M659.0 895.8L662.3 895.8M659.0 895.8L659.0 899.6M662.3 895.8L662.3 898.8M654.8 887.2L660.7 887.2M654.8 887.2L654.8 889.8M660.7 887.2L660.7 895.8M666.5 891.7L666.5 911.2M657.7 885.5L666.5 885.5M657.7 885.5L657.7 887.2M666.5 885.5L666.5 891.7M662.1 884.7L662.1 885.5M668.4 895.9L668.4 911.2M670.3 902.8L670.3 911.2M672.2 903.7L672.2 911.2M670.3 898.9L672.2 898.9M670.3 898.9L670.3 902.8M672.2 898.9L672.2 903.7M668.4 888.8L671.2 888.8M668.4 888.8L668.4 895.9M671.2 888.8L671.2 898.9M669.8 886.9L669.8 888.8M674.1 889.0L674.1 911.2M675.9 906.4L675.9 911.2M677.8 904.3L677.8 911.2M675.9 903.1L677.8 903.1M675.9 903.1L675.9 906.4M677.8 903.1L677.8 904.3M679.7 905.2L679.7 911.2M676.9 901.1L679.7 901.1M676.9 901.1L676.9 903.1M679.7 901.1L679.7 905.2M681.6 907.0L681.6 911.2M683.5 907.4L683.5 911.2M681.6 906.0L683.5 906.0M681.6 906.0L681.6 907.0M683.5 906.0L683.5 907.4M685.3 908.2L685.3 911.2M687.2 908.2L687.2 911.2M685.3 906.3L687.2 906.3M685.3 906.3L685.3 908.2M687.2 906.3L687.2 908.2M682.5 903.6L686.3 903.6M682.5 903.6L682.5 906.0M686.3 903.6L686.3 906.3M678.3 898.7L684.4 898.7M678.3 898.7L678.3 901.1M684.4 898.7L684.4 903.6M689.1 901.2L689.1 911.2M681.3 897.0L689.1 897.0M681.3 897.0L681.3 898.7M689.1 897.0L689.1 901.2M674.1 885.8L685.2 885.8M674.1 885.8L674.1 889.0M685.2 885.8L685.2 897.0M679.6 883.8L679.6 885.8M691.0 900.3L691.0 911.2M692.9 904.1L692.9 911.2M694.7 906.2L694.7 911.2M692.9 902.5L694.7 902.5M692.9 902.5L692.9 904.1M694.7 902.5L694.7 906.2M696.6 905.9L696.6 911.2M698.5 905.9L698.5 911.2M696.6 902.2L698.5 902.2M696.6 902.2L696.6 905.9M698.5 902.2L698.5 905.9M693.8 900.3L697.6 900.3M693.8 900.3L693.8 902.5M697.6 900.3L697.6 902.2M691.0 897.8L695.7 897.8M691.0 897.8L691.0 900.3M695.7 897.8L695.7 900.3M700.4 895.4L700.4 911.2M693.3 888.5L700.4 888.5M693.3 888.5L693.3 897.8M700.4 888.5L700.4 895.4M696.9 886.2L696.9 888.5M702.3 895.8L702.3 911.2M704.1 902.5L704.1 911.2M706.0 902.9L706.0 911.2M704.1 901.0L706.0 901.0M704.1 901.0L704.1 902.5M706.0 901.0L706.0 902.9M702.3 894.0L705.1 894.0M702.3 894.0L702.3 895.8M705.1 894.0L705.1 901.0M707.9 895.9L707.9 911.2M703.7 887.2L707.9 887.2M703.7 887.2L703.7 894.0M707.9 887.2L707.9 895.9M705.8 884.3L705.8 887.2M709.8 903.0L709.8 911.2M711.7 903.9L711.7 911.2M709.8 901.0L711.7 901.0M709.8 901.0L709.8 903.0M711.7 901.0L711.7 903.9M713.5 899.9L713.5 911.2M710.7 896.9L713.5 896.9M710.7 896.9L710.7 901.0M713.5 896.9L713.5 899.9M715.4 903.5L715.4 911.2M717.3 902.0L717.3 911.2M719.2 905.3L719.2 911.2M721.1 905.4L721.1 911.2M722.9 906.2L722.9 911.2M721.1 903.4L722.9 903.4M721.1 903.4L721.1 905.4M722.9 903.4L722.9 906.2M719.2 902.1L722.0 902.1M719.2 902.1L719.2 905.3M722.0 902.1L722.0 903.4M717.3 899.7L720.6 899.7M717.3 899.7L717.3 902.0M720.6 899.7L720.6 902.1M715.4 897.5L718.9 897.5M715.4 897.5L715.4 903.5M718.9 897.5L718.9 899.7M712.1 892.2L717.2 892.2M712.1 892.2L712.1 896.9M717.2 892.2L717.2 897.5M714.7 890.6L714.7 892.2M724.8 905.2L724.8 911.2M726.7 905.5L726.7 911.2M724.8 901.4L726.7 901.4M724.8 901.4L724.8 905.2M726.7 901.4L726.7 905.5M728.6 899.8L728.6 911.2M730.5 901.8L730.5 911.2M728.6 896.8L730.5 896.8M728.6 896.8L728.6 899.8M730.5 896.8L730.5 901.8M725.8 894.9L729.5 894.9M725.8 894.9L725.8 901.4M729.5 894.9L729.5 896.8M732.3 899.4L732.3 911.2M727.6 892.8L732.3 892.8M727.6 892.8L727.6 894.9M732.3 892.8L732.3 899.4M734.2 892.2L734.2 911.2M730.0 890.6L734.2 890.6M730.0 890.6L730.0 892.8M734.2 890.6L734.2 892.2M732.1 888.2L732.1 890.6M736.1 897.9L736.1 911.2M738.0 904.4L738.0 911.2M739.9 907.0L739.9 911.2M741.7 908.2L741.7 911.2M743.6 908.9L743.6 911.2M741.7 907.3L743.6 907.3M741.7 907.3L741.7 908.2M743.6 907.3L743.6 908.9M739.9 905.2L742.7 905.2M739.9 905.2L739.9 907.0M742.7 905.2L742.7 907.3M738.0 903.1L741.3 903.1M738.0 903.1L738.0 904.4M741.3 903.1L741.3 905.2M736.1 896.8L739.6 896.8M736.1 896.8L736.1 897.9M739.6 896.8L739.6 903.1M745.5 894.9L745.5 911.2M747.4 894.2L747.4 911.2M745.5 893.3L747.4 893.3M745.5 893.3L745.5 894.9M747.4 893.3L747.4 894.2M737.9 892.1L746.4 892.1M737.9 892.1L737.9 896.8M746.4 892.1L746.4 893.3M742.2 889.1L742.2 892.1M749.3 904.7L749.3 911.2M751.1 902.7L751.1 911.2M749.3 899.8L751.1 899.8M749.3 899.8L749.3 904.7M751.1 899.8L751.1 902.7M753.0 902.8L753.0 911.2M754.9 902.3L754.9 911.2M753.0 896.3L754.9 896.3M753.0 896.3L753.0 902.8M754.9 896.3L754.9 902.3M750.2 890.6L754.0 890.6M750.2 890.6L750.2 899.8M754.0 890.6L754.0 896.3M752.1 889.9L752.1 890.6M756.8 896.0L756.8 911.2M758.7 894.3L758.7 911.2M756.8 890.5L758.7 890.5M756.8 890.5L756.8 896.0M758.7 890.5L758.7 894.3M760.5 895.5L760.5 911.2M762.4 895.1L762.4 911.2M760.5 894.2L762.4 894.2M760.5 894.2L760.5 895.5M762.4 894.2L762.4 895.1M757.7 887.7L761.5 887.7M757.7 887.7L757.7 890.5M761.5 887.7L761.5 894.2M759.6 884.6L759.6 887.7M764.3 894.9L764.3 911.2M766.2 889.2L766.2 911.2M764.3 884.6L766.2 884.6M764.3 884.6L764.3 894.9M766.2 884.6L766.2 889.2M768.1 894.5L768.1 911.2M769.9 894.2L769.9 911.2M768.1 887.2L769.9 887.2M768.1 887.2L768.1 894.5M769.9 887.2L769.9 894.2M765.2 883.6L769.0 883.6M765.2 883.6L765.2 884.6M769.0 883.6L769.0 887.2M767.1 880.4L767.1 883.6M771.8 895.9L771.8 911.2M773.7 897.0L773.7 911.2M775.6 895.3L775.6 911.2M773.7 892.9L775.6 892.9M773.7 892.9L773.7 897.0M775.6 892.9L775.6 895.3M771.8 890.5L774.6 890.5M771.8 890.5L771.8 895.9M774.6 890.5L774.6 892.9M777.5 892.4L777.5 911.2M779.3 900.3L779.3 911.2M781.2 903.1L781.2 911.2M783.1 902.2L783.1 911.2M781.2 901.0L783.1 901.0M781.2 901.0L781.2 903.1M783.1 901.0L783.1 902.2M779.3 896.4L782.2 896.4M779.3 896.4L779.3 900.3M782.2 896.4L782.2 901.0M777.5 890.3L780.7 890.3M777.5 890.3L777.5 892.4M780.7 890.3L780.7 896.4M773.2 887.2L779.1 887.2M773.2 887.2L773.2 890.5M779.1 887.2L779.1 890.3M776.2 884.1L776.2 887.2M785.0 890.6L785.0 911.2M786.9 898.3L786.9 911.2M788.7 892.6L788.7 911.2M786.9 890.6L788.7 890.6M786.9 890.6L786.9 898.3M788.7 890.6L788.7 892.6M785.0 885.7L787.8 885.7M785.0 885.7L785.0 890.6M787.8 885.7L787.8 890.6M790.6 888.4L790.6 911.2M786.4 883.9L790.6 883.9M786.4 883.9L786.4 885.7M790.6 883.9L790.6 888.4M788.5 882.1L788.5 883.9M792.5 897.4L792.5 911.2M794.4 900.7L794.4 911.2M792.5 895.1L794.4 895.1M792.5 895.1L792.5 897.4M794.4 895.1L794.4 900.7M796.3 898.8L796.3 911.2M798.1 896.1L798.1 911.2M796.3 893.4L798.1 893.4M796.3 893.4L796.3 898.8M798.1 893.4L798.1 896.1M793.4 886.0L797.2 886.0M793.4 886.0L793.4 895.1M797.2 886.0L797.2 893.4M795.3 883.9L795.3 886.0M800.0 900.3L800.0 911.2M801.9 902.1L801.9 911.2M803.8 906.6L803.8 911.2M805.7 907.2L805.7 911.2M803.8 904.5L805.7 904.5M803.8 904.5L803.8 906.6M805.7 904.5L805.7 907.2M801.9 900.9L804.7 900.9M801.9 900.9L801.9 902.1M804.7 900.9L804.7 904.5M800.0 895.7L803.3 895.7M800.0 895.7L800.0 900.3M803.3 895.7L803.3 900.9M807.5 902.9L807.5 911.2M809.4 902.9L809.4 911.2M807.5 901.2L809.4 901.2M807.5 901.2L807.5 902.9M809.4 901.2L809.4 902.9M811.3 900.8L811.3 911.2M808.5 894.5L811.3 894.5M808.5 894.5L808.5 901.2M811.3 894.5L811.3 900.8M813.2 894.3L813.2 911.2M809.9 889.1L813.2 889.1M809.9 889.1L809.9 894.5M813.2 889.1L813.2 894.3M801.7 885.0L811.5 885.0M801.7 885.0L801.7 895.7M811.5 885.0L811.5 889.1M806.6 882.0L806.6 885.0M815.1 884.8L815.1 911.2M816.9 893.8L816.9 911.2M818.8 897.4L818.8 911.2M816.9 886.8L818.8 886.8M816.9 886.8L816.9 893.8M818.8 886.8L818.8 897.4M815.1 882.4L817.9 882.4M815.1 882.4L815.1 884.8M817.9 882.4L817.9 886.8M816.5 881.4L816.5 882.4M820.7 893.2L820.7 911.2M822.6 894.6L822.6 911.2M820.7 892.3L822.6 892.3M820.7 892.3L820.7 893.2M822.6 892.3L822.6 894.6M824.5 894.3L824.5 911.2M826.3 895.0L826.3 911.2M824.5 893.2L826.3 893.2M824.5 893.2L824.5 894.3M826.3 893.2L826.3 895.0M821.6 883.3L825.4 883.3M821.6 883.3L821.6 892.3M825.4 883.3L825.4 893.2M823.5 881.7L823.5 883.3M828.2 899.1L828.2 911.2M830.1 897.8L830.1 911.2M828.2 896.8L830.1 896.8M828.2 896.8L828.2 899.1M830.1 896.8L830.1 897.8M832.0 902.1L832.0 911.2M833.9 899.5L833.9 911.2M832.0 896.9L833.9 896.9M832.0 896.9L832.0 902.1M833.9 896.9L833.9 899.5M829.2 886.8L832.9 886.8M829.2 886.8L829.2 896.8M832.9 886.8L832.9 896.9M831.0 885.4L831.0 886.8M835.7 906.8L835.7 911.2M837.6 906.4L837.6 911.2M835.7 904.9L837.6 904.9M835.7 904.9L835.7 906.8M837.6 904.9L837.6 906.4M839.5 908.5L839.5 911.2M841.4 908.5L841.4 911.2M839.5 906.7L841.4 906.7M839.5 906.7L839.5 908.5M841.4 906.7L841.4 908.5M836.7 903.8L840.4 903.8M836.7 903.8L836.7 904.9M840.4 903.8L840.4 906.7M843.3 903.7L843.3 911.2M838.6 901.0L843.3 901.0M838.6 901.0L838.6 903.8M843.3 901.0L843.3 903.7M845.1 902.4L845.1 911.2M840.9 895.7L845.1 895.7M840.9 895.7L840.9 901.0M845.1 895.7L845.1 902.4M847.0 902.4L847.0 911.2M848.9 902.3L848.9 911.2M847.0 899.7L848.9 899.7M847.0 899.7L847.0 902.4M848.9 899.7L848.9 902.3M850.8 898.6L850.8 911.2M848.0 891.7L850.8 891.7M848.0 891.7L848.0 899.7M850.8 891.7L850.8 898.6M843.0 884.6L849.4 884.6M843.0 884.6L843.0 895.7M849.4 884.6L849.4 891.7M846.2 880.7L846.2 884.6M852.7 895.1L852.7 911.2M854.5 893.3L854.5 911.2M852.7 884.8L854.5 884.8M852.7 884.8L852.7 895.1M854.5 884.8L854.5 893.3M853.6 884.2L853.6 884.8M856.4 900.4L856.4 911.2M858.3 897.6L858.3 911.2M856.4 895.1L858.3 895.1M856.4 895.1L856.4 900.4M858.3 895.1L858.3 897.6M860.2 890.8L860.2 911.2M857.4 884.8L860.2 884.8M857.4 884.8L857.4 895.1M860.2 884.8L860.2 890.8M858.8 884.2L858.8 884.8M862.1 882.5L862.1 911.2M862.1 881.6L862.1 882.5" stroke="#3d3d3d" stroke-width="1.80" fill="none"/>
<text x="1175.50" y="1144.00" font-size="24.30" font-weight="bold" fill="#000">Group</text>
<rect x="1175.50" y="1158.90" width="26.00" height="25.10" fill="#55bcc0"/>
<rect x="1175.50" y="1187.00" width="26.00" height="25.20" fill="#e87a70"/>
<text x="1211.00" y="1180.30" font-size="24.00" fill="#000">H</text>
<text x="1211.00" y="1209.20" font-size="24.00" fill="#000">CRC</text>
<text x="1175.50" y="1260.30" font-size="24.30" font-weight="bold" fill="#000">Abundance</text>
<text x="1175.50" y="1287.00" font-size="24.30" font-weight="bold" fill="#000">(CLR)</text>
<rect x="1173.60" y="1300.30" width="29.40" height="1.05" fill="#e53c25"/><rect x="1173.60" y="1301.30" width="29.40" height="1.05" fill="#e53c25"/><rect x="1173.60" y="1302.30" width="29.40" height="1.05" fill="#e53c25"/><rect x="1173.60" y="1303.30" width="29.40" height="1.05" fill="#e53c25"/><rect x="1173.60" y="1304.30" width="29.40" height="1.05" fill="#e53c25"/><rect x="1173.60" y="1305.30" width="29.40" height="1.05" fill="#e53c25"/><rect x="1173.60" y="1306.30" width="29.40" height="1.05" fill="#e53d26"/><rect x="1173.60" y="1307.30" width="29.40" height="1.05" fill="#e53e28"/><rect x="1173.60" y="1308.30" width="29.40" height="1.05" fill="#e53f29"/><rect x="1173.60" y="1309.30" width="29.40" height="1.05" fill="#e5412b"/><rect x="1173.60" y="1310.30" width="29.40" height="1.05" fill="#e5422c"/><rect x="1173.60" y="1311.30" width="29.40" height="1.05" fill="#e5432e"/><rect x="1173.60" y="1312.30" width="29.40" height="1.05" fill="#e5442f"/><rect x="1173.60" y="1313.30" width="29.40" height="1.05" fill="#e54531"/><rect x="1173.60" y="1314.30" width="29.40" height="1.05" fill="#e64632"/><rect x="1173.60" y="1315.30" width="29.40" height="1.05" fill="#e64833"/><rect x="1173.60" y="1316.30" width="29.40" height="1.05" fill="#e64935"/><rect x="1173.60" y="1317.30" width="29.40" height="1.05" fill="#e64a36"/><rect x="1173.60" y="1318.30" width="29.40" height="1.05" fill="#e64b38"/><rect x="1173.60" y="1319.30" width="29.40" height="1.05" fill="#e64c39"/><rect x="1173.60" y="1320.30" width="29.40" height="1.05" fill="#e64d3b"/><rect x="1173.60" y="1321.30" width="29.40" height="1.05" fill="#e64f3c"/><rect x="1173.60" y="1322.30" width="29.40" height="1.05" fill="#e6503e"/><rect x="1173.60" y="1323.30" width="29.40" height="1.05" fill="#e65341"/><rect x="1173.60" y="1324.30" width="29.40" height="1.05" fill="#e75644"/><rect x="1173.60" y="1325.30" width="29.40" height="1.05" fill="#e75a48"/><rect x="1173.60" y="1326.30" width="29.40" height="1.05" fill="#e75d4b"/><rect x="1173.60" y="1327.30" width="29.40" height="1.05" fill="#e8604e"/><rect x="1173.60" y="1328.30" width="29.40" height="1.05" fill="#e86452"/><rect x="1173.60" y="1329.30" width="29.40" height="1.05" fill="#e86755"/><rect x="1173.60" y="1330.30" width="29.40" height="1.05" fill="#e96b59"/><rect x="1173.60" y="1331.30" width="29.40" height="1.05" fill="#e96e5c"/><rect x="1173.60" y="1332.30" width="29.40" height="1.05" fill="#e97260"/><rect x="1173.60" y="1333.30" width="29.40" height="1.05" fill="#ea7563"/><rect x="1173.60" y="1334.30" width="29.40" height="1.05" fill="#ea7967"/><rect x="1173.60" y="1335.30" width="29.40" height="1.05" fill="#ea7c6a"/><rect x="1173.60" y="1336.30" width="29.40" height="1.05" fill="#eb806e"/><rect x="1173.60" y="1337.30" width="29.40" height="1.05" fill="#eb8371"/><rect x="1173.60" y="1338.30" width="29.40" height="1.05" fill="#eb8775"/><rect x="1173.60" y="1339.30" width="29.40" height="1.05" fill="#ec8a78"/><rect x="1173.60" y="1340.30" width="29.40" height="1.05" fill="#ec8e7c"/><rect x="1173.60" y="1341.30" width="29.40" height="1.05" fill="#ed9280"/><rect x="1173.60" y="1342.30" width="29.40" height="1.05" fill="#ed9784"/><rect x="1173.60" y="1343.30" width="29.40" height="1.05" fill="#ee9b88"/><rect x="1173.60" y="1344.30" width="29.40" height="1.05" fill="#ee9f8c"/><rect x="1173.60" y="1345.30" width="29.40" height="1.05" fill="#efa490"/><rect x="1173.60" y="1346.30" width="29.40" height="1.05" fill="#efa894"/><rect x="1173.60" y="1347.30" width="29.40" height="1.05" fill="#f0ac98"/><rect x="1173.60" y="1348.30" width="29.40" height="1.05" fill="#f0b19c"/><rect x="1173.60" y="1349.30" width="29.40" height="1.05" fill="#f1b5a0"/><rect x="1173.60" y="1350.30" width="29.40" height="1.05" fill="#f1baa4"/><rect x="1173.60" y="1351.30" width="29.40" height="1.05" fill="#f2bea9"/><rect x="1173.60" y="1352.30" width="29.40" height="1.05" fill="#f2c2ad"/><rect x="1173.60" y="1353.30" width="29.40" height="1.05" fill="#f3c7b1"/><rect x="1173.60" y="1354.30" width="29.40" height="1.05" fill="#f3cbb5"/><rect x="1173.60" y="1355.30" width="29.40" height="1.05" fill="#f3cfb9"/><rect x="1173.60" y="1356.30" width="29.40" height="1.05" fill="#f4d3bd"/><rect x="1173.60" y="1357.30" width="29.40" height="1.05" fill="#f4d7c2"/><rect x="1173.60" y="1358.30" width="29.40" height="1.05" fill="#f4dbc6"/><rect x="1173.60" y="1359.30" width="29.40" height="1.05" fill="#f5dfca"/><rect x="1173.60" y="1360.30" width="29.40" height="1.05" fill="#f5e3ce"/><rect x="1173.60" y="1361.30" width="29.40" height="1.05" fill="#f5e7d3"/><rect x="1173.60" y="1362.30" width="29.40" height="1.05" fill="#f6ebd7"/><rect x="1173.60" y="1363.30" width="29.40" height="1.05" fill="#f6efdb"/><rect x="1173.60" y="1364.30" width="29.40" height="1.05" fill="#f5f2de"/><rect x="1173.60" y="1365.30" width="29.40" height="1.05" fill="#f4f0df"/><rect x="1173.60" y="1366.30" width="29.40" height="1.05" fill="#f2efe0"/><rect x="1173.60" y="1367.30" width="29.40" height="1.05" fill="#f0ede1"/><rect x="1173.60" y="1368.30" width="29.40" height="1.05" fill="#efece2"/><rect x="1173.60" y="1369.30" width="29.40" height="1.05" fill="#edeae3"/><rect x="1173.60" y="1370.30" width="29.40" height="1.05" fill="#ebe9e4"/><rect x="1173.60" y="1371.30" width="29.40" height="1.05" fill="#e9e7e5"/><rect x="1173.60" y="1372.30" width="29.40" height="1.05" fill="#e8e6e6"/><rect x="1173.60" y="1373.30" width="29.40" height="1.05" fill="#e6e5e7"/><rect x="1173.60" y="1374.30" width="29.40" height="1.05" fill="#e4e3e8"/><rect x="1173.60" y="1375.30" width="29.40" height="1.05" fill="#e1e0e8"/><rect x="1173.60" y="1376.30" width="29.40" height="1.05" fill="#dedde8"/><rect x="1173.60" y="1377.30" width="29.40" height="1.05" fill="#dbd9e8"/><rect x="1173.60" y="1378.30" width="29.40" height="1.05" fill="#d8d6e8"/><rect x="1173.60" y="1379.30" width="29.40" height="1.05" fill="#d5d3e7"/><rect x="1173.60" y="1380.30" width="29.40" height="1.05" fill="#d2cfe7"/><rect x="1173.60" y="1381.30" width="29.40" height="1.05" fill="#cfcce7"/><rect x="1173.60" y="1382.30" width="29.40" height="1.05" fill="#ccc9e7"/><rect x="1173.60" y="1383.30" width="29.40" height="1.05" fill="#c9c5e7"/><rect x="1173.60" y="1384.30" width="29.40" height="1.05" fill="#c6c2e7"/><rect x="1173.60" y="1385.30" width="29.40" height="1.05" fill="#c3bfe7"/><rect x="1173.60" y="1386.30" width="29.40" height="1.05" fill="#c0bce7"/><rect x="1173.60" y="1387.30" width="29.40" height="1.05" fill="#bdb8e6"/><rect x="1173.60" y="1388.30" width="29.40" height="1.05" fill="#bab5e6"/><rect x="1173.60" y="1389.30" width="29.40" height="1.05" fill="#b7b2e6"/><rect x="1173.60" y="1390.30" width="29.40" height="1.05" fill="#b4aee6"/><rect x="1173.60" y="1391.30" width="29.40" height="1.05" fill="#b1abe6"/><rect x="1173.60" y="1392.30" width="29.40" height="1.05" fill="#aea8e6"/><rect x="1173.60" y="1393.30" width="29.40" height="1.05" fill="#aba4e6"/><rect x="1173.60" y="1394.30" width="29.40" height="1.05" fill="#a8a1e7"/><rect x="1173.60" y="1395.30" width="29.40" height="1.05" fill="#a59de7"/><rect x="1173.60" y="1396.30" width="29.40" height="1.05" fill="#a29ae7"/><rect x="1173.60" y="1397.30" width="29.40" height="1.05" fill="#9f96e7"/><rect x="1173.60" y="1398.30" width="29.40" height="1.05" fill="#9c93e8"/><rect x="1173.60" y="1399.30" width="29.40" height="1.05" fill="#998fe8"/><rect x="1173.60" y="1400.30" width="29.40" height="1.05" fill="#968ce8"/><rect x="1173.60" y="1401.30" width="29.40" height="1.05" fill="#9388e8"/><rect x="1173.60" y="1402.30" width="29.40" height="1.05" fill="#9085e8"/><rect x="1173.60" y="1403.30" width="29.40" height="1.05" fill="#8d81e9"/><rect x="1173.60" y="1404.30" width="29.40" height="1.05" fill="#8a7ee9"/><rect x="1173.60" y="1405.30" width="29.40" height="1.05" fill="#877ae9"/><rect x="1173.60" y="1406.30" width="29.40" height="1.05" fill="#8477e9"/><rect x="1173.60" y="1407.30" width="29.40" height="1.05" fill="#8173ea"/><rect x="1173.60" y="1408.30" width="29.40" height="1.05" fill="#7e70ea"/><rect x="1173.60" y="1409.30" width="29.40" height="1.05" fill="#7c6eea"/><rect x="1173.60" y="1410.30" width="29.40" height="1.05" fill="#7c6eea"/><rect x="1173.60" y="1411.30" width="29.40" height="1.05" fill="#7b6dea"/><rect x="1173.60" y="1412.30" width="29.40" height="1.05" fill="#7b6dea"/><rect x="1173.60" y="1413.30" width="29.40" height="1.05" fill="#7b6dea"/><rect x="1173.60" y="1414.30" width="29.40" height="1.05" fill="#7b6dea"/><rect x="1173.60" y="1415.30" width="29.40" height="1.05" fill="#7b6dea"/><rect x="1173.60" y="1416.30" width="29.40" height="1.05" fill="#7a6cea"/><rect x="1173.60" y="1417.30" width="29.40" height="1.05" fill="#7a6cea"/><rect x="1173.60" y="1418.30" width="29.40" height="1.05" fill="#7a6ce9"/><rect x="1173.60" y="1419.30" width="29.40" height="1.05" fill="#7a6ce9"/><rect x="1173.60" y="1420.30" width="29.40" height="1.05" fill="#796be9"/><rect x="1173.60" y="1421.30" width="29.40" height="1.05" fill="#796be9"/><rect x="1173.60" y="1422.30" width="29.40" height="1.05" fill="#796be9"/><rect x="1173.60" y="1423.30" width="29.40" height="1.05" fill="#796be9"/><rect x="1173.60" y="1424.30" width="29.40" height="1.05" fill="#786ae9"/><rect x="1173.60" y="1425.30" width="29.40" height="1.05" fill="#786ae9"/><rect x="1173.60" y="1426.30" width="29.40" height="1.05" fill="#786ae9"/><rect x="1173.60" y="1427.30" width="29.40" height="1.05" fill="#786ae9"/><rect x="1173.60" y="1428.30" width="29.40" height="1.05" fill="#7769e9"/><rect x="1173.60" y="1429.30" width="29.40" height="1.05" fill="#7769e9"/><rect x="1173.60" y="1430.30" width="29.40" height="1.05" fill="#7769e9"/><rect x="1173.60" y="1431.30" width="29.40" height="1.05" fill="#7769e9"/><rect x="1173.60" y="1432.30" width="29.40" height="1.05" fill="#7769e9"/><rect x="1173.60" y="1433.30" width="29.40" height="1.05" fill="#7668e9"/><rect x="1173.60" y="1434.30" width="29.40" height="1.05" fill="#7668e9"/><rect x="1173.60" y="1435.30" width="29.40" height="1.05" fill="#7668e8"/><rect x="1173.60" y="1436.30" width="29.40" height="1.05" fill="#7668e8"/><rect x="1173.60" y="1437.30" width="29.40" height="1.05" fill="#7567e8"/><rect x="1173.60" y="1438.30" width="29.40" height="1.05" fill="#7567e8"/><rect x="1173.60" y="1439.30" width="29.40" height="1.05" fill="#7567e8"/><rect x="1173.60" y="1440.30" width="29.40" height="1.05" fill="#7567e8"/><rect x="1173.60" y="1441.30" width="29.40" height="1.05" fill="#7466e8"/><rect x="1173.60" y="1442.30" width="29.40" height="1.05" fill="#7466e8"/><rect x="1173.60" y="1443.30" width="29.40" height="1.05" fill="#7466e8"/><rect x="1173.60" y="1444.30" width="29.40" height="1.05" fill="#7466e8"/><rect x="1173.60" y="1445.30" width="29.40" height="1.05" fill="#7466e8"/><rect x="1173.60" y="1446.30" width="29.40" height="1.05" fill="#7466e8"/><rect x="1173.60" y="1447.30" width="29.40" height="1.05" fill="#7466e8"/>
<rect x="1173.60" y="1305.10" width="5" height="1.4" fill="#fff" opacity="0.85"/>
<rect x="1198.00" y="1305.10" width="5" height="1.4" fill="#fff" opacity="0.85"/>
<text x="1210.30" y="1312.30" font-size="18.00" fill="#000">10</text>
<rect x="1173.60" y="1339.60" width="5" height="1.4" fill="#fff" opacity="0.85"/>
<rect x="1198.00" y="1339.60" width="5" height="1.4" fill="#fff" opacity="0.85"/>
<text x="1210.30" y="1346.80" font-size="18.00" fill="#000">5</text>
<rect x="1173.60" y="1374.30" width="5" height="1.4" fill="#fff" opacity="0.85"/>
<rect x="1198.00" y="1374.30" width="5" height="1.4" fill="#fff" opacity="0.85"/>
<text x="1210.30" y="1381.50" font-size="18.00" fill="#000">0</text>
<rect x="1173.60" y="1409.20" width="5" height="1.4" fill="#fff" opacity="0.85"/>
<rect x="1198.00" y="1409.20" width="5" height="1.4" fill="#fff" opacity="0.85"/>
<text x="1210.30" y="1416.40" font-size="18.00" fill="#000">-5</text>
<rect x="1173.60" y="1443.20" width="5" height="1.4" fill="#fff" opacity="0.85"/>
<rect x="1198.00" y="1443.20" width="5" height="1.4" fill="#fff" opacity="0.85"/>
<text x="1210.30" y="1450.40" font-size="18.00" fill="#000">-10</text>
<rect x="111.00" y="1727.00" width="7.34" height="35.00" fill="#e87a70"/><rect x="117.99" y="1727.00" width="9.39" height="35.00" fill="#55bcc0"/><rect x="127.03" y="1727.00" width="3.92" height="35.00" fill="#e87a70"/><rect x="130.60" y="1727.00" width="7.49" height="35.00" fill="#55bcc0"/><rect x="137.73" y="1727.00" width="24.14" height="35.00" fill="#e87a70"/><rect x="161.52" y="1727.00" width="2.73" height="35.00" fill="#55bcc0"/><rect x="163.90" y="1727.00" width="6.30" height="35.00" fill="url(#mix)"/><rect x="169.85" y="1727.00" width="9.86" height="35.00" fill="#55bcc0"/><rect x="179.36" y="1727.00" width="7.49" height="35.00" fill="url(#mix)"/><rect x="186.50" y="1727.00" width="34.84" height="35.00" fill="#e87a70"/><rect x="220.99" y="1727.00" width="13.43" height="35.00" fill="#55bcc0"/><rect x="234.07" y="1727.00" width="5.11" height="35.00" fill="url(#mix)"/><rect x="238.83" y="1727.00" width="12.24" height="35.00" fill="#e87a70"/><rect x="250.72" y="1727.00" width="5.11" height="35.00" fill="#55bcc0"/><rect x="255.48" y="1727.00" width="5.11" height="35.00" fill="url(#mix)"/><rect x="260.24" y="1727.00" width="3.92" height="35.00" fill="#55bcc0"/><rect x="263.80" y="1727.00" width="12.24" height="35.00" fill="#e87a70"/><rect x="275.70" y="1727.00" width="6.30" height="35.00" fill="#55bcc0"/><rect x="281.64" y="1727.00" width="5.11" height="35.00" fill="url(#mix)"/><rect x="286.40" y="1727.00" width="9.86" height="35.00" fill="#e87a70"/><rect x="295.92" y="1727.00" width="2.73" height="35.00" fill="#55bcc0"/><rect x="298.29" y="1727.00" width="9.86" height="35.00" fill="#e87a70"/><rect x="307.81" y="1727.00" width="9.86" height="35.00" fill="#55bcc0"/><rect x="317.32" y="1727.00" width="2.73" height="35.00" fill="url(#mix)"/><rect x="319.70" y="1727.00" width="11.05" height="35.00" fill="#e87a70"/><rect x="330.41" y="1727.00" width="13.43" height="35.00" fill="url(#mix)"/><rect x="343.49" y="1727.00" width="5.11" height="35.00" fill="#55bcc0"/><rect x="348.25" y="1727.00" width="5.11" height="35.00" fill="#e87a70"/><rect x="353.00" y="1727.00" width="4.72" height="35.00" fill="#55bcc0"/><rect x="357.38" y="1727.00" width="2.73" height="35.00" fill="url(#mix)"/><rect x="359.76" y="1727.00" width="6.30" height="35.00" fill="#55bcc0"/><rect x="365.70" y="1727.00" width="8.68" height="35.00" fill="#e87a70"/><rect x="374.03" y="1727.00" width="3.92" height="35.00" fill="#55bcc0"/><rect x="377.60" y="1727.00" width="3.92" height="35.00" fill="url(#mix)"/><rect x="381.17" y="1727.00" width="21.76" height="35.00" fill="#55bcc0"/><rect x="402.57" y="1727.00" width="3.92" height="35.00" fill="url(#mix)"/><rect x="406.14" y="1727.00" width="7.49" height="35.00" fill="#55bcc0"/><rect x="413.28" y="1727.00" width="5.11" height="35.00" fill="#e87a70"/><rect x="418.04" y="1727.00" width="8.68" height="35.00" fill="url(#mix)"/><rect x="426.36" y="1727.00" width="7.49" height="35.00" fill="#e87a70"/><rect x="433.50" y="1727.00" width="13.43" height="35.00" fill="#55bcc0"/><rect x="446.58" y="1727.00" width="3.92" height="35.00" fill="url(#mix)"/><rect x="450.15" y="1727.00" width="6.30" height="35.00" fill="#e87a70"/><rect x="456.09" y="1727.00" width="5.11" height="35.00" fill="url(#mix)"/><rect x="460.85" y="1727.00" width="3.92" height="35.00" fill="#55bcc0"/><rect x="464.42" y="1727.00" width="3.92" height="35.00" fill="#e87a70"/><rect x="467.99" y="1727.00" width="33.65" height="35.00" fill="#55bcc0"/><rect x="501.29" y="1727.00" width="3.92" height="35.00" fill="url(#mix)"/><rect x="504.86" y="1727.00" width="21.76" height="35.00" fill="#55bcc0"/><rect x="526.27" y="1727.00" width="3.92" height="35.00" fill="url(#mix)"/><rect x="529.83" y="1727.00" width="8.68" height="35.00" fill="#55bcc0"/><rect x="538.16" y="1727.00" width="5.11" height="35.00" fill="#e87a70"/><rect x="542.92" y="1727.00" width="15.81" height="35.00" fill="#55bcc0"/><rect x="558.38" y="1727.00" width="3.92" height="35.00" fill="url(#mix)"/><rect x="561.95" y="1727.00" width="14.62" height="35.00" fill="#55bcc0"/><rect x="576.22" y="1727.00" width="3.92" height="35.00" fill="#e87a70"/><rect x="579.79" y="1727.00" width="25.32" height="35.00" fill="#55bcc0"/><rect x="604.75" y="1727.00" width="2.73" height="35.00" fill="url(#mix)"/><rect x="607.13" y="1727.00" width="20.55" height="35.00" fill="#55bcc0"/><rect x="627.33" y="1727.00" width="30.06" height="35.00" fill="#e87a70"/><rect x="657.04" y="1727.00" width="3.92" height="35.00" fill="url(#mix)"/><rect x="660.61" y="1727.00" width="6.29" height="35.00" fill="#e87a70"/><rect x="666.55" y="1727.00" width="2.73" height="35.00" fill="#55bcc0"/><rect x="668.93" y="1727.00" width="30.06" height="35.00" fill="#e87a70"/><rect x="698.64" y="1727.00" width="2.73" height="35.00" fill="url(#mix)"/><rect x="701.01" y="1727.00" width="7.48" height="35.00" fill="#e87a70"/><rect x="708.14" y="1727.00" width="7.48" height="35.00" fill="url(#mix)"/><rect x="715.27" y="1727.00" width="11.05" height="35.00" fill="#e87a70"/><rect x="725.97" y="1727.00" width="3.92" height="35.00" fill="#55bcc0"/><rect x="729.53" y="1727.00" width="3.92" height="35.00" fill="url(#mix)"/><rect x="733.10" y="1727.00" width="131.07" height="35.00" fill="#55bcc0"/><rect x="863.82" y="1727.00" width="1.18" height="35.00" fill="#e87a70"/>
<rect x="111.00" y="1767.30" width="2.11" height="214.10" fill="#e53c25"/><rect x="112.76" y="1767.30" width="11.05" height="214.10" fill="#e5442f"/><rect x="123.46" y="1767.30" width="3.92" height="214.10" fill="#ea7462"/><rect x="127.03" y="1767.30" width="5.11" height="214.10" fill="#e64c39"/><rect x="131.79" y="1767.30" width="6.30" height="214.10" fill="#ea7462"/><rect x="137.73" y="1767.30" width="3.92" height="214.10" fill="#f0ede1"/><rect x="141.30" y="1767.30" width="7.49" height="214.10" fill="#f3c8b2"/><rect x="148.44" y="1767.30" width="8.68" height="214.10" fill="#e4e3e8"/><rect x="156.76" y="1767.30" width="6.30" height="214.10" fill="#f0ede1"/><rect x="162.71" y="1767.30" width="9.86" height="214.10" fill="#f0aa96"/><rect x="172.22" y="1767.30" width="7.49" height="214.10" fill="#f5e4cf"/><rect x="179.36" y="1767.30" width="14.62" height="214.10" fill="#f0ede1"/><rect x="193.63" y="1767.30" width="22.95" height="214.10" fill="#e4e3e8"/><rect x="216.23" y="1767.30" width="25.33" height="214.10" fill="#a69ee7"/><rect x="241.21" y="1767.30" width="9.86" height="214.10" fill="#bab5e6"/><rect x="250.72" y="1767.30" width="14.62" height="214.10" fill="#9186e8"/><rect x="264.99" y="1767.30" width="33.65" height="214.10" fill="#c5c1e7"/><rect x="298.29" y="1767.30" width="8.68" height="214.10" fill="#a69ee7"/><rect x="306.62" y="1767.30" width="39.60" height="214.10" fill="#c5c1e7"/><rect x="345.87" y="1767.30" width="54.68" height="214.10" fill="#bab5e6"/><rect x="400.20" y="1767.30" width="45.55" height="214.10" fill="#a69ee7"/><rect x="445.39" y="1767.30" width="14.62" height="214.10" fill="#bab5e6"/><rect x="459.66" y="1767.30" width="100.25" height="214.10" fill="#9b92e8"/><rect x="559.57" y="1767.30" width="68.12" height="214.10" fill="#9186e8"/><rect x="627.33" y="1767.30" width="30.06" height="214.10" fill="#a69ee7"/><rect x="657.04" y="1767.30" width="3.92" height="214.10" fill="#9186e8"/><rect x="660.61" y="1767.30" width="56.20" height="214.10" fill="#b0aae6"/><rect x="716.46" y="1767.30" width="66.90" height="214.10" fill="#9b92e8"/><rect x="783.01" y="1767.30" width="16.99" height="214.10" fill="#a69ee7"/><rect x="799.65" y="1767.30" width="38.38" height="214.10" fill="#9186e8"/><rect x="837.68" y="1767.30" width="27.32" height="214.10" fill="#7c6eea"/>
<rect x="111.00" y="1981.40" width="3.30" height="214.80" fill="#f0ede1"/><rect x="113.95" y="1981.40" width="24.14" height="214.80" fill="#a69ee7"/><rect x="137.73" y="1981.40" width="5.11" height="214.80" fill="#e4e3e8"/><rect x="142.49" y="1981.40" width="9.86" height="214.80" fill="#cfcce7"/><rect x="152.01" y="1981.40" width="11.05" height="214.80" fill="#e4e3e8"/><rect x="162.71" y="1981.40" width="47.92" height="214.80" fill="#867ae9"/><rect x="210.28" y="1981.40" width="31.27" height="214.80" fill="#a69ee7"/><rect x="241.21" y="1981.40" width="21.76" height="214.80" fill="#9186e8"/><rect x="262.61" y="1981.40" width="12.24" height="214.80" fill="#c5c1e7"/><rect x="274.51" y="1981.40" width="24.14" height="214.80" fill="#a69ee7"/><rect x="298.29" y="1981.40" width="7.49" height="214.80" fill="#cfcce7"/><rect x="305.43" y="1981.40" width="51.42" height="214.80" fill="#9186e8"/><rect x="356.50" y="1981.40" width="9.55" height="214.80" fill="#7c6eea"/><rect x="365.70" y="1981.40" width="24.14" height="214.80" fill="#9b92e8"/><rect x="389.49" y="1981.40" width="56.25" height="214.80" fill="#a69ee7"/><rect x="445.39" y="1981.40" width="36.03" height="214.80" fill="#9186e8"/><rect x="481.07" y="1981.40" width="78.85" height="214.80" fill="#9b92e8"/><rect x="559.57" y="1981.40" width="43.28" height="214.80" fill="#9186e8"/><rect x="602.50" y="1981.40" width="23.99" height="214.80" fill="#9b92e8"/><rect x="626.14" y="1981.40" width="31.25" height="214.80" fill="#7c6eea"/><rect x="657.04" y="1981.40" width="3.92" height="214.80" fill="#a69ee7"/><rect x="660.61" y="1981.40" width="140.58" height="214.80" fill="#7c6eea"/><rect x="800.84" y="1981.40" width="64.16" height="214.80" fill="#867ae9"/>
<rect x="111.00" y="2196.20" width="31.84" height="212.80" fill="#a69ee7"/><rect x="142.49" y="2196.20" width="70.52" height="212.80" fill="#867ae9"/><rect x="212.66" y="2196.20" width="5.11" height="212.80" fill="#cfcce7"/><rect x="217.42" y="2196.20" width="19.38" height="212.80" fill="#b0aae6"/><rect x="236.45" y="2196.20" width="14.62" height="212.80" fill="#cfcce7"/><rect x="250.72" y="2196.20" width="14.62" height="212.80" fill="#eae8e5"/><rect x="264.99" y="2196.20" width="91.86" height="212.80" fill="#9186e8"/><rect x="356.50" y="2196.20" width="9.55" height="212.80" fill="#7c6eea"/><rect x="365.70" y="2196.20" width="34.84" height="212.80" fill="#9b92e8"/><rect x="400.20" y="2196.20" width="45.55" height="212.80" fill="#a69ee7"/><rect x="445.39" y="2196.20" width="36.03" height="212.80" fill="#9186e8"/><rect x="481.07" y="2196.20" width="78.85" height="212.80" fill="#9b92e8"/><rect x="559.57" y="2196.20" width="43.28" height="212.80" fill="#9186e8"/><rect x="602.50" y="2196.20" width="22.81" height="212.80" fill="#9b92e8"/><rect x="624.96" y="2196.20" width="32.44" height="212.80" fill="#a69ee7"/><rect x="657.04" y="2196.20" width="144.14" height="212.80" fill="#7c6eea"/><rect x="800.84" y="2196.20" width="64.16" height="212.80" fill="#867ae9"/>
<text x="872.00" y="1755.00" font-size="28.80" fill="#000">Group</text>
<text x="872.00" y="1885.35" font-size="28.80" fill="#000">Fusobacterium</text>
<text x="872.00" y="2099.80" font-size="28.80" fill="#000">Peptostreptococcus</text>
<text x="872.00" y="2313.60" font-size="28.80" fill="#000">Olsenella</text>
<path d="M107.9 2088.8H77.3V2302.6H107.9M107.9 1874.3H38.6V2195.7H77.3" stroke="#3a3a3a" stroke-width="1.30" fill="none" stroke-linecap="square"/>
<path d="M141.6 1655.6L313.9 1655.6M141.6 1655.6L141.6 1675.3M313.9 1655.6L313.9 1685.1M119.8 1675.3L164.3 1675.3M119.8 1675.3L119.8 1691.6M164.3 1675.3L164.3 1686.2M113.3 1691.6L126.8 1691.6M113.3 1691.6L113.3 1712.0M126.8 1691.6L126.8 1705.0M146.0 1686.2L182.4 1686.2M146.0 1686.2L146.0 1700.3M182.4 1686.2L182.4 1699.7M140.3 1700.3L151.9 1700.3M140.3 1700.3L140.3 1712.0M151.9 1700.3L151.9 1710.0M171.5 1699.7L194.0 1699.7M171.5 1699.7L171.5 1708.0M194.0 1699.7L194.0 1712.3M241.9 1685.1L385.2 1685.1M241.9 1685.1L241.9 1698.8M385.2 1685.1L385.2 1688.3M226.7 1698.8L257.2 1698.8M226.7 1698.8L226.7 1705.8M257.2 1698.8L257.2 1712.0M215.8 1705.8L238.4 1705.8M215.8 1705.8L215.8 1714.0M238.4 1705.8L238.4 1712.0M277.3 1688.3L493.6 1688.3M277.3 1688.3L277.3 1694.9M493.6 1688.3L493.6 1704.3M265.3 1694.9L290.3 1694.9M265.3 1694.9L265.3 1710.1M290.3 1694.9L290.3 1704.7M278.4 1704.7L303.0 1704.7M278.4 1704.7L278.4 1714.0M303.0 1704.7L303.0 1712.0M268.5 1710.1L287.1 1710.1M268.5 1710.1L268.5 1716.0M287.1 1710.1L287.1 1716.0M343.8 1704.3L643.4 1704.3M343.8 1704.3L343.8 1714.5M643.4 1704.3L643.4 1705.8M319.8 1714.5L358.0 1714.5M319.8 1714.5L319.8 1718.0M358.0 1714.5L358.0 1718.0M390.5 1710.1L502.7 1710.1M390.5 1710.1L390.5 1716.0M502.7 1710.1L502.7 1716.0M503.8 1711.7L659.3 1711.7M503.8 1711.7L503.8 1716.0M659.3 1711.7L659.3 1720.0M515.8 1717.8L587.8 1717.8M515.8 1717.8L515.8 1720.0M587.8 1717.8L587.8 1720.0M643.4 1705.8L783.2 1705.8M643.4 1705.8L643.4 1711.2M783.2 1705.8L783.2 1713.4M725.4 1713.4L841.0 1713.4M725.4 1713.4L725.4 1716.0M841.0 1713.4L841.0 1717.0M672.0 1717.8L787.5 1717.8M672.0 1717.8L672.0 1720.0M787.5 1717.8L787.5 1720.0M823.5 1718.9L857.3 1718.9M823.5 1718.9L823.5 1721.0M857.3 1718.9L857.3 1721.0" stroke="#2e2e2e" stroke-width="1.20" fill="none" stroke-linecap="square"/>
<path d="M111.9 1710.5L111.9 1723.2M113.8 1715.1L113.8 1723.2M115.7 1712.0L115.7 1723.2M113.8 1708.6L115.7 1708.6M113.8 1708.6L113.8 1715.1M115.7 1708.6L115.7 1712.0M111.9 1705.0L114.8 1705.0M111.9 1705.0L111.9 1710.5M114.8 1705.0L114.8 1708.6M113.4 1703.7L113.4 1705.0M117.6 1710.5L117.6 1723.2M119.5 1718.7L119.5 1723.2M121.3 1718.0L121.3 1723.2M119.5 1715.8L121.3 1715.8M119.5 1715.8L119.5 1718.7M121.3 1715.8L121.3 1718.0M123.2 1714.4L123.2 1723.2M120.4 1710.4L123.2 1710.4M120.4 1710.4L120.4 1715.8M123.2 1710.4L123.2 1714.4M117.6 1709.2L121.8 1709.2M117.6 1709.2L117.6 1710.5M121.8 1709.2L121.8 1710.4M125.1 1718.4L125.1 1723.2M127.0 1719.4L127.0 1723.2M128.9 1719.8L128.9 1723.2M127.0 1717.4L128.9 1717.4M127.0 1717.4L127.0 1719.4M128.9 1717.4L128.9 1719.8M125.1 1716.5L127.9 1716.5M125.1 1716.5L125.1 1718.4M127.9 1716.5L127.9 1717.4M130.7 1717.5L130.7 1723.2M126.5 1713.0L130.7 1713.0M126.5 1713.0L126.5 1716.5M130.7 1713.0L130.7 1717.5M119.7 1705.1L128.6 1705.1M119.7 1705.1L119.7 1709.2M128.6 1705.1L128.6 1713.0M124.2 1704.6L124.2 1705.1M132.6 1714.8L132.6 1723.2M134.5 1718.3L134.5 1723.2M136.4 1717.2L136.4 1723.2M134.5 1715.6L136.4 1715.6M134.5 1715.6L134.5 1718.3M136.4 1715.6L136.4 1717.2M132.6 1710.4L135.4 1710.4M132.6 1710.4L132.6 1714.8M135.4 1710.4L135.4 1715.6M138.3 1715.3L138.3 1723.2M140.1 1716.9L140.1 1723.2M138.3 1712.4L140.1 1712.4M138.3 1712.4L138.3 1715.3M140.1 1712.4L140.1 1716.9M134.0 1705.9L139.2 1705.9M134.0 1705.9L134.0 1710.4M139.2 1705.9L139.2 1712.4M136.6 1704.7L136.6 1705.9M142.0 1713.5L142.0 1723.2M143.9 1711.8L143.9 1723.2M142.0 1710.5L143.9 1710.5M142.0 1710.5L142.0 1713.5M143.9 1710.5L143.9 1711.8M145.8 1712.7L145.8 1723.2M147.7 1711.9L147.7 1723.2M149.5 1716.5L149.5 1723.2M147.7 1711.0L149.5 1711.0M147.7 1711.0L147.7 1711.9M149.5 1711.0L149.5 1716.5M145.8 1709.5L148.6 1709.5M145.8 1709.5L145.8 1712.7M148.6 1709.5L148.6 1711.0M151.4 1713.2L151.4 1723.2M147.2 1708.7L151.4 1708.7M147.2 1708.7L147.2 1709.5M151.4 1708.7L151.4 1713.2M143.0 1706.5L149.3 1706.5M143.0 1706.5L143.0 1710.5M149.3 1706.5L149.3 1708.7M146.1 1705.9L146.1 1706.5M153.3 1712.1L153.3 1723.2M155.2 1711.9L155.2 1723.2M153.3 1710.6L155.2 1710.6M153.3 1710.6L153.3 1712.1M155.2 1710.6L155.2 1711.9M157.1 1711.4L157.1 1723.2M154.2 1709.7L157.1 1709.7M154.2 1709.7L154.2 1710.6M157.1 1709.7L157.1 1711.4M158.9 1711.5L158.9 1723.2M155.7 1707.3L158.9 1707.3M155.7 1707.3L155.7 1709.7M158.9 1707.3L158.9 1711.5M157.3 1706.6L157.3 1707.3M160.8 1711.2L160.8 1723.2M162.7 1707.8L162.7 1723.2M160.8 1706.7L162.7 1706.7M160.8 1706.7L160.8 1711.2M162.7 1706.7L162.7 1707.8M161.8 1705.4L161.8 1706.7M164.6 1708.9L164.6 1723.2M166.5 1715.5L166.5 1723.2M168.3 1721.6L168.3 1723.2M170.2 1721.5L170.2 1723.2M168.3 1720.5L170.2 1720.5M168.3 1720.5L168.3 1721.6M170.2 1720.5L170.2 1721.5M172.1 1721.2L172.1 1723.2M174.0 1721.3L174.0 1723.2M172.1 1719.9L174.0 1719.9M172.1 1719.9L172.1 1721.2M174.0 1719.9L174.0 1721.3M169.3 1718.7L173.0 1718.7M169.3 1718.7L169.3 1720.5M173.0 1718.7L173.0 1719.9M175.9 1720.4L175.9 1723.2M177.8 1719.9L177.8 1723.2M175.9 1718.2L177.8 1718.2M175.9 1718.2L175.9 1720.4M177.8 1718.2L177.8 1719.9M171.2 1715.6L176.8 1715.6M171.2 1715.6L171.2 1718.7M176.8 1715.6L176.8 1718.2M166.5 1714.0L174.0 1714.0M166.5 1714.0L166.5 1715.5M174.0 1714.0L174.0 1715.6M164.6 1706.9L170.2 1706.9M164.6 1706.9L164.6 1708.9M170.2 1706.9L170.2 1714.0M167.4 1705.5L167.4 1706.9M179.6 1719.6L179.6 1723.2M181.5 1719.5L181.5 1723.2M179.6 1716.8L181.5 1716.8M179.6 1716.8L179.6 1719.6M181.5 1716.8L181.5 1719.5M183.4 1716.5L183.4 1723.2M180.6 1712.2L183.4 1712.2M180.6 1712.2L180.6 1716.8M183.4 1712.2L183.4 1716.5M185.3 1711.3L185.3 1723.2M182.0 1709.4L185.3 1709.4M182.0 1709.4L182.0 1712.2M185.3 1709.4L185.3 1711.3M187.2 1717.2L187.2 1723.2M189.0 1717.0L189.0 1723.2M187.2 1714.4L189.0 1714.4M187.2 1714.4L187.2 1717.2M189.0 1714.4L189.0 1717.0M183.6 1707.2L188.1 1707.2M183.6 1707.2L183.6 1709.4M188.1 1707.2L188.1 1714.4M185.9 1706.6L185.9 1707.2M190.9 1717.3L190.9 1723.2M192.8 1715.9L192.8 1723.2M190.9 1712.8L192.8 1712.8M190.9 1712.8L190.9 1717.3M192.8 1712.8L192.8 1715.9M194.7 1714.7L194.7 1723.2M196.6 1719.0L196.6 1723.2M198.4 1719.9L198.4 1723.2M200.3 1721.3L200.3 1723.2M202.2 1720.9L202.2 1723.2M200.3 1720.0L202.2 1720.0M200.3 1720.0L200.3 1721.3M202.2 1720.0L202.2 1720.9M198.4 1718.9L201.3 1718.9M198.4 1718.9L198.4 1719.9M201.3 1718.9L201.3 1720.0M196.6 1716.7L199.8 1716.7M196.6 1716.7L196.6 1719.0M199.8 1716.7L199.8 1718.9M194.7 1711.8L198.2 1711.8M194.7 1711.8L194.7 1714.7M198.2 1711.8L198.2 1716.7M191.9 1705.9L196.4 1705.9M191.9 1705.9L191.9 1712.8M196.4 1705.9L196.4 1711.8M194.1 1704.6L194.1 1705.9M204.1 1710.8L204.1 1723.2M206.0 1717.7L206.0 1723.2M207.8 1718.8L207.8 1723.2M206.0 1715.4L207.8 1715.4M206.0 1715.4L206.0 1717.7M207.8 1715.4L207.8 1718.8M204.1 1709.5L206.9 1709.5M204.1 1709.5L204.1 1710.8M206.9 1709.5L206.9 1715.4M205.5 1708.8L205.5 1709.5M209.7 1716.2L209.7 1723.2M211.6 1716.3L211.6 1723.2M209.7 1714.7L211.6 1714.7M209.7 1714.7L209.7 1716.2M211.6 1714.7L211.6 1716.3M213.5 1721.3L213.5 1723.2M215.4 1721.7L215.4 1723.2M217.2 1721.6L217.2 1723.2M215.4 1720.7L217.2 1720.7M215.4 1720.7L215.4 1721.7M217.2 1720.7L217.2 1721.6M213.5 1719.8L216.3 1719.8M213.5 1719.8L213.5 1721.3M216.3 1719.8L216.3 1720.7M219.1 1719.6L219.1 1723.2M214.9 1718.2L219.1 1718.2M214.9 1718.2L214.9 1719.8M219.1 1718.2L219.1 1719.6M221.0 1719.5L221.0 1723.2M222.9 1719.6L222.9 1723.2M221.0 1718.6L222.9 1718.6M221.0 1718.6L221.0 1719.5M222.9 1718.6L222.9 1719.6M217.0 1715.1L221.9 1715.1M217.0 1715.1L217.0 1718.2M221.9 1715.1L221.9 1718.6M224.8 1714.4L224.8 1723.2M219.5 1711.8L224.8 1711.8M219.5 1711.8L219.5 1715.1M224.8 1711.8L224.8 1714.4M210.7 1710.7L222.1 1710.7M210.7 1710.7L210.7 1714.7M222.1 1710.7L222.1 1711.8M216.4 1709.4L216.4 1710.7M226.6 1712.0L226.6 1723.2M228.5 1714.2L228.5 1723.2M226.6 1709.4L228.5 1709.4M226.6 1709.4L226.6 1712.0M228.5 1709.4L228.5 1714.2M227.6 1708.0L227.6 1709.4M230.4 1714.7L230.4 1723.2M232.3 1713.5L232.3 1723.2M230.4 1711.6L232.3 1711.6M230.4 1711.6L230.4 1714.7M232.3 1711.6L232.3 1713.5M234.2 1719.1L234.2 1723.2M236.0 1721.3L236.0 1723.2M237.9 1721.1L237.9 1723.2M236.0 1720.0L237.9 1720.0M236.0 1720.0L236.0 1721.3M237.9 1720.0L237.9 1721.1M234.2 1717.9L237.0 1717.9M234.2 1717.9L234.2 1719.1M237.0 1717.9L237.0 1720.0M239.8 1720.0L239.8 1723.2M241.7 1721.2L241.7 1723.2M243.6 1721.5L243.6 1723.2M241.7 1720.2L243.6 1720.2M241.7 1720.2L241.7 1721.2M243.6 1720.2L243.6 1721.5M239.8 1718.5L242.6 1718.5M239.8 1718.5L239.8 1720.0M242.6 1718.5L242.6 1720.2M245.4 1718.3L245.4 1723.2M241.2 1716.6L245.4 1716.6M241.2 1716.6L241.2 1718.5M245.4 1716.6L245.4 1718.3M235.6 1715.1L243.3 1715.1M235.6 1715.1L235.6 1717.9M243.3 1715.1L243.3 1716.6M231.3 1710.7L239.4 1710.7M231.3 1710.7L231.3 1711.6M239.4 1710.7L239.4 1715.1M235.4 1709.8L235.4 1710.7M247.3 1714.5L247.3 1723.2M249.2 1718.9L249.2 1723.2M251.1 1718.5L251.1 1723.2M249.2 1717.5L251.1 1717.5M249.2 1717.5L249.2 1718.9M251.1 1717.5L251.1 1718.5M247.3 1713.1L250.1 1713.1M247.3 1713.1L247.3 1714.5M250.1 1713.1L250.1 1717.5M248.7 1711.7L248.7 1713.1M253.0 1720.1L253.0 1723.2M254.8 1721.3L254.8 1723.2M256.7 1721.3L256.7 1723.2M254.8 1719.9L256.7 1719.9M254.8 1719.9L254.8 1721.3M256.7 1719.9L256.7 1721.3M253.0 1717.7L255.8 1717.7M253.0 1717.7L253.0 1720.1M255.8 1717.7L255.8 1719.9M258.6 1717.6L258.6 1723.2M254.4 1716.6L258.6 1716.6M254.4 1716.6L254.4 1717.7M258.6 1716.6L258.6 1717.6M260.5 1715.8L260.5 1723.2M256.5 1713.5L260.5 1713.5M256.5 1713.5L256.5 1716.6M260.5 1713.5L260.5 1715.8M258.5 1712.1L258.5 1713.5M262.4 1713.7L262.4 1723.2M264.2 1716.9L264.2 1723.2M262.4 1711.9L264.2 1711.9M262.4 1711.9L262.4 1713.7M264.2 1711.9L264.2 1716.9M263.3 1710.8L263.3 1711.9M266.1 1716.0L266.1 1723.2M268.0 1719.6L268.0 1723.2M269.9 1719.8L269.9 1723.2M268.0 1718.6L269.9 1718.6M268.0 1718.6L268.0 1719.6M269.9 1718.6L269.9 1719.8M271.8 1719.7L271.8 1723.2M273.6 1721.6L273.6 1723.2M275.5 1721.4L275.5 1723.2M273.6 1720.5L275.5 1720.5M273.6 1720.5L273.6 1721.6M275.5 1720.5L275.5 1721.4M271.8 1718.4L274.6 1718.4M271.8 1718.4L271.8 1719.7M274.6 1718.4L274.6 1720.5M268.9 1716.1L273.2 1716.1M268.9 1716.1L268.9 1718.6M273.2 1716.1L273.2 1718.4M266.1 1712.7L271.1 1712.7M266.1 1712.7L266.1 1716.0M271.1 1712.7L271.1 1716.1M268.6 1711.7L268.6 1712.7M277.4 1720.8L277.4 1723.2M279.3 1720.8L279.3 1723.2M277.4 1719.2L279.3 1719.2M277.4 1719.2L277.4 1720.8M279.3 1719.2L279.3 1720.8M281.2 1719.9L281.2 1723.2M278.3 1717.4L281.2 1717.4M278.3 1717.4L278.3 1719.2M281.2 1717.4L281.2 1719.9M283.0 1720.3L283.0 1723.2M284.9 1721.7L284.9 1723.2M286.8 1721.6L286.8 1723.2M284.9 1720.7L286.8 1720.7M284.9 1720.7L284.9 1721.7M286.8 1720.7L286.8 1721.6M283.0 1719.3L285.9 1719.3M283.0 1719.3L283.0 1720.3M285.9 1719.3L285.9 1720.7M279.8 1716.5L284.5 1716.5M279.8 1716.5L279.8 1717.4M284.5 1716.5L284.5 1719.3M288.7 1718.8L288.7 1723.2M290.6 1718.3L290.6 1723.2M292.4 1719.7L292.4 1723.2M290.6 1717.0L292.4 1717.0M290.6 1717.0L290.6 1718.3M292.4 1717.0L292.4 1719.7M288.7 1715.6L291.5 1715.6M288.7 1715.6L288.7 1718.8M291.5 1715.6L291.5 1717.0M282.1 1712.8L290.1 1712.8M282.1 1712.8L282.1 1716.5M290.1 1712.8L290.1 1715.6M286.1 1711.8L286.1 1712.8M294.3 1714.6L294.3 1723.2M296.2 1718.6L296.2 1723.2M298.1 1718.4L298.1 1723.2M296.2 1716.5L298.1 1716.5M296.2 1716.5L296.2 1718.6M298.1 1716.5L298.1 1718.4M300.0 1718.2L300.0 1723.2M297.1 1714.8L300.0 1714.8M297.1 1714.8L297.1 1716.5M300.0 1714.8L300.0 1718.2M294.3 1711.8L298.6 1711.8M294.3 1711.8L294.3 1714.6M298.6 1711.8L298.6 1714.8M296.4 1710.6L296.4 1711.8M301.9 1718.7L301.9 1723.2M303.7 1720.5L303.7 1723.2M305.6 1721.2L305.6 1723.2M307.5 1720.7L307.5 1723.2M305.6 1719.8L307.5 1719.8M305.6 1719.8L305.6 1721.2M307.5 1719.8L307.5 1720.7M303.7 1718.9L306.6 1718.9M303.7 1718.9L303.7 1720.5M306.6 1718.9L306.6 1719.8M301.9 1717.7L305.1 1717.7M301.9 1717.7L301.9 1718.7M305.1 1717.7L305.1 1718.9M303.5 1716.3L303.5 1717.7M309.4 1719.9L309.4 1723.2M311.3 1720.8L311.3 1723.2M309.4 1718.9L311.3 1718.9M309.4 1718.9L309.4 1719.9M311.3 1718.9L311.3 1720.8M313.1 1719.2L313.1 1723.2M310.3 1717.5L313.1 1717.5M310.3 1717.5L310.3 1718.9M313.1 1717.5L313.1 1719.2M311.7 1716.4L311.7 1717.5M315.0 1721.5L315.0 1723.2M316.9 1721.4L316.9 1723.2M315.0 1720.3L316.9 1720.3M315.0 1720.3L315.0 1721.5M316.9 1720.3L316.9 1721.4M318.8 1721.7L318.8 1723.2M320.7 1721.8L320.7 1723.2M318.8 1720.8L320.7 1720.8M318.8 1720.8L318.8 1721.7M320.7 1720.8L320.7 1721.8M316.0 1719.2L319.7 1719.2M316.0 1719.2L316.0 1720.3M319.7 1719.2L319.7 1720.8M322.5 1721.7L322.5 1723.2M324.4 1721.8L324.4 1723.2M322.5 1720.8L324.4 1720.8M322.5 1720.8L322.5 1721.7M324.4 1720.8L324.4 1721.8M326.3 1720.6L326.3 1723.2M323.5 1719.6L326.3 1719.6M323.5 1719.6L323.5 1720.8M326.3 1719.6L326.3 1720.6M328.2 1721.0L328.2 1723.2M330.1 1721.0L330.1 1723.2M328.2 1719.9L330.1 1719.9M328.2 1719.9L328.2 1721.0M330.1 1719.9L330.1 1721.0M324.9 1718.0L329.1 1718.0M324.9 1718.0L324.9 1719.6M329.1 1718.0L329.1 1719.9M317.8 1717.0L327.0 1717.0M317.8 1717.0L317.8 1719.2M327.0 1717.0L327.0 1718.0M322.4 1716.1L322.4 1717.0M331.9 1720.3L331.9 1723.2M333.8 1720.6L333.8 1723.2M335.7 1721.9L335.7 1723.2M337.6 1721.8L337.6 1723.2M335.7 1721.0L337.6 1721.0M335.7 1721.0L335.7 1721.9M337.6 1721.0L337.6 1721.8M333.8 1719.5L336.6 1719.5M333.8 1719.5L333.8 1720.6M336.6 1719.5L336.6 1721.0M331.9 1717.9L335.2 1717.9M331.9 1717.9L331.9 1720.3M335.2 1717.9L335.2 1719.5M333.6 1716.6L333.6 1717.9M339.5 1722.6L339.5 1723.2M341.3 1722.7L341.3 1723.2M339.5 1721.8L341.3 1721.8M339.5 1721.8L339.5 1722.6M341.3 1721.8L341.3 1722.7M343.2 1721.8L343.2 1723.2M340.4 1720.9L343.2 1720.9M340.4 1720.9L340.4 1721.8M343.2 1720.9L343.2 1721.8M345.1 1721.1L345.1 1723.2M341.8 1719.8L345.1 1719.8M341.8 1719.8L341.8 1720.9M345.1 1719.8L345.1 1721.1M347.0 1721.8L347.0 1723.2M348.9 1721.8L348.9 1723.2M347.0 1720.9L348.9 1720.9M347.0 1720.9L347.0 1721.8M348.9 1720.9L348.9 1721.8M350.7 1721.6L350.7 1723.2M352.6 1721.5L352.6 1723.2M350.7 1720.5L352.6 1720.5M350.7 1720.5L350.7 1721.6M352.6 1720.5L352.6 1721.5M347.9 1719.4L351.7 1719.4M347.9 1719.4L347.9 1720.9M351.7 1719.4L351.7 1720.5M343.5 1717.5L349.8 1717.5M343.5 1717.5L343.5 1719.8M349.8 1717.5L349.8 1719.4M346.6 1716.9L346.6 1717.5M354.5 1720.1L354.5 1723.2M356.4 1721.5L356.4 1723.2M358.3 1721.9L358.3 1723.2M360.1 1721.9L360.1 1723.2M358.3 1721.0L360.1 1721.0M358.3 1721.0L358.3 1721.9M360.1 1721.0L360.1 1721.9M356.4 1720.1L359.2 1720.1M356.4 1720.1L356.4 1721.5M359.2 1720.1L359.2 1721.0M354.5 1718.7L357.8 1718.7M354.5 1718.7L354.5 1720.1M357.8 1718.7L357.8 1720.1M356.1 1717.6L356.1 1718.7M362.0 1722.5L362.0 1723.2M363.9 1722.4L363.9 1723.2M362.0 1721.6L363.9 1721.6M362.0 1721.6L362.0 1722.5M363.9 1721.6L363.9 1722.4M365.8 1721.6L365.8 1723.2M363.0 1720.7L365.8 1720.7M363.0 1720.7L363.0 1721.6M365.8 1720.7L365.8 1721.6M367.7 1720.7L367.7 1723.2M369.5 1720.8L369.5 1723.2M367.7 1719.7L369.5 1719.7M367.7 1719.7L367.7 1720.7M369.5 1719.7L369.5 1720.8M364.4 1718.7L368.6 1718.7M364.4 1718.7L364.4 1720.7M368.6 1718.7L368.6 1719.7M371.4 1720.3L371.4 1723.2M373.3 1720.3L373.3 1723.2M371.4 1719.0L373.3 1719.0M371.4 1719.0L371.4 1720.3M373.3 1719.0L373.3 1720.3M366.5 1717.3L372.4 1717.3M366.5 1717.3L366.5 1718.7M372.4 1717.3L372.4 1719.0M369.4 1716.6L369.4 1717.3M375.2 1721.6L375.2 1723.2M377.1 1722.1L377.1 1723.2M378.9 1722.2L378.9 1723.2M377.1 1721.3L378.9 1721.3M377.1 1721.3L377.1 1722.1M378.9 1721.3L378.9 1722.2M375.2 1720.4L378.0 1720.4M375.2 1720.4L375.2 1721.6M378.0 1720.4L378.0 1721.3M380.8 1720.5L380.8 1723.2M382.7 1721.9L382.7 1723.2M384.6 1722.8L384.6 1723.2M386.5 1722.8L386.5 1723.2M384.6 1721.9L386.5 1721.9M384.6 1721.9L384.6 1722.8M386.5 1721.9L386.5 1722.8M382.7 1720.9L385.5 1720.9M382.7 1720.9L382.7 1721.9M385.5 1720.9L385.5 1721.9M380.8 1719.4L384.1 1719.4M380.8 1719.4L380.8 1720.5M384.1 1719.4L384.1 1720.9M376.6 1718.3L382.5 1718.3M376.6 1718.3L376.6 1720.4M382.5 1718.3L382.5 1719.4M379.5 1717.3L379.5 1718.3M388.3 1719.5L388.3 1723.2M390.2 1719.8L390.2 1723.2M388.3 1718.3L390.2 1718.3M388.3 1718.3L388.3 1719.5M390.2 1718.3L390.2 1719.8M389.3 1717.4L389.3 1718.3M392.1 1720.7L392.1 1723.2M394.0 1721.7L394.0 1723.2M395.9 1721.6L395.9 1723.2M394.0 1720.7L395.9 1720.7M394.0 1720.7L394.0 1721.7M395.9 1720.7L395.9 1721.6M392.1 1719.0L394.9 1719.0M392.1 1719.0L392.1 1720.7M394.9 1719.0L394.9 1720.7M397.7 1721.6L397.7 1723.2M399.6 1721.6L399.6 1723.2M397.7 1720.6L399.6 1720.6M397.7 1720.6L397.7 1721.6M399.6 1720.6L399.6 1721.6M401.5 1722.8L401.5 1723.2M403.4 1722.8L403.4 1723.2M401.5 1721.9L403.4 1721.9M401.5 1721.9L401.5 1722.8M403.4 1721.9L403.4 1722.8M405.3 1721.8L405.3 1723.2M402.4 1720.9L405.3 1720.9M402.4 1720.9L402.4 1721.9M405.3 1720.9L405.3 1721.8M398.7 1719.5L403.9 1719.5M398.7 1719.5L398.7 1720.6M403.9 1719.5L403.9 1720.9M393.5 1717.7L401.3 1717.7M393.5 1717.7L393.5 1719.0M401.3 1717.7L401.3 1719.5M397.4 1716.4L397.4 1717.7M407.1 1721.5L407.1 1723.2M409.0 1722.4L409.0 1723.2M410.9 1722.5L410.9 1723.2M409.0 1721.6L410.9 1721.6M409.0 1721.6L409.0 1722.4M410.9 1721.6L410.9 1722.5M407.1 1720.7L410.0 1720.7M407.1 1720.7L407.1 1721.5M410.0 1720.7L410.0 1721.6M412.8 1722.9L412.8 1723.2M414.7 1723.6L414.7 1723.2M416.5 1723.6L416.5 1723.2M414.7 1722.7L416.5 1722.7M414.7 1722.7L414.7 1723.6M416.5 1722.7L416.5 1723.6M412.8 1721.9L415.6 1721.9M412.8 1721.9L412.8 1722.9M415.6 1721.9L415.6 1722.7M418.4 1721.7L418.4 1723.2M414.2 1720.8L418.4 1720.8M414.2 1720.8L414.2 1721.9M418.4 1720.8L418.4 1721.7M408.6 1719.2L416.3 1719.2M408.6 1719.2L408.6 1720.7M416.3 1719.2L416.3 1720.8M420.3 1719.6L420.3 1723.2M412.4 1718.3L420.3 1718.3M412.4 1718.3L412.4 1719.2M420.3 1718.3L420.3 1719.6M416.4 1717.6L416.4 1718.3M422.2 1721.6L422.2 1723.2M424.1 1722.4L424.1 1723.2M426.0 1722.4L426.0 1723.2M424.1 1721.6L426.0 1721.6M424.1 1721.6L424.1 1722.4M426.0 1721.6L426.0 1722.4M422.2 1720.7L425.0 1720.7M422.2 1720.7L422.2 1721.6M425.0 1720.7L425.0 1721.6M427.8 1722.0L427.8 1723.2M429.7 1721.9L429.7 1723.2M427.8 1721.1L429.7 1721.1M427.8 1721.1L427.8 1722.0M429.7 1721.1L429.7 1721.9M431.6 1721.5L431.6 1723.2M428.8 1720.3L431.6 1720.3M428.8 1720.3L428.8 1721.1M431.6 1720.3L431.6 1721.5M423.6 1719.0L430.2 1719.0M423.6 1719.0L423.6 1720.7M430.2 1719.0L430.2 1720.3M426.9 1718.2L426.9 1719.0M433.5 1719.9L433.5 1723.2M435.4 1720.0L435.4 1723.2M433.5 1718.2L435.4 1718.2M433.5 1718.2L433.5 1719.9M435.4 1718.2L435.4 1720.0M437.2 1722.0L437.2 1723.2M439.1 1722.0L439.1 1723.2M437.2 1721.0L439.1 1721.0M437.2 1721.0L437.2 1722.0M439.1 1721.0L439.1 1722.0M441.0 1721.4L441.0 1723.2M442.9 1722.1L442.9 1723.2M444.8 1723.0L444.8 1723.2M446.6 1723.1L446.6 1723.2M444.8 1722.1L446.6 1722.1M444.8 1722.1L444.8 1723.0M446.6 1722.1L446.6 1723.1M442.9 1721.1L445.7 1721.1M442.9 1721.1L442.9 1722.1M445.7 1721.1L445.7 1722.1M441.0 1720.2L444.3 1720.2M441.0 1720.2L441.0 1721.4M444.3 1720.2L444.3 1721.1M438.2 1719.4L442.6 1719.4M438.2 1719.4L438.2 1721.0M442.6 1719.4L442.6 1720.2M434.4 1717.0L440.4 1717.0M434.4 1717.0L434.4 1718.2M440.4 1717.0L440.4 1719.4M437.4 1715.6L437.4 1717.0M448.5 1721.3L448.5 1723.2M450.4 1722.1L450.4 1723.2M452.3 1722.2L452.3 1723.2M450.4 1721.2L452.3 1721.2M450.4 1721.2L450.4 1722.1M452.3 1721.2L452.3 1722.2M448.5 1720.2L451.3 1720.2M448.5 1720.2L448.5 1721.3M451.3 1720.2L451.3 1721.2M454.2 1720.5L454.2 1723.2M449.9 1719.3L454.2 1719.3M449.9 1719.3L449.9 1720.2M454.2 1719.3L454.2 1720.5M456.0 1720.9L456.0 1723.2M457.9 1720.5L457.9 1723.2M456.0 1719.0L457.9 1719.0M456.0 1719.0L456.0 1720.9M457.9 1719.0L457.9 1720.5M452.0 1717.9L457.0 1717.9M452.0 1717.9L452.0 1719.3M457.0 1717.9L457.0 1719.0M454.5 1717.3L454.5 1717.9M459.8 1719.5L459.8 1723.2M461.7 1721.5L461.7 1723.2M463.6 1722.3L463.6 1723.2M465.4 1722.4L465.4 1723.2M463.6 1721.5L465.4 1721.5M463.6 1721.5L463.6 1722.3M465.4 1721.5L465.4 1722.4M461.7 1720.4L464.5 1720.4M461.7 1720.4L461.7 1721.5M464.5 1720.4L464.5 1721.5M459.8 1718.5L463.1 1718.5M459.8 1718.5L459.8 1719.5M463.1 1718.5L463.1 1720.4M467.3 1721.5L467.3 1723.2M469.2 1722.3L469.2 1723.2M471.1 1722.3L471.1 1723.2M469.2 1721.4L471.1 1721.4M469.2 1721.4L469.2 1722.3M471.1 1721.4L471.1 1722.3M467.3 1720.1L470.1 1720.1M467.3 1720.1L467.3 1721.5M470.1 1720.1L470.1 1721.4M461.4 1717.6L468.7 1717.6M461.4 1717.6L461.4 1718.5M468.7 1717.6L468.7 1720.1M465.1 1716.7L465.1 1717.6M473.0 1719.9L473.0 1723.2M474.8 1722.4L474.8 1723.2M476.7 1722.5L476.7 1723.2M474.8 1721.6L476.7 1721.6M474.8 1721.6L474.8 1722.4M476.7 1721.6L476.7 1722.5M478.6 1722.4L478.6 1723.2M480.5 1722.5L480.5 1723.2M478.6 1721.6L480.5 1721.6M478.6 1721.6L478.6 1722.4M480.5 1721.6L480.5 1722.5M475.8 1720.6L479.5 1720.6M475.8 1720.6L475.8 1721.6M479.5 1720.6L479.5 1721.6M473.0 1718.5L477.7 1718.5M473.0 1718.5L473.0 1719.9M477.7 1718.5L477.7 1720.6M475.3 1717.1L475.3 1718.5M482.4 1721.7L482.4 1723.2M484.2 1721.6L484.2 1723.2M482.4 1720.7L484.2 1720.7M482.4 1720.7L482.4 1721.7M484.2 1720.7L484.2 1721.6M486.1 1719.9L486.1 1723.2M483.3 1719.1L486.1 1719.1M483.3 1719.1L483.3 1720.7M486.1 1719.1L486.1 1719.9M488.0 1719.4L488.0 1723.2M484.7 1717.8L488.0 1717.8M484.7 1717.8L484.7 1719.1M488.0 1717.8L488.0 1719.4M486.4 1717.1L486.4 1717.8M489.9 1719.6L489.9 1723.2M491.8 1721.2L491.8 1723.2M493.6 1722.4L493.6 1723.2M495.5 1723.3L495.5 1723.2M497.4 1723.3L497.4 1723.2M495.5 1722.5L497.4 1722.5M495.5 1722.5L495.5 1723.3M497.4 1722.5L497.4 1723.3M493.6 1721.5L496.5 1721.5M493.6 1721.5L493.6 1722.4M496.5 1721.5L496.5 1722.5M491.8 1720.4L495.1 1720.4M491.8 1720.4L491.8 1721.2M495.1 1720.4L495.1 1721.5M499.3 1720.7L499.3 1723.2M493.4 1719.5L499.3 1719.5M493.4 1719.5L493.4 1720.4M499.3 1719.5L499.3 1720.7M489.9 1718.4L496.3 1718.4M489.9 1718.4L489.9 1719.6M496.3 1718.4L496.3 1719.5M493.1 1717.2L493.1 1718.4M501.2 1721.5L501.2 1723.2M503.0 1721.5L503.0 1723.2M501.2 1720.5L503.0 1720.5M501.2 1720.5L501.2 1721.5M503.0 1720.5L503.0 1721.5M504.9 1721.7L504.9 1723.2M506.8 1721.7L506.8 1723.2M504.9 1720.7L506.8 1720.7M504.9 1720.7L504.9 1721.7M506.8 1720.7L506.8 1721.7M502.1 1719.6L505.9 1719.6M502.1 1719.6L502.1 1720.5M505.9 1719.6L505.9 1720.7M508.7 1720.4L508.7 1723.2M510.6 1720.7L510.6 1723.2M508.7 1719.3L510.6 1719.3M508.7 1719.3L508.7 1720.4M510.6 1719.3L510.6 1720.7M504.0 1717.0L509.6 1717.0M504.0 1717.0L504.0 1719.6M509.6 1717.0L509.6 1719.3M506.8 1716.2L506.8 1717.0M512.4 1719.8L512.4 1723.2M514.3 1719.0L514.3 1723.2M512.4 1717.3L514.3 1717.3M512.4 1717.3L512.4 1719.8M514.3 1717.3L514.3 1719.0M513.4 1715.8L513.4 1717.3M516.2 1720.7L516.2 1723.2M518.1 1722.7L518.1 1723.2M520.0 1722.6L520.0 1723.2M518.1 1721.8L520.0 1721.8M518.1 1721.8L518.1 1722.7M520.0 1721.8L520.0 1722.6M521.8 1723.7L521.8 1723.2M523.7 1723.6L523.7 1723.2M521.8 1722.7L523.7 1722.7M521.8 1722.7L521.8 1723.7M523.7 1722.7L523.7 1723.6M525.6 1723.5L525.6 1723.2M527.5 1723.7L527.5 1723.2M525.6 1722.7L527.5 1722.7M525.6 1722.7L525.6 1723.5M527.5 1722.7L527.5 1723.7M522.8 1721.8L526.5 1721.8M522.8 1721.8L522.8 1722.7M526.5 1721.8L526.5 1722.7M519.0 1720.9L524.7 1720.9M519.0 1720.9L519.0 1721.8M524.7 1720.9L524.7 1721.8M516.2 1719.6L521.8 1719.6M516.2 1719.6L516.2 1720.7M521.8 1719.6L521.8 1720.9M529.4 1720.5L529.4 1723.2M531.2 1721.0L531.2 1723.2M529.4 1719.4L531.2 1719.4M529.4 1719.4L529.4 1720.5M531.2 1719.4L531.2 1721.0M519.0 1717.2L530.3 1717.2M519.0 1717.2L519.0 1719.6M530.3 1717.2L530.3 1719.4M524.7 1716.1L524.7 1717.2M533.1 1722.6L533.1 1723.2M535.0 1722.6L535.0 1723.2M533.1 1721.7L535.0 1721.7M533.1 1721.7L533.1 1722.6M535.0 1721.7L535.0 1722.6M536.9 1721.7L536.9 1723.2M534.1 1720.8L536.9 1720.8M534.1 1720.8L534.1 1721.7M536.9 1720.8L536.9 1721.7M538.8 1722.0L538.8 1723.2M540.6 1721.9L540.6 1723.2M538.8 1721.0L540.6 1721.0M538.8 1721.0L538.8 1722.0M540.6 1721.0L540.6 1721.9M542.5 1720.9L542.5 1723.2M539.7 1720.0L542.5 1720.0M539.7 1720.0L539.7 1721.0M542.5 1720.0L542.5 1720.9M535.5 1718.9L541.1 1718.9M535.5 1718.9L535.5 1720.8M541.1 1718.9L541.1 1720.0M538.3 1718.4L538.3 1718.9M544.4 1722.5L544.4 1723.2M546.3 1722.5L546.3 1723.2M544.4 1721.6L546.3 1721.6M544.4 1721.6L544.4 1722.5M546.3 1721.6L546.3 1722.5M548.2 1721.7L548.2 1723.2M545.3 1720.8L548.2 1720.8M545.3 1720.8L545.3 1721.6M548.2 1720.8L548.2 1721.7M550.0 1721.8L550.0 1723.2M551.9 1721.9L551.9 1723.2M550.0 1720.9L551.9 1720.9M550.0 1720.9L550.0 1721.8M551.9 1720.9L551.9 1721.9M546.8 1720.0L551.0 1720.0M546.8 1720.0L546.8 1720.8M551.0 1720.0L551.0 1720.9M553.8 1720.9L553.8 1723.2M555.7 1723.2L555.7 1723.2M557.6 1723.2L557.6 1723.2M555.7 1722.3L557.6 1722.3M555.7 1722.3L555.7 1723.2M557.6 1722.3L557.6 1723.2M559.5 1722.3L559.5 1723.2M556.6 1721.4L559.5 1721.4M556.6 1721.4L556.6 1722.3M559.5 1721.4L559.5 1722.3M553.8 1720.0L558.0 1720.0M553.8 1720.0L553.8 1720.9M558.0 1720.0L558.0 1721.4M548.9 1717.7L555.9 1717.7M548.9 1717.7L548.9 1720.0M555.9 1717.7L555.9 1720.0M552.4 1717.1L552.4 1717.7M561.3 1719.1L561.3 1723.2M563.2 1719.2L563.2 1723.2M561.3 1718.1L563.2 1718.1M561.3 1718.1L561.3 1719.1M563.2 1718.1L563.2 1719.2M565.1 1720.1L565.1 1723.2M567.0 1720.5L567.0 1723.2M568.9 1720.7L568.9 1723.2M567.0 1719.5L568.9 1719.5M567.0 1719.5L567.0 1720.5M568.9 1719.5L568.9 1720.7M565.1 1718.5L567.9 1718.5M565.1 1718.5L565.1 1720.1M567.9 1718.5L567.9 1719.5M562.3 1717.3L566.5 1717.3M562.3 1717.3L562.3 1718.1M566.5 1717.3L566.5 1718.5M564.4 1716.0L564.4 1717.3M570.7 1719.4L570.7 1723.2M572.6 1719.7L572.6 1723.2M570.7 1718.4L572.6 1718.4M570.7 1718.4L570.7 1719.4M572.6 1718.4L572.6 1719.7M571.7 1717.2L571.7 1718.4M574.5 1721.6L574.5 1723.2M576.4 1721.5L576.4 1723.2M574.5 1720.6L576.4 1720.6M574.5 1720.6L574.5 1721.6M576.4 1720.6L576.4 1721.5M578.3 1720.7L578.3 1723.2M580.1 1721.1L580.1 1723.2M578.3 1719.9L580.1 1719.9M578.3 1719.9L578.3 1720.7M580.1 1719.9L580.1 1721.1M575.4 1718.9L579.2 1718.9M575.4 1718.9L575.4 1720.6M579.2 1718.9L579.2 1719.9M577.3 1717.9L577.3 1718.9M582.0 1719.3L582.0 1723.2M583.9 1718.9L583.9 1723.2M582.0 1717.8L583.9 1717.8M582.0 1717.8L582.0 1719.3M583.9 1717.8L583.9 1718.9M583.0 1716.7L583.0 1717.8M585.8 1721.4L585.8 1723.2M587.7 1722.8L587.7 1723.2M589.5 1722.8L589.5 1723.2M587.7 1721.9L589.5 1721.9M587.7 1721.9L587.7 1722.8M589.5 1721.9L589.5 1722.8M591.4 1722.7L591.4 1723.2M593.3 1723.5L593.3 1723.2M595.2 1723.6L595.2 1723.2M593.3 1722.6L595.2 1722.6M593.3 1722.6L593.3 1723.5M595.2 1722.6L595.2 1723.6M591.4 1721.8L594.2 1721.8M591.4 1721.8L591.4 1722.7M594.2 1721.8L594.2 1722.6M588.6 1720.9L592.8 1720.9M588.6 1720.9L588.6 1721.9M592.8 1720.9L592.8 1721.8M585.8 1720.1L590.7 1720.1M585.8 1720.1L585.8 1721.4M590.7 1720.1L590.7 1720.9M597.1 1719.6L597.1 1723.2M588.2 1718.0L597.1 1718.0M588.2 1718.0L588.2 1720.1M597.1 1718.0L597.1 1719.6M592.7 1716.9L592.7 1718.0M598.9 1721.2L598.9 1723.2M600.8 1721.0L600.8 1723.2M598.9 1720.0L600.8 1720.0M598.9 1720.0L598.9 1721.2M600.8 1720.0L600.8 1721.0M602.7 1720.5L602.7 1723.2M599.9 1718.4L602.7 1718.4M599.9 1718.4L599.9 1720.0M602.7 1718.4L602.7 1720.5M601.3 1717.5L601.3 1718.4M604.6 1720.1L604.6 1723.2M606.5 1719.7L606.5 1723.2M604.6 1718.7L606.5 1718.7M604.6 1718.7L604.6 1720.1M606.5 1718.7L606.5 1719.7M608.3 1721.9L608.3 1723.2M610.2 1722.0L610.2 1723.2M608.3 1721.0L610.2 1721.0M608.3 1721.0L608.3 1721.9M610.2 1721.0L610.2 1722.0M612.1 1722.4L612.1 1723.2M614.0 1722.5L614.0 1723.2M612.1 1721.5L614.0 1721.5M612.1 1721.5L612.1 1722.4M614.0 1721.5L614.0 1722.5M609.3 1720.2L613.0 1720.2M609.3 1720.2L609.3 1721.0M613.0 1720.2L613.0 1721.5M615.9 1720.4L615.9 1723.2M611.2 1718.6L615.9 1718.6M611.2 1718.6L611.2 1720.2M615.9 1718.6L615.9 1720.4M605.5 1717.4L613.5 1717.4M605.5 1717.4L605.5 1718.7M613.5 1717.4L613.5 1718.6M609.5 1716.8L609.5 1717.4M617.7 1721.1L617.7 1723.2M619.6 1721.3L619.6 1723.2M617.7 1719.9L619.6 1719.9M617.7 1719.9L617.7 1721.1M619.6 1719.9L619.6 1721.3M621.5 1721.8L621.5 1723.2M623.4 1721.7L623.4 1723.2M621.5 1720.7L623.4 1720.7M621.5 1720.7L621.5 1721.8M623.4 1720.7L623.4 1721.7M618.7 1718.8L622.4 1718.8M618.7 1718.8L618.7 1719.9M622.4 1718.8L622.4 1720.7M625.3 1720.2L625.3 1723.2M620.6 1718.0L625.3 1718.0M620.6 1718.0L620.6 1718.8M625.3 1718.0L625.3 1720.2M622.9 1716.9L622.9 1718.0M627.1 1722.0L627.1 1723.2M629.0 1722.0L629.0 1723.2M627.1 1721.1L629.0 1721.1M627.1 1721.1L627.1 1722.0M629.0 1721.1L629.0 1722.0M630.9 1721.0L630.9 1723.2M628.1 1720.1L630.9 1720.1M628.1 1720.1L628.1 1721.1M630.9 1720.1L630.9 1721.0M632.8 1721.4L632.8 1723.2M634.7 1721.5L634.7 1723.2M632.8 1720.6L634.7 1720.6M632.8 1720.6L632.8 1721.4M634.7 1720.6L634.7 1721.5M636.5 1721.0L636.5 1723.2M638.4 1722.4L638.4 1723.2M640.3 1722.3L640.3 1723.2M638.4 1721.5L640.3 1721.5M638.4 1721.5L638.4 1722.4M640.3 1721.5L640.3 1722.3M636.5 1720.2L639.4 1720.2M636.5 1720.2L636.5 1721.0M639.4 1720.2L639.4 1721.5M633.7 1719.1L638.0 1719.1M633.7 1719.1L633.7 1720.6M638.0 1719.1L638.0 1720.2M629.5 1717.7L635.8 1717.7M629.5 1717.7L629.5 1720.1M635.8 1717.7L635.8 1719.1M632.7 1717.0L632.7 1717.7M642.2 1720.8L642.2 1723.2M644.1 1723.8L644.1 1723.2M645.9 1724.6L645.9 1723.2M647.8 1724.6L647.8 1723.2M645.9 1723.7L647.8 1723.7M645.9 1723.7L645.9 1724.6M647.8 1723.7L647.8 1724.6M644.1 1722.9L646.9 1722.9M644.1 1722.9L644.1 1723.8M646.9 1722.9L646.9 1723.7M649.7 1722.9L649.7 1723.2M645.5 1722.0L649.7 1722.0M645.5 1722.0L645.5 1722.9M649.7 1722.0L649.7 1722.9M651.6 1722.0L651.6 1723.2M647.6 1721.0L651.6 1721.0M647.6 1721.0L647.6 1722.0M651.6 1721.0L651.6 1722.0M642.2 1719.7L649.6 1719.7M642.2 1719.7L642.2 1720.8M649.6 1719.7L649.6 1721.0M653.5 1721.7L653.5 1723.2M655.3 1721.5L655.3 1723.2M653.5 1720.6L655.3 1720.6M653.5 1720.6L653.5 1721.7M655.3 1720.6L655.3 1721.5M657.2 1720.5L657.2 1723.2M654.4 1719.3L657.2 1719.3M654.4 1719.3L654.4 1720.6M657.2 1719.3L657.2 1720.5M645.9 1718.1L655.8 1718.1M645.9 1718.1L645.9 1719.7M655.8 1718.1L655.8 1719.3M650.9 1716.7L650.9 1718.1M659.1 1721.3L659.1 1723.2M661.0 1721.3L661.0 1723.2M659.1 1720.1L661.0 1720.1M659.1 1720.1L659.1 1721.3M661.0 1720.1L661.0 1721.3M662.9 1720.6L662.9 1723.2M660.0 1718.7L662.9 1718.7M660.0 1718.7L660.0 1720.1M662.9 1718.7L662.9 1720.6M664.7 1719.4L664.7 1723.2M661.5 1717.5L664.7 1717.5M661.5 1717.5L661.5 1718.7M664.7 1717.5L664.7 1719.4M663.1 1716.9L663.1 1717.5M666.6 1719.8L666.6 1723.2M668.5 1720.7L668.5 1723.2M670.4 1721.4L670.4 1723.2M672.3 1721.4L672.3 1723.2M670.4 1720.5L672.3 1720.5M670.4 1720.5L670.4 1721.4M672.3 1720.5L672.3 1721.4M668.5 1719.1L671.3 1719.1M668.5 1719.1L668.5 1720.7M671.3 1719.1L671.3 1720.5M666.6 1717.0L669.9 1717.0M666.6 1717.0L666.6 1719.8M669.9 1717.0L669.9 1719.1M668.3 1716.2L668.3 1717.0M674.1 1720.3L674.1 1723.2M676.0 1722.0L676.0 1723.2M677.9 1722.8L677.9 1723.2M679.8 1724.7L679.8 1723.2M681.7 1724.8L681.7 1723.2M679.8 1723.8L681.7 1723.8M679.8 1723.8L679.8 1724.7M681.7 1723.8L681.7 1724.8M683.6 1723.8L683.6 1723.2M680.7 1722.9L683.6 1722.9M680.7 1722.9L680.7 1723.8M683.6 1722.9L683.6 1723.8M677.9 1721.9L682.1 1721.9M677.9 1721.9L677.9 1722.8M682.1 1721.9L682.1 1722.9M676.0 1721.1L680.0 1721.1M676.0 1721.1L676.0 1722.0M680.0 1721.1L680.0 1721.9M685.4 1720.5L685.4 1723.2M678.0 1719.5L685.4 1719.5M678.0 1719.5L678.0 1721.1M685.4 1719.5L685.4 1720.5M674.1 1718.0L681.7 1718.0M674.1 1718.0L674.1 1720.3M681.7 1718.0L681.7 1719.5M687.3 1718.1L687.3 1723.2M677.9 1717.0L687.3 1717.0M677.9 1717.0L677.9 1718.0M687.3 1717.0L687.3 1718.1M682.6 1715.6L682.6 1717.0M689.2 1720.9L689.2 1723.2M691.1 1720.5L691.1 1723.2M689.2 1719.5L691.1 1719.5M689.2 1719.5L689.2 1720.9M691.1 1719.5L691.1 1720.5M693.0 1720.1L693.0 1723.2M690.1 1718.4L693.0 1718.4M690.1 1718.4L690.1 1719.5M693.0 1718.4L693.0 1720.1M691.5 1717.5L691.5 1718.4M694.8 1719.4L694.8 1723.2M696.7 1720.0L696.7 1723.2M694.8 1717.6L696.7 1717.6M694.8 1717.6L694.8 1719.4M696.7 1717.6L696.7 1720.0M695.8 1716.9L695.8 1717.6M698.6 1723.2L698.6 1723.2M700.5 1723.3L700.5 1723.2M698.6 1722.3L700.5 1722.3M698.6 1722.3L698.6 1723.2M700.5 1722.3L700.5 1723.3M702.4 1722.3L702.4 1723.2M699.5 1721.4L702.4 1721.4M699.5 1721.4L699.5 1722.3M702.4 1721.4L702.4 1722.3M704.2 1721.2L704.2 1723.2M700.9 1720.3L704.2 1720.3M700.9 1720.3L700.9 1721.4M704.2 1720.3L704.2 1721.2M706.1 1721.8L706.1 1723.2M708.0 1721.8L708.0 1723.2M706.1 1720.9L708.0 1720.9M706.1 1720.9L706.1 1721.8M708.0 1720.9L708.0 1721.8M709.9 1720.6L709.9 1723.2M707.1 1719.6L709.9 1719.6M707.1 1719.6L707.1 1720.9M709.9 1719.6L709.9 1720.6M702.6 1718.5L708.5 1718.5M702.6 1718.5L702.6 1720.3M708.5 1718.5L708.5 1719.6M705.5 1717.2L705.5 1718.5M711.8 1720.7L711.8 1723.2M713.6 1719.7L713.6 1723.2M711.8 1718.8L713.6 1718.8M711.8 1718.8L711.8 1720.7M713.6 1718.8L713.6 1719.7M712.7 1717.4L712.7 1718.8M715.5 1719.5L715.5 1723.2M717.4 1720.6L717.4 1723.2M715.5 1718.6L717.4 1718.6M715.5 1718.6L715.5 1719.5M717.4 1718.6L717.4 1720.6M719.3 1719.7L719.3 1723.2M716.5 1717.0L719.3 1717.0M716.5 1717.0L716.5 1718.6M719.3 1717.0L719.3 1719.7M717.9 1715.5L717.9 1717.0M721.2 1721.1L721.2 1723.2M723.0 1721.8L723.0 1723.2M724.9 1723.6L724.9 1723.2M726.8 1723.7L726.8 1723.2M724.9 1722.8L726.8 1722.8M724.9 1722.8L724.9 1723.6M726.8 1722.8L726.8 1723.7M728.7 1722.8L728.7 1723.2M725.9 1722.0L728.7 1722.0M725.9 1722.0L725.9 1722.8M728.7 1722.0L728.7 1722.8M723.0 1721.0L727.3 1721.0M723.0 1721.0L723.0 1721.8M727.3 1721.0L727.3 1722.0M721.2 1719.5L725.2 1719.5M721.2 1719.5L721.2 1721.1M725.2 1719.5L725.2 1721.0M730.6 1720.1L730.6 1723.2M723.2 1718.2L730.6 1718.2M723.2 1718.2L723.2 1719.5M730.6 1718.2L730.6 1720.1M726.9 1716.8L726.9 1718.2M732.4 1721.2L732.4 1723.2M734.3 1721.6L734.3 1723.2M736.2 1721.7L736.2 1723.2M734.3 1720.8L736.2 1720.8M734.3 1720.8L734.3 1721.6M736.2 1720.8L736.2 1721.7M732.4 1719.6L735.3 1719.6M732.4 1719.6L732.4 1721.2M735.3 1719.6L735.3 1720.8M738.1 1722.1L738.1 1723.2M740.0 1722.1L740.0 1723.2M738.1 1721.2L740.0 1721.2M738.1 1721.2L738.1 1722.1M740.0 1721.2L740.0 1722.1M741.8 1721.4L741.8 1723.2M739.0 1720.1L741.8 1720.1M739.0 1720.1L739.0 1721.2M741.8 1720.1L741.8 1721.4M733.8 1717.6L740.4 1717.6M733.8 1717.6L733.8 1719.6M740.4 1717.6L740.4 1720.1M737.1 1717.1L737.1 1717.6M743.7 1720.3L743.7 1723.2M745.6 1721.7L745.6 1723.2M747.5 1721.7L747.5 1723.2M745.6 1720.6L747.5 1720.6M745.6 1720.6L745.6 1721.7M747.5 1720.6L747.5 1721.7M743.7 1719.2L746.5 1719.2M743.7 1719.2L743.7 1720.3M746.5 1719.2L746.5 1720.6M749.4 1721.5L749.4 1723.2M751.2 1721.8L751.2 1723.2M749.4 1720.7L751.2 1720.7M749.4 1720.7L749.4 1721.5M751.2 1720.7L751.2 1721.8M753.1 1720.9L753.1 1723.2M750.3 1719.7L753.1 1719.7M750.3 1719.7L750.3 1720.7M753.1 1719.7L753.1 1720.9M745.1 1718.1L751.7 1718.1M745.1 1718.1L745.1 1719.2M751.7 1718.1L751.7 1719.7M748.4 1717.4L748.4 1718.1M755.0 1719.8L755.0 1723.2M756.9 1722.2L756.9 1723.2M758.8 1722.2L758.8 1723.2M756.9 1721.3L758.8 1721.3M756.9 1721.3L756.9 1722.2M758.8 1721.3L758.8 1722.2M760.6 1721.6L760.6 1723.2M757.8 1720.4L760.6 1720.4M757.8 1720.4L757.8 1721.3M760.6 1720.4L760.6 1721.6M755.0 1719.0L759.2 1719.0M755.0 1719.0L755.0 1719.8M759.2 1719.0L759.2 1720.4M762.5 1721.6L762.5 1723.2M764.4 1721.8L764.4 1723.2M762.5 1720.7L764.4 1720.7M762.5 1720.7L762.5 1721.6M764.4 1720.7L764.4 1721.8M766.3 1721.6L766.3 1723.2M768.2 1721.7L768.2 1723.2M766.3 1720.8L768.2 1720.8M766.3 1720.8L766.3 1721.6M768.2 1720.8L768.2 1721.7M763.5 1719.6L767.2 1719.6M763.5 1719.6L763.5 1720.7M767.2 1719.6L767.2 1720.8M757.1 1717.2L765.3 1717.2M757.1 1717.2L757.1 1719.0M765.3 1717.2L765.3 1719.6M761.2 1716.4L761.2 1717.2M770.0 1721.6L770.0 1723.2M771.9 1721.6L771.9 1723.2M770.0 1720.5L771.9 1720.5M770.0 1720.5L770.0 1721.6M771.9 1720.5L771.9 1721.6M773.8 1720.8L773.8 1723.2M771.0 1719.2L773.8 1719.2M771.0 1719.2L771.0 1720.5M773.8 1719.2L773.8 1720.8M775.7 1719.9L775.7 1723.2M777.6 1721.4L777.6 1723.2M779.4 1721.6L779.4 1723.2M777.6 1720.3L779.4 1720.3M777.6 1720.3L777.6 1721.4M779.4 1720.3L779.4 1721.6M775.7 1719.0L778.5 1719.0M775.7 1719.0L775.7 1719.9M778.5 1719.0L778.5 1720.3M772.4 1717.7L777.1 1717.7M772.4 1717.7L772.4 1719.2M777.1 1717.7L777.1 1719.0M774.7 1717.0L774.7 1717.7M781.3 1720.4L781.3 1723.2M783.2 1720.3L783.2 1723.2M781.3 1719.2L783.2 1719.2M781.3 1719.2L781.3 1720.4M783.2 1719.2L783.2 1720.3M785.1 1720.0L785.1 1723.2M782.3 1718.1L785.1 1718.1M782.3 1718.1L782.3 1719.2M785.1 1718.1L785.1 1720.0M787.0 1720.9L787.0 1723.2M788.8 1720.5L788.8 1723.2M787.0 1719.3L788.8 1719.3M787.0 1719.3L787.0 1720.9M788.8 1719.3L788.8 1720.5M783.7 1717.1L787.9 1717.1M783.7 1717.1L783.7 1718.1M787.9 1717.1L787.9 1719.3M785.8 1715.9L785.8 1717.1M790.7 1720.0L790.7 1723.2M792.6 1720.8L792.6 1723.2M790.7 1719.2L792.6 1719.2M790.7 1719.2L790.7 1720.0M792.6 1719.2L792.6 1720.8M794.5 1720.0L794.5 1723.2M796.4 1721.4L796.4 1723.2M798.2 1722.7L798.2 1723.2M800.1 1723.4L800.1 1723.2M802.0 1723.4L802.0 1723.2M800.1 1722.6L802.0 1722.6M800.1 1722.6L800.1 1723.4M802.0 1722.6L802.0 1723.4M798.2 1721.7L801.1 1721.7M798.2 1721.7L798.2 1722.7M801.1 1721.7L801.1 1722.6M796.4 1720.6L799.7 1720.6M796.4 1720.6L796.4 1721.4M799.7 1720.6L799.7 1721.7M794.5 1719.1L798.0 1719.1M794.5 1719.1L794.5 1720.0M798.0 1719.1L798.0 1720.6M791.7 1717.3L796.3 1717.3M791.7 1717.3L791.7 1719.2M796.3 1717.3L796.3 1719.1M794.0 1716.5L794.0 1717.3M803.9 1719.2L803.9 1723.2M805.8 1721.4L805.8 1723.2M807.7 1723.2L807.7 1723.2M809.5 1724.0L809.5 1723.2M811.4 1724.0L811.4 1723.2M809.5 1723.2L811.4 1723.2M809.5 1723.2L809.5 1724.0M811.4 1723.2L811.4 1724.0M807.7 1722.3L810.5 1722.3M807.7 1722.3L807.7 1723.2M810.5 1722.3L810.5 1723.2M813.3 1722.4L813.3 1723.2M809.1 1721.4L813.3 1721.4M809.1 1721.4L809.1 1722.3M813.3 1721.4L813.3 1722.4M805.8 1720.2L811.2 1720.2M805.8 1720.2L805.8 1721.4M811.2 1720.2L811.2 1721.4M815.2 1720.7L815.2 1723.2M817.1 1720.4L817.1 1723.2M815.2 1719.5L817.1 1719.5M815.2 1719.5L815.2 1720.7M817.1 1719.5L817.1 1720.4M808.5 1718.6L816.1 1718.6M808.5 1718.6L808.5 1720.2M816.1 1718.6L816.1 1719.5M803.9 1717.7L812.3 1717.7M803.9 1717.7L803.9 1719.2M812.3 1717.7L812.3 1718.6M808.1 1716.4L808.1 1717.7M818.9 1721.6L818.9 1723.2M820.8 1721.5L820.8 1723.2M818.9 1720.4L820.8 1720.4M818.9 1720.4L818.9 1721.6M820.8 1720.4L820.8 1721.5M822.7 1721.8L822.7 1723.2M824.6 1721.8L824.6 1723.2M822.7 1720.7L824.6 1720.7M822.7 1720.7L822.7 1721.8M824.6 1720.7L824.6 1721.8M826.5 1721.9L826.5 1723.2M828.3 1721.8L828.3 1723.2M826.5 1721.0L828.3 1721.0M826.5 1721.0L826.5 1721.9M828.3 1721.0L828.3 1721.8M823.6 1719.8L827.4 1719.8M823.6 1719.8L823.6 1720.7M827.4 1719.8L827.4 1721.0M819.9 1718.5L825.5 1718.5M819.9 1718.5L819.9 1720.4M825.5 1718.5L825.5 1719.8M822.7 1717.7L822.7 1718.5M830.2 1720.7L830.2 1723.2M832.1 1721.3L832.1 1723.2M830.2 1719.9L832.1 1719.9M830.2 1719.9L830.2 1720.7M832.1 1719.9L832.1 1721.3M834.0 1720.5L834.0 1723.2M831.2 1718.9L834.0 1718.9M831.2 1718.9L831.2 1719.9M834.0 1718.9L834.0 1720.5M835.9 1721.9L835.9 1723.2M837.7 1722.9L837.7 1723.2M839.6 1722.8L839.6 1723.2M837.7 1721.9L839.6 1721.9M837.7 1721.9L837.7 1722.9M839.6 1721.9L839.6 1722.8M835.9 1721.0L838.7 1721.0M835.9 1721.0L835.9 1721.9M838.7 1721.0L838.7 1721.9M841.5 1721.0L841.5 1723.2M837.3 1720.1L841.5 1720.1M837.3 1720.1L837.3 1721.0M841.5 1720.1L841.5 1721.0M832.6 1717.7L839.4 1717.7M832.6 1717.7L832.6 1718.9M839.4 1717.7L839.4 1720.1M836.0 1716.9L836.0 1717.7M843.4 1720.2L843.4 1723.2M845.3 1719.6L845.3 1723.2M843.4 1718.6L845.3 1718.6M843.4 1718.6L843.4 1720.2M845.3 1718.6L845.3 1719.6M844.3 1717.1L844.3 1718.6M847.1 1721.0L847.1 1723.2M849.0 1720.7L849.0 1723.2M847.1 1719.8L849.0 1719.8M847.1 1719.8L847.1 1721.0M849.0 1719.8L849.0 1720.7M850.9 1721.7L850.9 1723.2M852.8 1722.6L852.8 1723.2M854.7 1722.6L854.7 1723.2M852.8 1721.7L854.7 1721.7M852.8 1721.7L852.8 1722.6M854.7 1721.7L854.7 1722.6M850.9 1720.8L853.7 1720.8M850.9 1720.8L850.9 1721.7M853.7 1720.8L853.7 1721.7M856.5 1720.7L856.5 1723.2M852.3 1719.7L856.5 1719.7M852.3 1719.7L852.3 1720.8M856.5 1719.7L856.5 1720.7M848.1 1718.7L854.4 1718.7M848.1 1718.7L848.1 1719.8M854.4 1718.7L854.4 1719.7M858.4 1720.6L858.4 1723.2M860.3 1720.7L860.3 1723.2M858.4 1719.7L860.3 1719.7M858.4 1719.7L858.4 1720.6M860.3 1719.7L860.3 1720.7M851.3 1717.0L859.4 1717.0M851.3 1717.0L851.3 1718.7M859.4 1717.0L859.4 1719.7M855.3 1715.6L855.3 1717.0M862.2 1718.0L862.2 1723.2M864.1 1718.1L864.1 1723.2M862.2 1716.9L864.1 1716.9M862.2 1716.9L862.2 1718.0M864.1 1716.9L864.1 1718.1M863.1 1715.6L863.1 1716.9" stroke="#3d3d3d" stroke-width="1.80" fill="none"/>
<text x="1144.80" y="1950.40" font-size="23.70" font-weight="bold" fill="#000">Group</text>
<rect x="1144.80" y="1964.10" width="25.20" height="24.80" fill="#55bcc0"/>
<rect x="1144.80" y="1992.10" width="25.20" height="24.40" fill="#e87a70"/>
<text x="1179.60" y="1985.60" font-size="23.50" fill="#000">H</text>
<text x="1179.60" y="2013.30" font-size="23.50" fill="#000">CRC</text>
<text x="1144.80" y="2062.90" font-size="23.70" font-weight="bold" fill="#000">Abundance</text>
<text x="1144.80" y="2088.80" font-size="23.70" font-weight="bold" fill="#000">(CLR)</text>
<rect x="1143.00" y="2101.40" width="29.20" height="1.05" fill="#e53c25"/><rect x="1143.00" y="2102.40" width="29.20" height="1.05" fill="#e53c25"/><rect x="1143.00" y="2103.40" width="29.20" height="1.05" fill="#e53c25"/><rect x="1143.00" y="2104.40" width="29.20" height="1.05" fill="#e53c25"/><rect x="1143.00" y="2105.40" width="29.20" height="1.05" fill="#e53c25"/><rect x="1143.00" y="2106.40" width="29.20" height="1.05" fill="#e53c25"/><rect x="1143.00" y="2107.40" width="29.20" height="1.05" fill="#e53d26"/><rect x="1143.00" y="2108.40" width="29.20" height="1.05" fill="#e53d27"/><rect x="1143.00" y="2109.40" width="29.20" height="1.05" fill="#e53e28"/><rect x="1143.00" y="2110.40" width="29.20" height="1.05" fill="#e53f29"/><rect x="1143.00" y="2111.40" width="29.20" height="1.05" fill="#e5402a"/><rect x="1143.00" y="2112.40" width="29.20" height="1.05" fill="#e5412b"/><rect x="1143.00" y="2113.40" width="29.20" height="1.05" fill="#e5422c"/><rect x="1143.00" y="2114.40" width="29.20" height="1.05" fill="#e5432e"/><rect x="1143.00" y="2115.40" width="29.20" height="1.05" fill="#e5442f"/><rect x="1143.00" y="2116.40" width="29.20" height="1.05" fill="#e54530"/><rect x="1143.00" y="2117.40" width="29.20" height="1.05" fill="#e54531"/><rect x="1143.00" y="2118.40" width="29.20" height="1.05" fill="#e64632"/><rect x="1143.00" y="2119.40" width="29.20" height="1.05" fill="#e64733"/><rect x="1143.00" y="2120.40" width="29.20" height="1.05" fill="#e64834"/><rect x="1143.00" y="2121.40" width="29.20" height="1.05" fill="#e64935"/><rect x="1143.00" y="2122.40" width="29.20" height="1.05" fill="#e64a36"/><rect x="1143.00" y="2123.40" width="29.20" height="1.05" fill="#e64b38"/><rect x="1143.00" y="2124.40" width="29.20" height="1.05" fill="#e64c39"/><rect x="1143.00" y="2125.40" width="29.20" height="1.05" fill="#e64d3a"/><rect x="1143.00" y="2126.40" width="29.20" height="1.05" fill="#e64e3b"/><rect x="1143.00" y="2127.40" width="29.20" height="1.05" fill="#e64e3c"/><rect x="1143.00" y="2128.40" width="29.20" height="1.05" fill="#e64f3d"/><rect x="1143.00" y="2129.40" width="29.20" height="1.05" fill="#e6513f"/><rect x="1143.00" y="2130.40" width="29.20" height="1.05" fill="#e65341"/><rect x="1143.00" y="2131.40" width="29.20" height="1.05" fill="#e75644"/><rect x="1143.00" y="2132.40" width="29.20" height="1.05" fill="#e75947"/><rect x="1143.00" y="2133.40" width="29.20" height="1.05" fill="#e75b49"/><rect x="1143.00" y="2134.40" width="29.20" height="1.05" fill="#e75e4c"/><rect x="1143.00" y="2135.40" width="29.20" height="1.05" fill="#e8614f"/><rect x="1143.00" y="2136.40" width="29.20" height="1.05" fill="#e86452"/><rect x="1143.00" y="2137.40" width="29.20" height="1.05" fill="#e86654"/><rect x="1143.00" y="2138.40" width="29.20" height="1.05" fill="#e86957"/><rect x="1143.00" y="2139.40" width="29.20" height="1.05" fill="#e96c5a"/><rect x="1143.00" y="2140.40" width="29.20" height="1.05" fill="#e96e5c"/><rect x="1143.00" y="2141.40" width="29.20" height="1.05" fill="#e9715f"/><rect x="1143.00" y="2142.40" width="29.20" height="1.05" fill="#ea7462"/><rect x="1143.00" y="2143.40" width="29.20" height="1.05" fill="#ea7664"/><rect x="1143.00" y="2144.40" width="29.20" height="1.05" fill="#ea7967"/><rect x="1143.00" y="2145.40" width="29.20" height="1.05" fill="#ea7c6a"/><rect x="1143.00" y="2146.40" width="29.20" height="1.05" fill="#eb7e6c"/><rect x="1143.00" y="2147.40" width="29.20" height="1.05" fill="#eb816f"/><rect x="1143.00" y="2148.40" width="29.20" height="1.05" fill="#eb8472"/><rect x="1143.00" y="2149.40" width="29.20" height="1.05" fill="#eb8674"/><rect x="1143.00" y="2150.40" width="29.20" height="1.05" fill="#ec8977"/><rect x="1143.00" y="2151.40" width="29.20" height="1.05" fill="#ec8c7a"/><rect x="1143.00" y="2152.40" width="29.20" height="1.05" fill="#ec8f7d"/><rect x="1143.00" y="2153.40" width="29.20" height="1.05" fill="#ed9280"/><rect x="1143.00" y="2154.40" width="29.20" height="1.05" fill="#ed9683"/><rect x="1143.00" y="2155.40" width="29.20" height="1.05" fill="#ee9986"/><rect x="1143.00" y="2156.40" width="29.20" height="1.05" fill="#ee9d89"/><rect x="1143.00" y="2157.40" width="29.20" height="1.05" fill="#eea08d"/><rect x="1143.00" y="2158.40" width="29.20" height="1.05" fill="#efa390"/><rect x="1143.00" y="2159.40" width="29.20" height="1.05" fill="#efa793"/><rect x="1143.00" y="2160.40" width="29.20" height="1.05" fill="#efaa96"/><rect x="1143.00" y="2161.40" width="29.20" height="1.05" fill="#f0ad99"/><rect x="1143.00" y="2162.40" width="29.20" height="1.05" fill="#f0b19c"/><rect x="1143.00" y="2163.40" width="29.20" height="1.05" fill="#f1b49f"/><rect x="1143.00" y="2164.40" width="29.20" height="1.05" fill="#f1b7a3"/><rect x="1143.00" y="2165.40" width="29.20" height="1.05" fill="#f1bba6"/><rect x="1143.00" y="2166.40" width="29.20" height="1.05" fill="#f2bea9"/><rect x="1143.00" y="2167.40" width="29.20" height="1.05" fill="#f2c2ac"/><rect x="1143.00" y="2168.40" width="29.20" height="1.05" fill="#f3c5af"/><rect x="1143.00" y="2169.40" width="29.20" height="1.05" fill="#f3c8b2"/><rect x="1143.00" y="2170.40" width="29.20" height="1.05" fill="#f3cbb6"/><rect x="1143.00" y="2171.40" width="29.20" height="1.05" fill="#f3ceb9"/><rect x="1143.00" y="2172.40" width="29.20" height="1.05" fill="#f4d2bc"/><rect x="1143.00" y="2173.40" width="29.20" height="1.05" fill="#f4d5bf"/><rect x="1143.00" y="2174.40" width="29.20" height="1.05" fill="#f4d8c3"/><rect x="1143.00" y="2175.40" width="29.20" height="1.05" fill="#f4dbc6"/><rect x="1143.00" y="2176.40" width="29.20" height="1.05" fill="#f5dec9"/><rect x="1143.00" y="2177.40" width="29.20" height="1.05" fill="#f5e1cc"/><rect x="1143.00" y="2178.40" width="29.20" height="1.05" fill="#f5e4d0"/><rect x="1143.00" y="2179.40" width="29.20" height="1.05" fill="#f5e8d3"/><rect x="1143.00" y="2180.40" width="29.20" height="1.05" fill="#f5ebd6"/><rect x="1143.00" y="2181.40" width="29.20" height="1.05" fill="#f6eeda"/><rect x="1143.00" y="2182.40" width="29.20" height="1.05" fill="#f6f1dd"/><rect x="1143.00" y="2183.40" width="29.20" height="1.05" fill="#f5f1de"/><rect x="1143.00" y="2184.40" width="29.20" height="1.05" fill="#f4f0df"/><rect x="1143.00" y="2185.40" width="29.20" height="1.05" fill="#f2efe0"/><rect x="1143.00" y="2186.40" width="29.20" height="1.05" fill="#f1eee1"/><rect x="1143.00" y="2187.40" width="29.20" height="1.05" fill="#f0ede1"/><rect x="1143.00" y="2188.40" width="29.20" height="1.05" fill="#eeece2"/><rect x="1143.00" y="2189.40" width="29.20" height="1.05" fill="#edebe3"/><rect x="1143.00" y="2190.40" width="29.20" height="1.05" fill="#ece9e4"/><rect x="1143.00" y="2191.40" width="29.20" height="1.05" fill="#eae8e4"/><rect x="1143.00" y="2192.40" width="29.20" height="1.05" fill="#e9e7e5"/><rect x="1143.00" y="2193.40" width="29.20" height="1.05" fill="#e8e6e6"/><rect x="1143.00" y="2194.40" width="29.20" height="1.05" fill="#e6e5e7"/><rect x="1143.00" y="2195.40" width="29.20" height="1.05" fill="#e5e4e7"/><rect x="1143.00" y="2196.40" width="29.20" height="1.05" fill="#e3e2e8"/><rect x="1143.00" y="2197.40" width="29.20" height="1.05" fill="#e1e0e8"/><rect x="1143.00" y="2198.40" width="29.20" height="1.05" fill="#dfdde8"/><rect x="1143.00" y="2199.40" width="29.20" height="1.05" fill="#dcdbe8"/><rect x="1143.00" y="2200.40" width="29.20" height="1.05" fill="#dad8e8"/><rect x="1143.00" y="2201.40" width="29.20" height="1.05" fill="#d8d6e8"/><rect x="1143.00" y="2202.40" width="29.20" height="1.05" fill="#d5d3e7"/><rect x="1143.00" y="2203.40" width="29.20" height="1.05" fill="#d3d0e7"/><rect x="1143.00" y="2204.40" width="29.20" height="1.05" fill="#d1cee7"/><rect x="1143.00" y="2205.40" width="29.20" height="1.05" fill="#cecbe7"/><rect x="1143.00" y="2206.40" width="29.20" height="1.05" fill="#ccc9e7"/><rect x="1143.00" y="2207.40" width="29.20" height="1.05" fill="#cac6e7"/><rect x="1143.00" y="2208.40" width="29.20" height="1.05" fill="#c7c4e7"/><rect x="1143.00" y="2209.40" width="29.20" height="1.05" fill="#c5c1e7"/><rect x="1143.00" y="2210.40" width="29.20" height="1.05" fill="#c3bfe7"/><rect x="1143.00" y="2211.40" width="29.20" height="1.05" fill="#c0bce7"/><rect x="1143.00" y="2212.40" width="29.20" height="1.05" fill="#beb9e7"/><rect x="1143.00" y="2213.40" width="29.20" height="1.05" fill="#bcb7e6"/><rect x="1143.00" y="2214.40" width="29.20" height="1.05" fill="#b9b4e6"/><rect x="1143.00" y="2215.40" width="29.20" height="1.05" fill="#b7b2e6"/><rect x="1143.00" y="2216.40" width="29.20" height="1.05" fill="#b5afe6"/><rect x="1143.00" y="2217.40" width="29.20" height="1.05" fill="#b2ade6"/><rect x="1143.00" y="2218.40" width="29.20" height="1.05" fill="#b0aae6"/><rect x="1143.00" y="2219.40" width="29.20" height="1.05" fill="#aea7e6"/><rect x="1143.00" y="2220.40" width="29.20" height="1.05" fill="#aba5e6"/><rect x="1143.00" y="2221.40" width="29.20" height="1.05" fill="#a9a2e7"/><rect x="1143.00" y="2222.40" width="29.20" height="1.05" fill="#a79fe7"/><rect x="1143.00" y="2223.40" width="29.20" height="1.05" fill="#a59de7"/><rect x="1143.00" y="2224.40" width="29.20" height="1.05" fill="#a29ae7"/><rect x="1143.00" y="2225.40" width="29.20" height="1.05" fill="#a097e7"/><rect x="1143.00" y="2226.40" width="29.20" height="1.05" fill="#9e95e7"/><rect x="1143.00" y="2227.40" width="29.20" height="1.05" fill="#9b92e8"/><rect x="1143.00" y="2228.40" width="29.20" height="1.05" fill="#998fe8"/><rect x="1143.00" y="2229.40" width="29.20" height="1.05" fill="#978de8"/><rect x="1143.00" y="2230.40" width="29.20" height="1.05" fill="#948ae8"/><rect x="1143.00" y="2231.40" width="29.20" height="1.05" fill="#9287e8"/><rect x="1143.00" y="2232.40" width="29.20" height="1.05" fill="#9085e8"/><rect x="1143.00" y="2233.40" width="29.20" height="1.05" fill="#8d82e9"/><rect x="1143.00" y="2234.40" width="29.20" height="1.05" fill="#8b7fe9"/><rect x="1143.00" y="2235.40" width="29.20" height="1.05" fill="#897de9"/><rect x="1143.00" y="2236.40" width="29.20" height="1.05" fill="#867ae9"/><rect x="1143.00" y="2237.40" width="29.20" height="1.05" fill="#8477e9"/><rect x="1143.00" y="2238.40" width="29.20" height="1.05" fill="#8274ea"/><rect x="1143.00" y="2239.40" width="29.20" height="1.05" fill="#7f72ea"/><rect x="1143.00" y="2240.40" width="29.20" height="1.05" fill="#7d6fea"/><rect x="1143.00" y="2241.40" width="29.20" height="1.05" fill="#7c6eea"/><rect x="1143.00" y="2242.40" width="29.20" height="1.05" fill="#7c6eea"/><rect x="1143.00" y="2243.40" width="29.20" height="1.05" fill="#7c6eea"/><rect x="1143.00" y="2244.40" width="29.20" height="1.05" fill="#7b6dea"/><rect x="1143.00" y="2245.40" width="29.20" height="1.05" fill="#7b6dea"/>
<rect x="1143.00" y="2106.60" width="5" height="1.4" fill="#fff" opacity="0.85"/>
<rect x="1167.20" y="2106.60" width="5" height="1.4" fill="#fff" opacity="0.85"/>
<text x="1178.90" y="2113.60" font-size="17.60" fill="#000">10</text>
<rect x="1143.00" y="2151.00" width="5" height="1.4" fill="#fff" opacity="0.85"/>
<rect x="1167.20" y="2151.00" width="5" height="1.4" fill="#fff" opacity="0.85"/>
<text x="1178.90" y="2158.00" font-size="17.60" fill="#000">5</text>
<rect x="1143.00" y="2194.70" width="5" height="1.4" fill="#fff" opacity="0.85"/>
<rect x="1167.20" y="2194.70" width="5" height="1.4" fill="#fff" opacity="0.85"/>
<text x="1178.90" y="2201.70" font-size="17.60" fill="#000">0</text>
<rect x="1143.00" y="2240.60" width="5" height="1.4" fill="#fff" opacity="0.85"/>
<rect x="1167.20" y="2240.60" width="5" height="1.4" fill="#fff" opacity="0.85"/>
<text x="1178.90" y="2247.60" font-size="17.60" fill="#000">-5</text>
</svg></body></html>
